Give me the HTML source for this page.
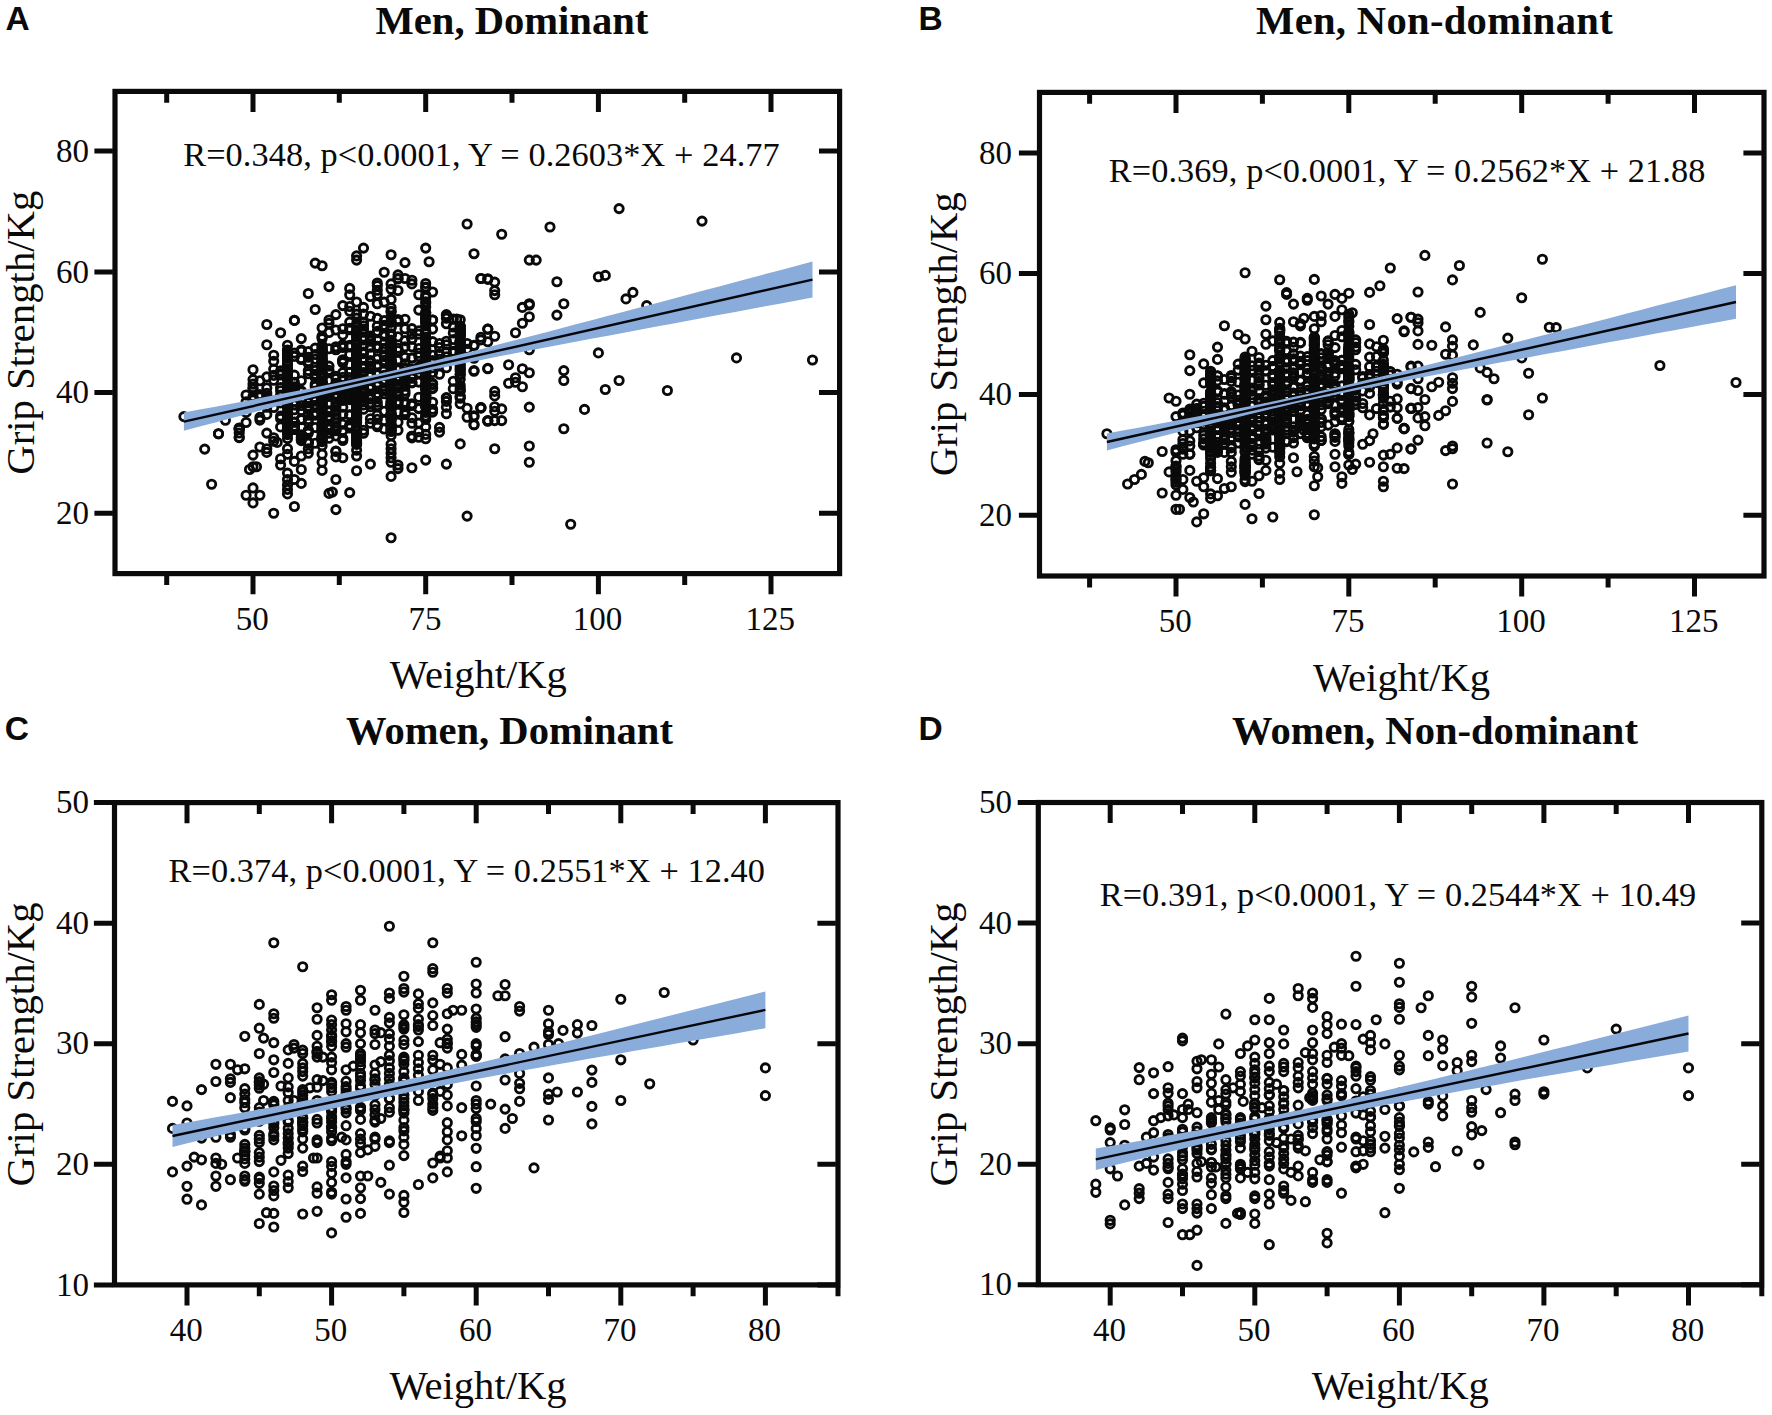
<!DOCTYPE html>
<html lang="en"><head><meta charset="utf-8"><title>Grip strength vs weight</title>
<style>
html,body{margin:0;padding:0;background:#fff}
svg{display:block}
text{font-family:"Liberation Serif","Times New Roman",serif;fill:#0a0a0a}
.tk{font-size:33px}
.an{font-size:34.3px}
.ax{font-size:40.6px}
.ti{font-size:40.6px;font-weight:bold}
.lt{font-family:"Liberation Sans",Arial,sans-serif;font-weight:bold;font-size:33.5px}
.fr{fill:none;stroke:#0a0a0a;stroke-width:5.2;stroke-linejoin:miter}
.t{stroke:#0a0a0a;stroke-width:5.0;fill:none}
.p circle{fill:none;stroke:#0a0a0a;stroke-width:2.85}
.bd{fill:#8aacda}
.ln{stroke:#05070d;stroke-width:2.4;fill:none}
</style></head><body>
<svg width="1772" height="1415" viewBox="0 0 1772 1415">
<rect width="1772" height="1415" fill="#fff"/>
<g id="panelA">
<g class="p">
<circle cx="239.2" cy="429.5" r="4.15"/><circle cx="239.2" cy="429.2" r="4.15"/><circle cx="239.2" cy="433" r="4.15"/><circle cx="246.1" cy="412.4" r="4.15"/><circle cx="246.1" cy="401.9" r="4.15"/><circle cx="246.1" cy="422.5" r="4.15"/><circle cx="253" cy="387.6" r="4.15"/><circle cx="253" cy="389.1" r="4.15"/><circle cx="253" cy="396.6" r="4.15"/><circle cx="253" cy="399" r="4.15"/><circle cx="253" cy="399.9" r="4.15"/><circle cx="259.9" cy="420.1" r="4.15"/><circle cx="259.9" cy="380.8" r="4.15"/><circle cx="259.9" cy="397" r="4.15"/><circle cx="259.9" cy="417.4" r="4.15"/><circle cx="259.9" cy="394.6" r="4.15"/><circle cx="266.8" cy="395.7" r="4.15"/><circle cx="266.8" cy="397.7" r="4.15"/><circle cx="266.8" cy="407.2" r="4.15"/><circle cx="266.8" cy="387.9" r="4.15"/><circle cx="266.8" cy="400.4" r="4.15"/><circle cx="266.8" cy="433.1" r="4.15"/><circle cx="266.8" cy="414.4" r="4.15"/><circle cx="266.8" cy="393.3" r="4.15"/><circle cx="273.7" cy="380.2" r="4.15"/><circle cx="273.7" cy="441.2" r="4.15"/><circle cx="273.7" cy="401.1" r="4.15"/><circle cx="273.7" cy="375.4" r="4.15"/><circle cx="273.7" cy="407.5" r="4.15"/><circle cx="273.7" cy="369.1" r="4.15"/><circle cx="273.7" cy="361.2" r="4.15"/><circle cx="273.7" cy="437.7" r="4.15"/><circle cx="280.6" cy="416.1" r="4.15"/><circle cx="280.6" cy="390.8" r="4.15"/><circle cx="280.6" cy="375" r="4.15"/><circle cx="280.6" cy="395.1" r="4.15"/><circle cx="280.6" cy="402.9" r="4.15"/><circle cx="280.6" cy="426.9" r="4.15"/><circle cx="280.6" cy="418.5" r="4.15"/><circle cx="280.6" cy="370.9" r="4.15"/><circle cx="280.6" cy="373.6" r="4.15"/><circle cx="280.6" cy="387.6" r="4.15"/><circle cx="287.5" cy="429.9" r="4.15"/><circle cx="287.5" cy="425.3" r="4.15"/><circle cx="287.5" cy="421.9" r="4.15"/><circle cx="287.5" cy="378.7" r="4.15"/><circle cx="287.5" cy="413" r="4.15"/><circle cx="287.5" cy="372.1" r="4.15"/><circle cx="287.5" cy="395.3" r="4.15"/><circle cx="287.5" cy="412.9" r="4.15"/><circle cx="287.5" cy="394.2" r="4.15"/><circle cx="287.5" cy="383.9" r="4.15"/><circle cx="287.5" cy="369.7" r="4.15"/><circle cx="287.5" cy="419.4" r="4.15"/><circle cx="287.5" cy="408.4" r="4.15"/><circle cx="287.5" cy="350.1" r="4.15"/><circle cx="287.5" cy="406" r="4.15"/><circle cx="287.5" cy="419.4" r="4.15"/><circle cx="287.5" cy="392.5" r="4.15"/><circle cx="287.5" cy="391.3" r="4.15"/><circle cx="287.5" cy="389.9" r="4.15"/><circle cx="287.5" cy="432.8" r="4.15"/><circle cx="287.5" cy="351.5" r="4.15"/><circle cx="287.5" cy="391.8" r="4.15"/><circle cx="287.5" cy="392.1" r="4.15"/><circle cx="287.5" cy="361.1" r="4.15"/><circle cx="287.5" cy="379.2" r="4.15"/><circle cx="287.5" cy="405.9" r="4.15"/><circle cx="287.5" cy="403.7" r="4.15"/><circle cx="287.5" cy="378.4" r="4.15"/><circle cx="287.5" cy="438.6" r="4.15"/><circle cx="287.5" cy="357.8" r="4.15"/><circle cx="287.5" cy="369" r="4.15"/><circle cx="287.5" cy="369.9" r="4.15"/><circle cx="287.5" cy="429" r="4.15"/><circle cx="287.5" cy="429" r="4.15"/><circle cx="287.5" cy="428.4" r="4.15"/><circle cx="287.5" cy="356.8" r="4.15"/><circle cx="287.5" cy="375.3" r="4.15"/><circle cx="287.5" cy="401.9" r="4.15"/><circle cx="287.5" cy="404.1" r="4.15"/><circle cx="287.5" cy="403.6" r="4.15"/><circle cx="287.5" cy="375.1" r="4.15"/><circle cx="287.5" cy="350.5" r="4.15"/><circle cx="287.5" cy="370.4" r="4.15"/><circle cx="287.5" cy="354.1" r="4.15"/><circle cx="287.5" cy="389.7" r="4.15"/><circle cx="287.5" cy="430.1" r="4.15"/><circle cx="287.5" cy="395.2" r="4.15"/><circle cx="287.5" cy="414.7" r="4.15"/><circle cx="287.5" cy="398.3" r="4.15"/><circle cx="287.5" cy="393.1" r="4.15"/><circle cx="287.5" cy="419.2" r="4.15"/><circle cx="287.5" cy="350.9" r="4.15"/><circle cx="287.5" cy="392.2" r="4.15"/><circle cx="287.5" cy="378.8" r="4.15"/><circle cx="287.5" cy="357.8" r="4.15"/><circle cx="287.5" cy="434.6" r="4.15"/><circle cx="287.5" cy="373.2" r="4.15"/><circle cx="287.5" cy="428.8" r="4.15"/><circle cx="287.5" cy="354.8" r="4.15"/><circle cx="287.5" cy="386.9" r="4.15"/><circle cx="287.5" cy="364.8" r="4.15"/><circle cx="287.5" cy="372.9" r="4.15"/><circle cx="287.5" cy="374.3" r="4.15"/><circle cx="287.5" cy="428.1" r="4.15"/><circle cx="287.5" cy="431.8" r="4.15"/><circle cx="287.5" cy="417.5" r="4.15"/><circle cx="287.5" cy="372.7" r="4.15"/><circle cx="287.5" cy="368.9" r="4.15"/><circle cx="287.5" cy="364.7" r="4.15"/><circle cx="287.5" cy="424.4" r="4.15"/><circle cx="287.5" cy="402.6" r="4.15"/><circle cx="287.5" cy="378.3" r="4.15"/><circle cx="287.5" cy="432.1" r="4.15"/><circle cx="287.5" cy="390" r="4.15"/><circle cx="287.5" cy="390.4" r="4.15"/><circle cx="294.4" cy="356.4" r="4.15"/><circle cx="294.4" cy="429.2" r="4.15"/><circle cx="294.4" cy="429.5" r="4.15"/><circle cx="294.4" cy="426.9" r="4.15"/><circle cx="294.4" cy="353.1" r="4.15"/><circle cx="294.4" cy="401.4" r="4.15"/><circle cx="294.4" cy="387.5" r="4.15"/><circle cx="294.4" cy="391.9" r="4.15"/><circle cx="294.4" cy="388.4" r="4.15"/><circle cx="294.4" cy="404.8" r="4.15"/><circle cx="294.4" cy="409.8" r="4.15"/><circle cx="294.4" cy="422.1" r="4.15"/><circle cx="294.4" cy="375.1" r="4.15"/><circle cx="294.4" cy="393.9" r="4.15"/><circle cx="294.4" cy="405" r="4.15"/><circle cx="294.4" cy="394" r="4.15"/><circle cx="294.4" cy="382.4" r="4.15"/><circle cx="294.4" cy="422.2" r="4.15"/><circle cx="294.4" cy="388.7" r="4.15"/><circle cx="294.4" cy="386.9" r="4.15"/><circle cx="294.4" cy="426.3" r="4.15"/><circle cx="294.4" cy="427.9" r="4.15"/><circle cx="301.3" cy="434.7" r="4.15"/><circle cx="301.3" cy="437.3" r="4.15"/><circle cx="301.3" cy="359.5" r="4.15"/><circle cx="301.3" cy="405.5" r="4.15"/><circle cx="301.3" cy="419.3" r="4.15"/><circle cx="301.3" cy="419.6" r="4.15"/><circle cx="301.3" cy="391" r="4.15"/><circle cx="301.3" cy="350" r="4.15"/><circle cx="301.3" cy="391.9" r="4.15"/><circle cx="301.3" cy="400.5" r="4.15"/><circle cx="301.3" cy="419.3" r="4.15"/><circle cx="301.3" cy="400.1" r="4.15"/><circle cx="301.3" cy="358.6" r="4.15"/><circle cx="301.3" cy="410.6" r="4.15"/><circle cx="301.3" cy="440.6" r="4.15"/><circle cx="301.3" cy="439" r="4.15"/><circle cx="301.3" cy="351.1" r="4.15"/><circle cx="301.3" cy="380.8" r="4.15"/><circle cx="308.3" cy="402.8" r="4.15"/><circle cx="308.3" cy="419.6" r="4.15"/><circle cx="308.3" cy="363.4" r="4.15"/><circle cx="308.3" cy="361.4" r="4.15"/><circle cx="308.3" cy="430.3" r="4.15"/><circle cx="308.3" cy="357.2" r="4.15"/><circle cx="308.3" cy="442.2" r="4.15"/><circle cx="308.3" cy="351.6" r="4.15"/><circle cx="308.3" cy="408.6" r="4.15"/><circle cx="308.3" cy="409" r="4.15"/><circle cx="308.3" cy="415.3" r="4.15"/><circle cx="308.3" cy="406.3" r="4.15"/><circle cx="308.3" cy="433.2" r="4.15"/><circle cx="308.3" cy="442.6" r="4.15"/><circle cx="308.3" cy="373.8" r="4.15"/><circle cx="308.3" cy="406.8" r="4.15"/><circle cx="308.3" cy="409.6" r="4.15"/><circle cx="308.3" cy="430.8" r="4.15"/><circle cx="308.3" cy="370.6" r="4.15"/><circle cx="308.3" cy="422.4" r="4.15"/><circle cx="315.2" cy="354.5" r="4.15"/><circle cx="315.2" cy="370.4" r="4.15"/><circle cx="315.2" cy="412.9" r="4.15"/><circle cx="315.2" cy="401.3" r="4.15"/><circle cx="315.2" cy="391" r="4.15"/><circle cx="315.2" cy="386.5" r="4.15"/><circle cx="315.2" cy="405.3" r="4.15"/><circle cx="315.2" cy="384.2" r="4.15"/><circle cx="315.2" cy="415.1" r="4.15"/><circle cx="315.2" cy="427.5" r="4.15"/><circle cx="315.2" cy="377.4" r="4.15"/><circle cx="315.2" cy="374.3" r="4.15"/><circle cx="315.2" cy="398.4" r="4.15"/><circle cx="315.2" cy="359.2" r="4.15"/><circle cx="315.2" cy="443.2" r="4.15"/><circle cx="315.2" cy="348.1" r="4.15"/><circle cx="315.2" cy="407.3" r="4.15"/><circle cx="315.2" cy="375.7" r="4.15"/><circle cx="322.1" cy="396.2" r="4.15"/><circle cx="322.1" cy="383" r="4.15"/><circle cx="322.1" cy="350.5" r="4.15"/><circle cx="322.1" cy="408.2" r="4.15"/><circle cx="322.1" cy="338.6" r="4.15"/><circle cx="322.1" cy="425.1" r="4.15"/><circle cx="322.1" cy="431.8" r="4.15"/><circle cx="322.1" cy="366.7" r="4.15"/><circle cx="322.1" cy="437.8" r="4.15"/><circle cx="322.1" cy="406.7" r="4.15"/><circle cx="322.1" cy="360.3" r="4.15"/><circle cx="322.1" cy="350.2" r="4.15"/><circle cx="322.1" cy="373.5" r="4.15"/><circle cx="322.1" cy="328" r="4.15"/><circle cx="322.1" cy="350.8" r="4.15"/><circle cx="322.1" cy="400.9" r="4.15"/><circle cx="322.1" cy="417" r="4.15"/><circle cx="322.1" cy="403.4" r="4.15"/><circle cx="322.1" cy="441.6" r="4.15"/><circle cx="322.1" cy="402" r="4.15"/><circle cx="322.1" cy="398.6" r="4.15"/><circle cx="322.1" cy="396.7" r="4.15"/><circle cx="322.1" cy="351.2" r="4.15"/><circle cx="322.1" cy="400.5" r="4.15"/><circle cx="322.1" cy="355.5" r="4.15"/><circle cx="322.1" cy="438.1" r="4.15"/><circle cx="322.1" cy="410.2" r="4.15"/><circle cx="322.1" cy="396.2" r="4.15"/><circle cx="322.1" cy="405.6" r="4.15"/><circle cx="322.1" cy="435" r="4.15"/><circle cx="322.1" cy="401.3" r="4.15"/><circle cx="322.1" cy="417.3" r="4.15"/><circle cx="322.1" cy="396.3" r="4.15"/><circle cx="322.1" cy="353.1" r="4.15"/><circle cx="322.1" cy="365.6" r="4.15"/><circle cx="322.1" cy="365" r="4.15"/><circle cx="322.1" cy="361.7" r="4.15"/><circle cx="322.1" cy="428.8" r="4.15"/><circle cx="322.1" cy="386" r="4.15"/><circle cx="322.1" cy="373.7" r="4.15"/><circle cx="322.1" cy="347.5" r="4.15"/><circle cx="322.1" cy="374.7" r="4.15"/><circle cx="322.1" cy="400.8" r="4.15"/><circle cx="322.1" cy="388.9" r="4.15"/><circle cx="322.1" cy="399.6" r="4.15"/><circle cx="322.1" cy="382.1" r="4.15"/><circle cx="322.1" cy="368" r="4.15"/><circle cx="322.1" cy="405.4" r="4.15"/><circle cx="322.1" cy="426.5" r="4.15"/><circle cx="322.1" cy="428.3" r="4.15"/><circle cx="322.1" cy="354" r="4.15"/><circle cx="322.1" cy="347.9" r="4.15"/><circle cx="322.1" cy="357.5" r="4.15"/><circle cx="322.1" cy="361.9" r="4.15"/><circle cx="322.1" cy="362.7" r="4.15"/><circle cx="322.1" cy="390.3" r="4.15"/><circle cx="322.1" cy="368.3" r="4.15"/><circle cx="322.1" cy="437.1" r="4.15"/><circle cx="322.1" cy="399.3" r="4.15"/><circle cx="322.1" cy="422.9" r="4.15"/><circle cx="322.1" cy="366.2" r="4.15"/><circle cx="322.1" cy="416.1" r="4.15"/><circle cx="322.1" cy="395" r="4.15"/><circle cx="322.1" cy="377" r="4.15"/><circle cx="322.1" cy="345.5" r="4.15"/><circle cx="322.1" cy="425.5" r="4.15"/><circle cx="322.1" cy="432.1" r="4.15"/><circle cx="322.1" cy="363.2" r="4.15"/><circle cx="322.1" cy="439.6" r="4.15"/><circle cx="322.1" cy="375.3" r="4.15"/><circle cx="322.1" cy="415.6" r="4.15"/><circle cx="322.1" cy="394.9" r="4.15"/><circle cx="322.1" cy="366.7" r="4.15"/><circle cx="322.1" cy="412.5" r="4.15"/><circle cx="322.1" cy="430.3" r="4.15"/><circle cx="322.1" cy="366.7" r="4.15"/><circle cx="322.1" cy="376.7" r="4.15"/><circle cx="322.1" cy="405.7" r="4.15"/><circle cx="322.1" cy="386.7" r="4.15"/><circle cx="322.1" cy="337.2" r="4.15"/><circle cx="322.1" cy="391.4" r="4.15"/><circle cx="322.1" cy="375.3" r="4.15"/><circle cx="322.1" cy="373.2" r="4.15"/><circle cx="322.1" cy="430.8" r="4.15"/><circle cx="322.1" cy="386" r="4.15"/><circle cx="322.1" cy="412.6" r="4.15"/><circle cx="322.1" cy="445.8" r="4.15"/><circle cx="322.1" cy="361.4" r="4.15"/><circle cx="322.1" cy="368.2" r="4.15"/><circle cx="322.1" cy="387.7" r="4.15"/><circle cx="322.1" cy="430.7" r="4.15"/><circle cx="322.1" cy="374.2" r="4.15"/><circle cx="322.1" cy="394.6" r="4.15"/><circle cx="322.1" cy="392.9" r="4.15"/><circle cx="322.1" cy="391.4" r="4.15"/><circle cx="322.1" cy="385.5" r="4.15"/><circle cx="322.1" cy="378.5" r="4.15"/><circle cx="322.1" cy="383" r="4.15"/><circle cx="322.1" cy="384.6" r="4.15"/><circle cx="322.1" cy="441.1" r="4.15"/><circle cx="322.1" cy="407.3" r="4.15"/><circle cx="322.1" cy="413" r="4.15"/><circle cx="322.1" cy="400.7" r="4.15"/><circle cx="322.1" cy="381.3" r="4.15"/><circle cx="322.1" cy="369.8" r="4.15"/><circle cx="322.1" cy="336.2" r="4.15"/><circle cx="322.1" cy="377" r="4.15"/><circle cx="322.1" cy="399.1" r="4.15"/><circle cx="322.1" cy="359.4" r="4.15"/><circle cx="322.1" cy="377" r="4.15"/><circle cx="322.1" cy="413.4" r="4.15"/><circle cx="322.1" cy="357.4" r="4.15"/><circle cx="322.1" cy="437.3" r="4.15"/><circle cx="322.1" cy="394.7" r="4.15"/><circle cx="322.1" cy="396.1" r="4.15"/><circle cx="329" cy="392.5" r="4.15"/><circle cx="329" cy="411.9" r="4.15"/><circle cx="329" cy="370.3" r="4.15"/><circle cx="329" cy="348.8" r="4.15"/><circle cx="329" cy="391.4" r="4.15"/><circle cx="329" cy="429.2" r="4.15"/><circle cx="329" cy="380.6" r="4.15"/><circle cx="329" cy="366.1" r="4.15"/><circle cx="329" cy="395.6" r="4.15"/><circle cx="329" cy="389.2" r="4.15"/><circle cx="329" cy="332.5" r="4.15"/><circle cx="329" cy="433.2" r="4.15"/><circle cx="329" cy="410.9" r="4.15"/><circle cx="329" cy="416.5" r="4.15"/><circle cx="329" cy="418.1" r="4.15"/><circle cx="329" cy="426.9" r="4.15"/><circle cx="329" cy="416.3" r="4.15"/><circle cx="329" cy="396.5" r="4.15"/><circle cx="329" cy="393.2" r="4.15"/><circle cx="329" cy="391.1" r="4.15"/><circle cx="329" cy="372.6" r="4.15"/><circle cx="329" cy="426" r="4.15"/><circle cx="329" cy="323.4" r="4.15"/><circle cx="329" cy="438.3" r="4.15"/><circle cx="335.9" cy="410.2" r="4.15"/><circle cx="335.9" cy="451" r="4.15"/><circle cx="335.9" cy="383.2" r="4.15"/><circle cx="335.9" cy="427.5" r="4.15"/><circle cx="335.9" cy="389.7" r="4.15"/><circle cx="335.9" cy="402.1" r="4.15"/><circle cx="335.9" cy="411.5" r="4.15"/><circle cx="335.9" cy="349.5" r="4.15"/><circle cx="335.9" cy="349.8" r="4.15"/><circle cx="335.9" cy="384.6" r="4.15"/><circle cx="335.9" cy="422.9" r="4.15"/><circle cx="335.9" cy="429.7" r="4.15"/><circle cx="335.9" cy="376.3" r="4.15"/><circle cx="335.9" cy="405.3" r="4.15"/><circle cx="335.9" cy="418.3" r="4.15"/><circle cx="335.9" cy="414.8" r="4.15"/><circle cx="335.9" cy="430.7" r="4.15"/><circle cx="335.9" cy="425.8" r="4.15"/><circle cx="335.9" cy="395.2" r="4.15"/><circle cx="335.9" cy="330" r="4.15"/><circle cx="335.9" cy="387.1" r="4.15"/><circle cx="335.9" cy="407.4" r="4.15"/><circle cx="335.9" cy="451.4" r="4.15"/><circle cx="335.9" cy="378.6" r="4.15"/><circle cx="335.9" cy="388.1" r="4.15"/><circle cx="335.9" cy="435.9" r="4.15"/><circle cx="335.9" cy="430.3" r="4.15"/><circle cx="335.9" cy="388.7" r="4.15"/><circle cx="335.9" cy="346.7" r="4.15"/><circle cx="342.8" cy="360.5" r="4.15"/><circle cx="342.8" cy="377.3" r="4.15"/><circle cx="342.8" cy="398.4" r="4.15"/><circle cx="342.8" cy="372.7" r="4.15"/><circle cx="342.8" cy="386" r="4.15"/><circle cx="342.8" cy="430.6" r="4.15"/><circle cx="342.8" cy="400.2" r="4.15"/><circle cx="342.8" cy="335" r="4.15"/><circle cx="342.8" cy="396.1" r="4.15"/><circle cx="342.8" cy="328.7" r="4.15"/><circle cx="342.8" cy="387.2" r="4.15"/><circle cx="342.8" cy="379.7" r="4.15"/><circle cx="342.8" cy="400.3" r="4.15"/><circle cx="342.8" cy="440.5" r="4.15"/><circle cx="342.8" cy="424.2" r="4.15"/><circle cx="342.8" cy="359.8" r="4.15"/><circle cx="342.8" cy="361.4" r="4.15"/><circle cx="342.8" cy="347.5" r="4.15"/><circle cx="342.8" cy="362.8" r="4.15"/><circle cx="342.8" cy="344.8" r="4.15"/><circle cx="342.8" cy="396.1" r="4.15"/><circle cx="342.8" cy="394.4" r="4.15"/><circle cx="342.8" cy="346.3" r="4.15"/><circle cx="342.8" cy="399.5" r="4.15"/><circle cx="342.8" cy="438.5" r="4.15"/><circle cx="342.8" cy="394.5" r="4.15"/><circle cx="342.8" cy="407.2" r="4.15"/><circle cx="342.8" cy="361.1" r="4.15"/><circle cx="342.8" cy="414.2" r="4.15"/><circle cx="349.7" cy="426.2" r="4.15"/><circle cx="349.7" cy="397.2" r="4.15"/><circle cx="349.7" cy="322.1" r="4.15"/><circle cx="349.7" cy="385.8" r="4.15"/><circle cx="349.7" cy="377.5" r="4.15"/><circle cx="349.7" cy="383.6" r="4.15"/><circle cx="349.7" cy="372.2" r="4.15"/><circle cx="349.7" cy="346.9" r="4.15"/><circle cx="349.7" cy="328.3" r="4.15"/><circle cx="349.7" cy="329.7" r="4.15"/><circle cx="349.7" cy="384.1" r="4.15"/><circle cx="349.7" cy="396.7" r="4.15"/><circle cx="349.7" cy="390.7" r="4.15"/><circle cx="349.7" cy="306.5" r="4.15"/><circle cx="349.7" cy="345.4" r="4.15"/><circle cx="349.7" cy="424.9" r="4.15"/><circle cx="349.7" cy="364.5" r="4.15"/><circle cx="349.7" cy="354.6" r="4.15"/><circle cx="349.7" cy="388.9" r="4.15"/><circle cx="349.7" cy="397.6" r="4.15"/><circle cx="349.7" cy="391.6" r="4.15"/><circle cx="349.7" cy="428" r="4.15"/><circle cx="349.7" cy="311.2" r="4.15"/><circle cx="349.7" cy="393.7" r="4.15"/><circle cx="349.7" cy="399.6" r="4.15"/><circle cx="349.7" cy="395.9" r="4.15"/><circle cx="349.7" cy="415.1" r="4.15"/><circle cx="349.7" cy="414.8" r="4.15"/><circle cx="349.7" cy="380.2" r="4.15"/><circle cx="356.6" cy="372" r="4.15"/><circle cx="356.6" cy="405" r="4.15"/><circle cx="356.6" cy="386.4" r="4.15"/><circle cx="356.6" cy="444.4" r="4.15"/><circle cx="356.6" cy="365.1" r="4.15"/><circle cx="356.6" cy="415.8" r="4.15"/><circle cx="356.6" cy="375.3" r="4.15"/><circle cx="356.6" cy="422.8" r="4.15"/><circle cx="356.6" cy="405.3" r="4.15"/><circle cx="356.6" cy="375.3" r="4.15"/><circle cx="356.6" cy="436.4" r="4.15"/><circle cx="356.6" cy="384" r="4.15"/><circle cx="356.6" cy="385.6" r="4.15"/><circle cx="356.6" cy="415.1" r="4.15"/><circle cx="356.6" cy="329.7" r="4.15"/><circle cx="356.6" cy="336.6" r="4.15"/><circle cx="356.6" cy="372.5" r="4.15"/><circle cx="356.6" cy="443.4" r="4.15"/><circle cx="356.6" cy="404.8" r="4.15"/><circle cx="356.6" cy="362" r="4.15"/><circle cx="356.6" cy="405.2" r="4.15"/><circle cx="356.6" cy="435.2" r="4.15"/><circle cx="356.6" cy="435.3" r="4.15"/><circle cx="356.6" cy="416.8" r="4.15"/><circle cx="356.6" cy="381.9" r="4.15"/><circle cx="356.6" cy="411.3" r="4.15"/><circle cx="356.6" cy="381.8" r="4.15"/><circle cx="356.6" cy="323.8" r="4.15"/><circle cx="356.6" cy="428.6" r="4.15"/><circle cx="356.6" cy="371" r="4.15"/><circle cx="356.6" cy="379.5" r="4.15"/><circle cx="356.6" cy="388.5" r="4.15"/><circle cx="356.6" cy="347.9" r="4.15"/><circle cx="356.6" cy="397.2" r="4.15"/><circle cx="356.6" cy="396.9" r="4.15"/><circle cx="356.6" cy="399.1" r="4.15"/><circle cx="356.6" cy="386.8" r="4.15"/><circle cx="356.6" cy="339.9" r="4.15"/><circle cx="356.6" cy="356.7" r="4.15"/><circle cx="356.6" cy="442.2" r="4.15"/><circle cx="356.6" cy="402.1" r="4.15"/><circle cx="356.6" cy="417.9" r="4.15"/><circle cx="356.6" cy="355.4" r="4.15"/><circle cx="356.6" cy="374.9" r="4.15"/><circle cx="356.6" cy="353" r="4.15"/><circle cx="356.6" cy="385.1" r="4.15"/><circle cx="356.6" cy="367.5" r="4.15"/><circle cx="356.6" cy="374.8" r="4.15"/><circle cx="356.6" cy="365.6" r="4.15"/><circle cx="356.6" cy="440.5" r="4.15"/><circle cx="356.6" cy="379.7" r="4.15"/><circle cx="356.6" cy="413" r="4.15"/><circle cx="356.6" cy="413" r="4.15"/><circle cx="356.6" cy="370.7" r="4.15"/><circle cx="356.6" cy="370.7" r="4.15"/><circle cx="356.6" cy="422.2" r="4.15"/><circle cx="356.6" cy="408" r="4.15"/><circle cx="356.6" cy="345.3" r="4.15"/><circle cx="356.6" cy="384.8" r="4.15"/><circle cx="356.6" cy="420.8" r="4.15"/><circle cx="356.6" cy="368.4" r="4.15"/><circle cx="356.6" cy="327.1" r="4.15"/><circle cx="356.6" cy="343.8" r="4.15"/><circle cx="356.6" cy="370.2" r="4.15"/><circle cx="356.6" cy="375.8" r="4.15"/><circle cx="356.6" cy="429.6" r="4.15"/><circle cx="356.6" cy="402.5" r="4.15"/><circle cx="356.6" cy="397.2" r="4.15"/><circle cx="356.6" cy="416.9" r="4.15"/><circle cx="356.6" cy="380.3" r="4.15"/><circle cx="356.6" cy="399.9" r="4.15"/><circle cx="356.6" cy="371.2" r="4.15"/><circle cx="356.6" cy="335" r="4.15"/><circle cx="356.6" cy="357.9" r="4.15"/><circle cx="356.6" cy="368.6" r="4.15"/><circle cx="356.6" cy="393.1" r="4.15"/><circle cx="356.6" cy="450.2" r="4.15"/><circle cx="356.6" cy="387.4" r="4.15"/><circle cx="356.6" cy="364.4" r="4.15"/><circle cx="356.6" cy="427.3" r="4.15"/><circle cx="356.6" cy="341" r="4.15"/><circle cx="356.6" cy="397.2" r="4.15"/><circle cx="356.6" cy="370.1" r="4.15"/><circle cx="356.6" cy="397" r="4.15"/><circle cx="356.6" cy="438.4" r="4.15"/><circle cx="356.6" cy="314.1" r="4.15"/><circle cx="356.6" cy="434.2" r="4.15"/><circle cx="356.6" cy="352" r="4.15"/><circle cx="356.6" cy="407.2" r="4.15"/><circle cx="356.6" cy="373.1" r="4.15"/><circle cx="356.6" cy="418.3" r="4.15"/><circle cx="356.6" cy="400.9" r="4.15"/><circle cx="356.6" cy="352" r="4.15"/><circle cx="356.6" cy="318.1" r="4.15"/><circle cx="356.6" cy="420.1" r="4.15"/><circle cx="356.6" cy="382" r="4.15"/><circle cx="356.6" cy="351.1" r="4.15"/><circle cx="356.6" cy="410.5" r="4.15"/><circle cx="356.6" cy="358.9" r="4.15"/><circle cx="356.6" cy="417.4" r="4.15"/><circle cx="356.6" cy="362.4" r="4.15"/><circle cx="356.6" cy="367.9" r="4.15"/><circle cx="356.6" cy="342.3" r="4.15"/><circle cx="356.6" cy="370.4" r="4.15"/><circle cx="356.6" cy="435.6" r="4.15"/><circle cx="356.6" cy="360.4" r="4.15"/><circle cx="356.6" cy="431.5" r="4.15"/><circle cx="356.6" cy="357.6" r="4.15"/><circle cx="356.6" cy="332.5" r="4.15"/><circle cx="356.6" cy="362.7" r="4.15"/><circle cx="356.6" cy="407" r="4.15"/><circle cx="356.6" cy="343" r="4.15"/><circle cx="356.6" cy="376.8" r="4.15"/><circle cx="356.6" cy="437.9" r="4.15"/><circle cx="356.6" cy="398.2" r="4.15"/><circle cx="356.6" cy="335.5" r="4.15"/><circle cx="356.6" cy="395.9" r="4.15"/><circle cx="356.6" cy="378.3" r="4.15"/><circle cx="356.6" cy="397.7" r="4.15"/><circle cx="356.6" cy="405.1" r="4.15"/><circle cx="363.5" cy="366.6" r="4.15"/><circle cx="363.5" cy="372.5" r="4.15"/><circle cx="363.5" cy="387.7" r="4.15"/><circle cx="363.5" cy="332.1" r="4.15"/><circle cx="363.5" cy="352.1" r="4.15"/><circle cx="363.5" cy="340" r="4.15"/><circle cx="363.5" cy="329" r="4.15"/><circle cx="363.5" cy="398.5" r="4.15"/><circle cx="363.5" cy="404.9" r="4.15"/><circle cx="363.5" cy="368.3" r="4.15"/><circle cx="363.5" cy="314.1" r="4.15"/><circle cx="363.5" cy="389.9" r="4.15"/><circle cx="363.5" cy="409.3" r="4.15"/><circle cx="363.5" cy="358.5" r="4.15"/><circle cx="363.5" cy="322.5" r="4.15"/><circle cx="363.5" cy="392.6" r="4.15"/><circle cx="363.5" cy="430.2" r="4.15"/><circle cx="363.5" cy="378.8" r="4.15"/><circle cx="363.5" cy="392.1" r="4.15"/><circle cx="363.5" cy="345.5" r="4.15"/><circle cx="363.5" cy="401.6" r="4.15"/><circle cx="363.5" cy="353.6" r="4.15"/><circle cx="363.5" cy="433.2" r="4.15"/><circle cx="363.5" cy="337.1" r="4.15"/><circle cx="363.5" cy="338.8" r="4.15"/><circle cx="363.5" cy="325.8" r="4.15"/><circle cx="363.5" cy="395.7" r="4.15"/><circle cx="370.4" cy="388.6" r="4.15"/><circle cx="370.4" cy="365.8" r="4.15"/><circle cx="370.4" cy="418.7" r="4.15"/><circle cx="370.4" cy="398.9" r="4.15"/><circle cx="370.4" cy="368.5" r="4.15"/><circle cx="370.4" cy="385.9" r="4.15"/><circle cx="370.4" cy="396.3" r="4.15"/><circle cx="370.4" cy="362.2" r="4.15"/><circle cx="370.4" cy="367.4" r="4.15"/><circle cx="370.4" cy="339" r="4.15"/><circle cx="370.4" cy="406.7" r="4.15"/><circle cx="370.4" cy="347.3" r="4.15"/><circle cx="370.4" cy="366.8" r="4.15"/><circle cx="370.4" cy="336" r="4.15"/><circle cx="370.4" cy="341.2" r="4.15"/><circle cx="370.4" cy="375.1" r="4.15"/><circle cx="370.4" cy="403.9" r="4.15"/><circle cx="370.4" cy="338.4" r="4.15"/><circle cx="370.4" cy="362.4" r="4.15"/><circle cx="370.4" cy="423.2" r="4.15"/><circle cx="370.4" cy="360.6" r="4.15"/><circle cx="370.4" cy="374.9" r="4.15"/><circle cx="370.4" cy="368.1" r="4.15"/><circle cx="370.4" cy="353.7" r="4.15"/><circle cx="370.4" cy="373.4" r="4.15"/><circle cx="370.4" cy="316.2" r="4.15"/><circle cx="370.4" cy="402.7" r="4.15"/><circle cx="377.3" cy="393.6" r="4.15"/><circle cx="377.3" cy="364.8" r="4.15"/><circle cx="377.3" cy="347.9" r="4.15"/><circle cx="377.3" cy="346.3" r="4.15"/><circle cx="377.3" cy="318.4" r="4.15"/><circle cx="377.3" cy="396.6" r="4.15"/><circle cx="377.3" cy="331.2" r="4.15"/><circle cx="377.3" cy="359" r="4.15"/><circle cx="377.3" cy="419.2" r="4.15"/><circle cx="377.3" cy="383.1" r="4.15"/><circle cx="377.3" cy="294.6" r="4.15"/><circle cx="377.3" cy="346.4" r="4.15"/><circle cx="377.3" cy="396.3" r="4.15"/><circle cx="377.3" cy="406.9" r="4.15"/><circle cx="377.3" cy="405.6" r="4.15"/><circle cx="377.3" cy="374.6" r="4.15"/><circle cx="377.3" cy="285.6" r="4.15"/><circle cx="377.3" cy="347.9" r="4.15"/><circle cx="377.3" cy="365.2" r="4.15"/><circle cx="377.3" cy="414.9" r="4.15"/><circle cx="377.3" cy="424.9" r="4.15"/><circle cx="377.3" cy="385.9" r="4.15"/><circle cx="377.3" cy="396.3" r="4.15"/><circle cx="377.3" cy="393.7" r="4.15"/><circle cx="377.3" cy="402.2" r="4.15"/><circle cx="377.3" cy="332.7" r="4.15"/><circle cx="377.3" cy="374.6" r="4.15"/><circle cx="377.3" cy="426.8" r="4.15"/><circle cx="377.3" cy="326.3" r="4.15"/><circle cx="384.2" cy="388.5" r="4.15"/><circle cx="384.2" cy="429" r="4.15"/><circle cx="384.2" cy="363.3" r="4.15"/><circle cx="384.2" cy="356.6" r="4.15"/><circle cx="384.2" cy="389.5" r="4.15"/><circle cx="384.2" cy="348.3" r="4.15"/><circle cx="384.2" cy="343.4" r="4.15"/><circle cx="384.2" cy="411.2" r="4.15"/><circle cx="384.2" cy="381.2" r="4.15"/><circle cx="384.2" cy="327.1" r="4.15"/><circle cx="384.2" cy="336.1" r="4.15"/><circle cx="384.2" cy="320.6" r="4.15"/><circle cx="384.2" cy="302.1" r="4.15"/><circle cx="384.2" cy="375.4" r="4.15"/><circle cx="384.2" cy="334" r="4.15"/><circle cx="384.2" cy="348.6" r="4.15"/><circle cx="384.2" cy="360.4" r="4.15"/><circle cx="384.2" cy="379.8" r="4.15"/><circle cx="384.2" cy="393.7" r="4.15"/><circle cx="384.2" cy="420.5" r="4.15"/><circle cx="384.2" cy="370.5" r="4.15"/><circle cx="384.2" cy="325.2" r="4.15"/><circle cx="384.2" cy="390.7" r="4.15"/><circle cx="384.2" cy="354.9" r="4.15"/><circle cx="391.1" cy="404.1" r="4.15"/><circle cx="391.1" cy="366.1" r="4.15"/><circle cx="391.1" cy="419.4" r="4.15"/><circle cx="391.1" cy="362" r="4.15"/><circle cx="391.1" cy="384.2" r="4.15"/><circle cx="391.1" cy="364.1" r="4.15"/><circle cx="391.1" cy="401.6" r="4.15"/><circle cx="391.1" cy="427" r="4.15"/><circle cx="391.1" cy="389.2" r="4.15"/><circle cx="391.1" cy="340.3" r="4.15"/><circle cx="391.1" cy="322.4" r="4.15"/><circle cx="391.1" cy="389" r="4.15"/><circle cx="391.1" cy="348.1" r="4.15"/><circle cx="391.1" cy="349.5" r="4.15"/><circle cx="391.1" cy="361.5" r="4.15"/><circle cx="391.1" cy="363.8" r="4.15"/><circle cx="391.1" cy="417.8" r="4.15"/><circle cx="391.1" cy="335.7" r="4.15"/><circle cx="391.1" cy="348.5" r="4.15"/><circle cx="391.1" cy="354.1" r="4.15"/><circle cx="391.1" cy="354" r="4.15"/><circle cx="391.1" cy="351.4" r="4.15"/><circle cx="391.1" cy="431.5" r="4.15"/><circle cx="391.1" cy="342.5" r="4.15"/><circle cx="391.1" cy="372" r="4.15"/><circle cx="391.1" cy="382.7" r="4.15"/><circle cx="391.1" cy="406.3" r="4.15"/><circle cx="391.1" cy="419.9" r="4.15"/><circle cx="391.1" cy="393.9" r="4.15"/><circle cx="391.1" cy="367.8" r="4.15"/><circle cx="391.1" cy="367.6" r="4.15"/><circle cx="391.1" cy="403.4" r="4.15"/><circle cx="391.1" cy="402.1" r="4.15"/><circle cx="391.1" cy="399.1" r="4.15"/><circle cx="391.1" cy="414" r="4.15"/><circle cx="391.1" cy="345.6" r="4.15"/><circle cx="391.1" cy="386.6" r="4.15"/><circle cx="391.1" cy="345.9" r="4.15"/><circle cx="391.1" cy="426" r="4.15"/><circle cx="391.1" cy="343.8" r="4.15"/><circle cx="391.1" cy="375.7" r="4.15"/><circle cx="391.1" cy="352.5" r="4.15"/><circle cx="391.1" cy="379.1" r="4.15"/><circle cx="391.1" cy="414.1" r="4.15"/><circle cx="391.1" cy="334.5" r="4.15"/><circle cx="391.1" cy="393.9" r="4.15"/><circle cx="391.1" cy="381.1" r="4.15"/><circle cx="391.1" cy="414" r="4.15"/><circle cx="391.1" cy="367.8" r="4.15"/><circle cx="391.1" cy="391.9" r="4.15"/><circle cx="391.1" cy="365.2" r="4.15"/><circle cx="391.1" cy="363.1" r="4.15"/><circle cx="391.1" cy="405.2" r="4.15"/><circle cx="391.1" cy="360.2" r="4.15"/><circle cx="391.1" cy="344.2" r="4.15"/><circle cx="391.1" cy="351.5" r="4.15"/><circle cx="391.1" cy="425.6" r="4.15"/><circle cx="391.1" cy="354.5" r="4.15"/><circle cx="391.1" cy="361.8" r="4.15"/><circle cx="391.1" cy="365.1" r="4.15"/><circle cx="391.1" cy="360.3" r="4.15"/><circle cx="391.1" cy="388.9" r="4.15"/><circle cx="391.1" cy="367.4" r="4.15"/><circle cx="391.1" cy="343.9" r="4.15"/><circle cx="391.1" cy="397" r="4.15"/><circle cx="391.1" cy="379.2" r="4.15"/><circle cx="391.1" cy="368" r="4.15"/><circle cx="391.1" cy="404.7" r="4.15"/><circle cx="391.1" cy="355" r="4.15"/><circle cx="391.1" cy="381.2" r="4.15"/><circle cx="391.1" cy="371.4" r="4.15"/><circle cx="391.1" cy="430.7" r="4.15"/><circle cx="391.1" cy="344.6" r="4.15"/><circle cx="391.1" cy="316.6" r="4.15"/><circle cx="391.1" cy="383.4" r="4.15"/><circle cx="391.1" cy="407.2" r="4.15"/><circle cx="391.1" cy="426.1" r="4.15"/><circle cx="391.1" cy="345.1" r="4.15"/><circle cx="391.1" cy="371.1" r="4.15"/><circle cx="391.1" cy="409.9" r="4.15"/><circle cx="391.1" cy="334.4" r="4.15"/><circle cx="391.1" cy="349.3" r="4.15"/><circle cx="391.1" cy="354.6" r="4.15"/><circle cx="391.1" cy="379.1" r="4.15"/><circle cx="391.1" cy="353.8" r="4.15"/><circle cx="391.1" cy="429.1" r="4.15"/><circle cx="391.1" cy="343.8" r="4.15"/><circle cx="391.1" cy="327.3" r="4.15"/><circle cx="391.1" cy="340.4" r="4.15"/><circle cx="391.1" cy="406.7" r="4.15"/><circle cx="391.1" cy="406.1" r="4.15"/><circle cx="391.1" cy="343.4" r="4.15"/><circle cx="391.1" cy="341.7" r="4.15"/><circle cx="391.1" cy="333.9" r="4.15"/><circle cx="391.1" cy="334.9" r="4.15"/><circle cx="391.1" cy="379" r="4.15"/><circle cx="391.1" cy="392.8" r="4.15"/><circle cx="391.1" cy="348.6" r="4.15"/><circle cx="391.1" cy="299.4" r="4.15"/><circle cx="391.1" cy="395.2" r="4.15"/><circle cx="391.1" cy="395.7" r="4.15"/><circle cx="391.1" cy="353.1" r="4.15"/><circle cx="391.1" cy="362.1" r="4.15"/><circle cx="391.1" cy="435.6" r="4.15"/><circle cx="391.1" cy="406.4" r="4.15"/><circle cx="391.1" cy="423.5" r="4.15"/><circle cx="391.1" cy="307.8" r="4.15"/><circle cx="391.1" cy="406.5" r="4.15"/><circle cx="391.1" cy="346.3" r="4.15"/><circle cx="391.1" cy="311.2" r="4.15"/><circle cx="391.1" cy="312" r="4.15"/><circle cx="391.1" cy="327.4" r="4.15"/><circle cx="391.1" cy="320.7" r="4.15"/><circle cx="391.1" cy="429.6" r="4.15"/><circle cx="391.1" cy="389.9" r="4.15"/><circle cx="398" cy="401.9" r="4.15"/><circle cx="398" cy="384.5" r="4.15"/><circle cx="398" cy="350.7" r="4.15"/><circle cx="398" cy="422.2" r="4.15"/><circle cx="398" cy="319.6" r="4.15"/><circle cx="398" cy="321.2" r="4.15"/><circle cx="398" cy="393.3" r="4.15"/><circle cx="398" cy="290.5" r="4.15"/><circle cx="398" cy="369.9" r="4.15"/><circle cx="398" cy="321" r="4.15"/><circle cx="398" cy="360.5" r="4.15"/><circle cx="398" cy="395.2" r="4.15"/><circle cx="398" cy="388.1" r="4.15"/><circle cx="398" cy="377.6" r="4.15"/><circle cx="398" cy="348.3" r="4.15"/><circle cx="398" cy="367.9" r="4.15"/><circle cx="398" cy="278.9" r="4.15"/><circle cx="398" cy="380.6" r="4.15"/><circle cx="398" cy="391.5" r="4.15"/><circle cx="398" cy="401.6" r="4.15"/><circle cx="398" cy="403.9" r="4.15"/><circle cx="398" cy="430.3" r="4.15"/><circle cx="398" cy="412.2" r="4.15"/><circle cx="398" cy="336.8" r="4.15"/><circle cx="405" cy="369" r="4.15"/><circle cx="405" cy="378.2" r="4.15"/><circle cx="405" cy="357.4" r="4.15"/><circle cx="405" cy="328.8" r="4.15"/><circle cx="405" cy="346.8" r="4.15"/><circle cx="405" cy="340.6" r="4.15"/><circle cx="405" cy="393.7" r="4.15"/><circle cx="405" cy="381.8" r="4.15"/><circle cx="405" cy="402.3" r="4.15"/><circle cx="405" cy="375.2" r="4.15"/><circle cx="405" cy="403.9" r="4.15"/><circle cx="405" cy="386.2" r="4.15"/><circle cx="405" cy="378.3" r="4.15"/><circle cx="405" cy="380" r="4.15"/><circle cx="405" cy="382" r="4.15"/><circle cx="405" cy="390.9" r="4.15"/><circle cx="405" cy="319.2" r="4.15"/><circle cx="405" cy="385" r="4.15"/><circle cx="405" cy="411.6" r="4.15"/><circle cx="405" cy="363.7" r="4.15"/><circle cx="405" cy="414.7" r="4.15"/><circle cx="405" cy="414.1" r="4.15"/><circle cx="405" cy="368" r="4.15"/><circle cx="411.9" cy="436.2" r="4.15"/><circle cx="411.9" cy="358.3" r="4.15"/><circle cx="411.9" cy="328.6" r="4.15"/><circle cx="411.9" cy="436.3" r="4.15"/><circle cx="411.9" cy="405.5" r="4.15"/><circle cx="411.9" cy="346.8" r="4.15"/><circle cx="411.9" cy="404.6" r="4.15"/><circle cx="411.9" cy="417.7" r="4.15"/><circle cx="411.9" cy="377.7" r="4.15"/><circle cx="411.9" cy="334.1" r="4.15"/><circle cx="411.9" cy="375.5" r="4.15"/><circle cx="411.9" cy="357.7" r="4.15"/><circle cx="411.9" cy="382.9" r="4.15"/><circle cx="411.9" cy="375.8" r="4.15"/><circle cx="411.9" cy="423.2" r="4.15"/><circle cx="411.9" cy="369.4" r="4.15"/><circle cx="411.9" cy="403.7" r="4.15"/><circle cx="411.9" cy="382.4" r="4.15"/><circle cx="411.9" cy="378.2" r="4.15"/><circle cx="411.9" cy="339" r="4.15"/><circle cx="411.9" cy="339.2" r="4.15"/><circle cx="418.8" cy="408.3" r="4.15"/><circle cx="418.8" cy="368.9" r="4.15"/><circle cx="418.8" cy="310.1" r="4.15"/><circle cx="418.8" cy="348.5" r="4.15"/><circle cx="418.8" cy="397.3" r="4.15"/><circle cx="418.8" cy="373" r="4.15"/><circle cx="418.8" cy="382.1" r="4.15"/><circle cx="418.8" cy="330.7" r="4.15"/><circle cx="418.8" cy="366.9" r="4.15"/><circle cx="418.8" cy="353.3" r="4.15"/><circle cx="418.8" cy="423.1" r="4.15"/><circle cx="418.8" cy="408.6" r="4.15"/><circle cx="418.8" cy="437.2" r="4.15"/><circle cx="418.8" cy="431.7" r="4.15"/><circle cx="418.8" cy="334.1" r="4.15"/><circle cx="418.8" cy="356.6" r="4.15"/><circle cx="425.7" cy="312.8" r="4.15"/><circle cx="425.7" cy="406" r="4.15"/><circle cx="425.7" cy="319" r="4.15"/><circle cx="425.7" cy="332.7" r="4.15"/><circle cx="425.7" cy="337.4" r="4.15"/><circle cx="425.7" cy="337.9" r="4.15"/><circle cx="425.7" cy="365.6" r="4.15"/><circle cx="425.7" cy="367.1" r="4.15"/><circle cx="425.7" cy="365.6" r="4.15"/><circle cx="425.7" cy="338.8" r="4.15"/><circle cx="425.7" cy="373.9" r="4.15"/><circle cx="425.7" cy="356.1" r="4.15"/><circle cx="425.7" cy="318.7" r="4.15"/><circle cx="425.7" cy="416.9" r="4.15"/><circle cx="425.7" cy="400.1" r="4.15"/><circle cx="425.7" cy="348" r="4.15"/><circle cx="425.7" cy="378.4" r="4.15"/><circle cx="425.7" cy="373.6" r="4.15"/><circle cx="425.7" cy="297.4" r="4.15"/><circle cx="425.7" cy="352.9" r="4.15"/><circle cx="425.7" cy="385.3" r="4.15"/><circle cx="425.7" cy="330.4" r="4.15"/><circle cx="425.7" cy="283.5" r="4.15"/><circle cx="425.7" cy="416.1" r="4.15"/><circle cx="425.7" cy="396.5" r="4.15"/><circle cx="425.7" cy="362.8" r="4.15"/><circle cx="425.7" cy="395" r="4.15"/><circle cx="425.7" cy="295" r="4.15"/><circle cx="425.7" cy="349.3" r="4.15"/><circle cx="425.7" cy="384.4" r="4.15"/><circle cx="425.7" cy="350.4" r="4.15"/><circle cx="425.7" cy="402.2" r="4.15"/><circle cx="425.7" cy="393.6" r="4.15"/><circle cx="425.7" cy="363.2" r="4.15"/><circle cx="425.7" cy="287.8" r="4.15"/><circle cx="425.7" cy="352.8" r="4.15"/><circle cx="425.7" cy="322" r="4.15"/><circle cx="425.7" cy="342.2" r="4.15"/><circle cx="425.7" cy="303.2" r="4.15"/><circle cx="425.7" cy="351.8" r="4.15"/><circle cx="425.7" cy="361.8" r="4.15"/><circle cx="425.7" cy="372.5" r="4.15"/><circle cx="425.7" cy="404.9" r="4.15"/><circle cx="425.7" cy="312.7" r="4.15"/><circle cx="425.7" cy="419.4" r="4.15"/><circle cx="425.7" cy="372.2" r="4.15"/><circle cx="425.7" cy="390" r="4.15"/><circle cx="425.7" cy="401.7" r="4.15"/><circle cx="425.7" cy="383.7" r="4.15"/><circle cx="425.7" cy="362.1" r="4.15"/><circle cx="425.7" cy="361.9" r="4.15"/><circle cx="425.7" cy="338.8" r="4.15"/><circle cx="425.7" cy="373.9" r="4.15"/><circle cx="425.7" cy="395.2" r="4.15"/><circle cx="425.7" cy="356.5" r="4.15"/><circle cx="425.7" cy="344.7" r="4.15"/><circle cx="425.7" cy="407" r="4.15"/><circle cx="425.7" cy="434.4" r="4.15"/><circle cx="425.7" cy="412.4" r="4.15"/><circle cx="425.7" cy="331.7" r="4.15"/><circle cx="425.7" cy="333.7" r="4.15"/><circle cx="425.7" cy="406.2" r="4.15"/><circle cx="425.7" cy="363" r="4.15"/><circle cx="425.7" cy="339" r="4.15"/><circle cx="425.7" cy="322.8" r="4.15"/><circle cx="425.7" cy="396" r="4.15"/><circle cx="425.7" cy="377.3" r="4.15"/><circle cx="425.7" cy="320.1" r="4.15"/><circle cx="425.7" cy="287.1" r="4.15"/><circle cx="425.7" cy="316.1" r="4.15"/><circle cx="425.7" cy="417.5" r="4.15"/><circle cx="425.7" cy="351.8" r="4.15"/><circle cx="425.7" cy="380" r="4.15"/><circle cx="425.7" cy="369.3" r="4.15"/><circle cx="425.7" cy="396.2" r="4.15"/><circle cx="425.7" cy="388" r="4.15"/><circle cx="425.7" cy="367.1" r="4.15"/><circle cx="425.7" cy="307.1" r="4.15"/><circle cx="425.7" cy="343.6" r="4.15"/><circle cx="425.7" cy="352.6" r="4.15"/><circle cx="425.7" cy="365.8" r="4.15"/><circle cx="425.7" cy="400.1" r="4.15"/><circle cx="425.7" cy="376.9" r="4.15"/><circle cx="425.7" cy="325.7" r="4.15"/><circle cx="425.7" cy="339.2" r="4.15"/><circle cx="425.7" cy="301.8" r="4.15"/><circle cx="425.7" cy="358" r="4.15"/><circle cx="425.7" cy="367.5" r="4.15"/><circle cx="425.7" cy="438.8" r="4.15"/><circle cx="425.7" cy="353.5" r="4.15"/><circle cx="425.7" cy="316.3" r="4.15"/><circle cx="425.7" cy="394.7" r="4.15"/><circle cx="425.7" cy="366.6" r="4.15"/><circle cx="425.7" cy="426.9" r="4.15"/><circle cx="425.7" cy="388.8" r="4.15"/><circle cx="432.6" cy="402.2" r="4.15"/><circle cx="432.6" cy="320" r="4.15"/><circle cx="432.6" cy="355.2" r="4.15"/><circle cx="432.6" cy="412.1" r="4.15"/><circle cx="432.6" cy="367.8" r="4.15"/><circle cx="432.6" cy="384.5" r="4.15"/><circle cx="432.6" cy="409.3" r="4.15"/><circle cx="432.6" cy="341.6" r="4.15"/><circle cx="432.6" cy="372.5" r="4.15"/><circle cx="432.6" cy="360.6" r="4.15"/><circle cx="432.6" cy="388.6" r="4.15"/><circle cx="432.6" cy="387.8" r="4.15"/><circle cx="432.6" cy="383.4" r="4.15"/><circle cx="439.5" cy="427.4" r="4.15"/><circle cx="439.5" cy="347.5" r="4.15"/><circle cx="439.5" cy="432.1" r="4.15"/><circle cx="439.5" cy="359.4" r="4.15"/><circle cx="439.5" cy="354.1" r="4.15"/><circle cx="439.5" cy="374.2" r="4.15"/><circle cx="439.5" cy="363.4" r="4.15"/><circle cx="446.4" cy="413.7" r="4.15"/><circle cx="446.4" cy="398" r="4.15"/><circle cx="446.4" cy="397.6" r="4.15"/><circle cx="446.4" cy="352.2" r="4.15"/><circle cx="446.4" cy="341.2" r="4.15"/><circle cx="446.4" cy="315.6" r="4.15"/><circle cx="446.4" cy="356.7" r="4.15"/><circle cx="446.4" cy="401.4" r="4.15"/><circle cx="446.4" cy="344.8" r="4.15"/><circle cx="446.4" cy="367.7" r="4.15"/><circle cx="446.4" cy="323.7" r="4.15"/><circle cx="446.4" cy="407.2" r="4.15"/><circle cx="453.3" cy="381.3" r="4.15"/><circle cx="453.3" cy="352.8" r="4.15"/><circle cx="453.3" cy="388.7" r="4.15"/><circle cx="453.3" cy="339.5" r="4.15"/><circle cx="453.3" cy="333" r="4.15"/><circle cx="453.3" cy="327" r="4.15"/><circle cx="453.3" cy="351.3" r="4.15"/><circle cx="460.2" cy="398.2" r="4.15"/><circle cx="460.2" cy="396.4" r="4.15"/><circle cx="460.2" cy="364.3" r="4.15"/><circle cx="460.2" cy="326.5" r="4.15"/><circle cx="460.2" cy="346.8" r="4.15"/><circle cx="460.2" cy="336.5" r="4.15"/><circle cx="460.2" cy="331.6" r="4.15"/><circle cx="460.2" cy="330.5" r="4.15"/><circle cx="460.2" cy="327.3" r="4.15"/><circle cx="460.2" cy="346.1" r="4.15"/><circle cx="460.2" cy="379.3" r="4.15"/><circle cx="460.2" cy="341.4" r="4.15"/><circle cx="460.2" cy="349.3" r="4.15"/><circle cx="460.2" cy="361.2" r="4.15"/><circle cx="460.2" cy="355.1" r="4.15"/><circle cx="460.2" cy="340.4" r="4.15"/><circle cx="460.2" cy="361" r="4.15"/><circle cx="460.2" cy="343.7" r="4.15"/><circle cx="460.2" cy="335" r="4.15"/><circle cx="460.2" cy="352.8" r="4.15"/><circle cx="460.2" cy="344.7" r="4.15"/><circle cx="460.2" cy="374.5" r="4.15"/><circle cx="460.2" cy="388.1" r="4.15"/><circle cx="460.2" cy="341.5" r="4.15"/><circle cx="460.2" cy="374.6" r="4.15"/><circle cx="460.2" cy="352.8" r="4.15"/><circle cx="460.2" cy="335.3" r="4.15"/><circle cx="460.2" cy="354.3" r="4.15"/><circle cx="460.2" cy="355.6" r="4.15"/><circle cx="460.2" cy="333.8" r="4.15"/><circle cx="460.2" cy="390.2" r="4.15"/><circle cx="460.2" cy="369.4" r="4.15"/><circle cx="460.2" cy="340.5" r="4.15"/><circle cx="460.2" cy="385.3" r="4.15"/><circle cx="460.2" cy="336.2" r="4.15"/><circle cx="460.2" cy="366" r="4.15"/><circle cx="460.2" cy="326.3" r="4.15"/><circle cx="460.2" cy="350.5" r="4.15"/><circle cx="460.2" cy="367.9" r="4.15"/><circle cx="460.2" cy="371.3" r="4.15"/><circle cx="460.2" cy="396.8" r="4.15"/><circle cx="460.2" cy="329.7" r="4.15"/><circle cx="460.2" cy="403.7" r="4.15"/><circle cx="460.2" cy="331" r="4.15"/><circle cx="460.2" cy="391.3" r="4.15"/><circle cx="467.1" cy="417.2" r="4.15"/><circle cx="467.1" cy="408.2" r="4.15"/><circle cx="467.1" cy="349.3" r="4.15"/><circle cx="474" cy="345.7" r="4.15"/><circle cx="474" cy="371.2" r="4.15"/><circle cx="474" cy="358.2" r="4.15"/><circle cx="467.1" cy="224" r="4.15"/><circle cx="363.5" cy="248.1" r="4.15"/><circle cx="356.6" cy="255.9" r="4.15"/><circle cx="356.6" cy="260.1" r="4.15"/><circle cx="425.7" cy="248.1" r="4.15"/><circle cx="429.1" cy="261.7" r="4.15"/><circle cx="391.1" cy="254.7" r="4.15"/><circle cx="405" cy="262.6" r="4.15"/><circle cx="474" cy="253.7" r="4.15"/><circle cx="315.2" cy="263.1" r="4.15"/><circle cx="322.1" cy="265.8" r="4.15"/><circle cx="384.2" cy="272.2" r="4.15"/><circle cx="398" cy="274.9" r="4.15"/><circle cx="398" cy="278.5" r="4.15"/><circle cx="480.9" cy="278.5" r="4.15"/><circle cx="487.8" cy="279.4" r="4.15"/><circle cx="329" cy="286.6" r="4.15"/><circle cx="308.3" cy="293.5" r="4.15"/><circle cx="349.7" cy="288.4" r="4.15"/><circle cx="349.7" cy="294.7" r="4.15"/><circle cx="377.3" cy="283" r="4.15"/><circle cx="377.3" cy="290.2" r="4.15"/><circle cx="391.1" cy="283.9" r="4.15"/><circle cx="391.1" cy="289.3" r="4.15"/><circle cx="405" cy="278.5" r="4.15"/><circle cx="411.9" cy="280.3" r="4.15"/><circle cx="411.9" cy="283.9" r="4.15"/><circle cx="370.4" cy="296.5" r="4.15"/><circle cx="377.3" cy="303.8" r="4.15"/><circle cx="315.2" cy="309.5" r="4.15"/><circle cx="294.4" cy="320.4" r="4.15"/><circle cx="294.4" cy="320.4" r="4.15"/><circle cx="266.8" cy="324.5" r="4.15"/><circle cx="280.6" cy="332.7" r="4.15"/><circle cx="301.3" cy="338.6" r="4.15"/><circle cx="266.8" cy="344.8" r="4.15"/><circle cx="273.7" cy="355.2" r="4.15"/><circle cx="287.5" cy="345.3" r="4.15"/><circle cx="253" cy="369.7" r="4.15"/><circle cx="253" cy="379.6" r="4.15"/><circle cx="253" cy="384.1" r="4.15"/><circle cx="266.8" cy="376.9" r="4.15"/><circle cx="246.1" cy="395" r="4.15"/><circle cx="183.9" cy="416.6" r="4.15"/><circle cx="218.5" cy="433.8" r="4.15"/><circle cx="239.2" cy="428.4" r="4.15"/><circle cx="239.2" cy="437.4" r="4.15"/><circle cx="225.4" cy="420.2" r="4.15"/><circle cx="446.4" cy="314.6" r="4.15"/><circle cx="446.4" cy="318.2" r="4.15"/><circle cx="456.8" cy="319.1" r="4.15"/><circle cx="460.2" cy="319.7" r="4.15"/><circle cx="432.6" cy="292" r="4.15"/><circle cx="432.6" cy="320" r="4.15"/><circle cx="432.6" cy="329.1" r="4.15"/><circle cx="439.5" cy="343.5" r="4.15"/><circle cx="487.8" cy="329.1" r="4.15"/><circle cx="480.9" cy="337.2" r="4.15"/><circle cx="474" cy="345.3" r="4.15"/><circle cx="474" cy="370.6" r="4.15"/><circle cx="487.8" cy="368.8" r="4.15"/><circle cx="480.9" cy="407.6" r="4.15"/><circle cx="474" cy="415.7" r="4.15"/><circle cx="474" cy="424.8" r="4.15"/><circle cx="487.8" cy="421.2" r="4.15"/><circle cx="356.6" cy="302" r="4.15"/><circle cx="363.5" cy="307.4" r="4.15"/><circle cx="342.8" cy="305.6" r="4.15"/><circle cx="335.9" cy="314.6" r="4.15"/><circle cx="329" cy="320" r="4.15"/><circle cx="418.8" cy="294.7" r="4.15"/><circle cx="453.3" cy="319.1" r="4.15"/><circle cx="467.1" cy="343.5" r="4.15"/><circle cx="218.5" cy="433.8" r="4.15"/><circle cx="204.7" cy="449.1" r="4.15"/><circle cx="211.6" cy="484.3" r="4.15"/><circle cx="239.2" cy="428" r="4.15"/><circle cx="239.2" cy="437.6" r="4.15"/><circle cx="253" cy="455.1" r="4.15"/><circle cx="253" cy="466.8" r="4.15"/><circle cx="249.5" cy="469.5" r="4.15"/><circle cx="256.5" cy="466.8" r="4.15"/><circle cx="253" cy="487.9" r="4.15"/><circle cx="246.1" cy="495.2" r="4.15"/><circle cx="259.9" cy="495.2" r="4.15"/><circle cx="253" cy="502.9" r="4.15"/><circle cx="266.8" cy="448.8" r="4.15"/><circle cx="266.8" cy="452.4" r="4.15"/><circle cx="259.9" cy="447" r="4.15"/><circle cx="273.7" cy="513.2" r="4.15"/><circle cx="280.6" cy="458.7" r="4.15"/><circle cx="280.6" cy="465" r="4.15"/><circle cx="277.2" cy="442.4" r="4.15"/><circle cx="287.5" cy="448.8" r="4.15"/><circle cx="287.5" cy="454.2" r="4.15"/><circle cx="287.5" cy="473.1" r="4.15"/><circle cx="287.5" cy="479.5" r="4.15"/><circle cx="287.5" cy="484.9" r="4.15"/><circle cx="287.5" cy="489.4" r="4.15"/><circle cx="287.5" cy="493.9" r="4.15"/><circle cx="294.4" cy="461.4" r="4.15"/><circle cx="294.4" cy="506.5" r="4.15"/><circle cx="294.4" cy="479.5" r="4.15"/><circle cx="301.3" cy="469.5" r="4.15"/><circle cx="301.3" cy="483.4" r="4.15"/><circle cx="301.3" cy="456" r="4.15"/><circle cx="308.3" cy="443.3" r="4.15"/><circle cx="308.3" cy="448.8" r="4.15"/><circle cx="308.3" cy="453.3" r="4.15"/><circle cx="322.1" cy="454.2" r="4.15"/><circle cx="322.1" cy="462.3" r="4.15"/><circle cx="322.1" cy="470.4" r="4.15"/><circle cx="329" cy="493.4" r="4.15"/><circle cx="332.4" cy="492.1" r="4.15"/><circle cx="335.9" cy="456.9" r="4.15"/><circle cx="335.9" cy="479.5" r="4.15"/><circle cx="335.9" cy="509.6" r="4.15"/><circle cx="342.8" cy="457.8" r="4.15"/><circle cx="349.7" cy="492.6" r="4.15"/><circle cx="356.6" cy="456" r="4.15"/><circle cx="356.6" cy="470.8" r="4.15"/><circle cx="370.4" cy="464.1" r="4.15"/><circle cx="391.1" cy="444.2" r="4.15"/><circle cx="391.1" cy="448.8" r="4.15"/><circle cx="391.1" cy="453.3" r="4.15"/><circle cx="391.1" cy="457.8" r="4.15"/><circle cx="391.1" cy="462.3" r="4.15"/><circle cx="391.1" cy="476.4" r="4.15"/><circle cx="391.1" cy="537.8" r="4.15"/><circle cx="398" cy="465" r="4.15"/><circle cx="398" cy="468.6" r="4.15"/><circle cx="411.9" cy="467.7" r="4.15"/><circle cx="411.9" cy="437.9" r="4.15"/><circle cx="425.7" cy="460.1" r="4.15"/><circle cx="446.4" cy="464.1" r="4.15"/><circle cx="460.2" cy="443.9" r="4.15"/><circle cx="467.1" cy="516.1" r="4.15"/><circle cx="474" cy="416.6" r="4.15"/><circle cx="474" cy="424.7" r="4.15"/><circle cx="480.9" cy="408.1" r="4.15"/><circle cx="487.8" cy="420.8" r="4.15"/><circle cx="619.1" cy="208.6" r="4.15"/><circle cx="702" cy="221.1" r="4.15"/><circle cx="550" cy="227" r="4.15"/><circle cx="501.7" cy="234.2" r="4.15"/><circle cx="529.3" cy="260.1" r="4.15"/><circle cx="536.2" cy="260.1" r="4.15"/><circle cx="480.9" cy="278.5" r="4.15"/><circle cx="487.8" cy="278.8" r="4.15"/><circle cx="494.7" cy="282.1" r="4.15"/><circle cx="494.7" cy="290.6" r="4.15"/><circle cx="494.7" cy="294.7" r="4.15"/><circle cx="556.9" cy="281.7" r="4.15"/><circle cx="598.4" cy="276.7" r="4.15"/><circle cx="605.3" cy="275.4" r="4.15"/><circle cx="632.9" cy="292.4" r="4.15"/><circle cx="626" cy="298.9" r="4.15"/><circle cx="646.7" cy="305.6" r="4.15"/><circle cx="529.3" cy="303.8" r="4.15"/><circle cx="529.3" cy="305" r="4.15"/><circle cx="522.4" cy="307.4" r="4.15"/><circle cx="529.3" cy="316.8" r="4.15"/><circle cx="522.4" cy="323.3" r="4.15"/><circle cx="515.5" cy="332.7" r="4.15"/><circle cx="563.8" cy="303.8" r="4.15"/><circle cx="556.9" cy="315.1" r="4.15"/><circle cx="487.8" cy="329.1" r="4.15"/><circle cx="494.7" cy="336.3" r="4.15"/><circle cx="480.9" cy="339.9" r="4.15"/><circle cx="487.8" cy="341.7" r="4.15"/><circle cx="529.3" cy="349.8" r="4.15"/><circle cx="598.4" cy="352.9" r="4.15"/><circle cx="736.5" cy="357.9" r="4.15"/><circle cx="487.8" cy="368.4" r="4.15"/><circle cx="508.6" cy="364.8" r="4.15"/><circle cx="522.4" cy="368.8" r="4.15"/><circle cx="529.3" cy="372.8" r="4.15"/><circle cx="563.8" cy="370.6" r="4.15"/><circle cx="563.8" cy="380.5" r="4.15"/><circle cx="515.5" cy="377.8" r="4.15"/><circle cx="515.5" cy="382.3" r="4.15"/><circle cx="508.6" cy="383.2" r="4.15"/><circle cx="522.4" cy="386.8" r="4.15"/><circle cx="619.1" cy="380.5" r="4.15"/><circle cx="605.3" cy="389.5" r="4.15"/><circle cx="667.4" cy="390.5" r="4.15"/><circle cx="494.7" cy="391.4" r="4.15"/><circle cx="494.7" cy="395.9" r="4.15"/><circle cx="480.9" cy="407.6" r="4.15"/><circle cx="494.7" cy="406.7" r="4.15"/><circle cx="494.7" cy="411.2" r="4.15"/><circle cx="501.7" cy="408.9" r="4.15"/><circle cx="529.3" cy="407.1" r="4.15"/><circle cx="584.5" cy="409.4" r="4.15"/><circle cx="487.8" cy="420.6" r="4.15"/><circle cx="494.7" cy="420.6" r="4.15"/><circle cx="501.7" cy="420.6" r="4.15"/><circle cx="563.8" cy="428.7" r="4.15"/><circle cx="494.7" cy="448.8" r="4.15"/><circle cx="529.3" cy="446" r="4.15"/><circle cx="529.3" cy="462.3" r="4.15"/><circle cx="570.7" cy="524.2" r="4.15"/><circle cx="812.5" cy="360" r="4.15"/>
</g>
<path class="bd" d="M183.9 412.6 L199.6 409.6 L215.4 406.7 L231.1 403.7 L246.8 400.7 L262.5 397.6 L278.2 394.6 L293.9 391.5 L309.6 388.4 L325.4 385.2 L341.1 382 L356.8 378.7 L372.5 375.3 L388.2 371.7 L403.9 368.1 L419.6 364.4 L435.3 360.5 L451.1 356.6 L466.8 352.7 L482.5 348.7 L498.2 344.6 L513.9 340.6 L529.6 336.5 L545.3 332.4 L561.1 328.2 L576.8 324.1 L592.5 320 L608.2 315.8 L623.9 311.7 L639.6 307.5 L655.3 303.4 L671 299.2 L686.8 295 L702.5 290.8 L718.2 286.7 L733.9 282.5 L749.6 278.3 L765.3 274.1 L781 270 L796.8 265.8 L812.5 261.6 L812.5 297.6 L796.8 300.5 L781 303.4 L765.3 306.3 L749.6 309.2 L733.9 312.2 L718.2 315.1 L702.5 318 L686.8 321 L671 323.9 L655.3 326.8 L639.6 329.8 L623.9 332.7 L608.2 335.7 L592.5 338.6 L576.8 341.6 L561.1 344.6 L545.3 347.6 L529.6 350.6 L513.9 353.6 L498.2 356.6 L482.5 359.7 L466.8 362.8 L451.1 365.9 L435.3 369.1 L419.6 372.4 L403.9 375.8 L388.2 379.2 L372.5 382.8 L356.8 386.5 L341.1 390.3 L325.4 394.1 L309.6 398.1 L293.9 402.1 L278.2 406.1 L262.5 410.1 L246.8 414.2 L231.1 418.3 L215.4 422.4 L199.6 426.6 L183.9 430.7 Z"/>
<line class="ln" x1="183.9" y1="421.7" x2="812.5" y2="279.6"/>
<rect class="fr" x="115" y="91.4" width="724.6" height="482.2"/>
<path class="t" d="M253 575.7 v18.5 M253 93.5 v18.5 M425.7 575.7 v18.5 M425.7 93.5 v18.5 M598.4 575.7 v18.5 M598.4 93.5 v18.5 M771 575.7 v18.5 M771 93.5 v18.5 M166.7 575.7 v9.3 M166.7 93.5 v9.3 M339.3 575.7 v9.3 M339.3 93.5 v9.3 M512 575.7 v9.3 M512 93.5 v9.3 M684.7 575.7 v9.3 M684.7 93.5 v9.3 M112.9 513.2 h-18.5 M837.5 513.2 h-18.5 M112.9 392.6 h-18.5 M837.5 392.6 h-18.5 M112.9 271.9 h-18.5 M837.5 271.9 h-18.5 M112.9 151.1 h-18.5 M837.5 151.1 h-18.5"/>
<text class="tk" text-anchor="middle" x="252.2" y="630">50</text>
<text class="tk" text-anchor="middle" x="424.9" y="630">75</text>
<text class="tk" text-anchor="middle" x="597.6" y="630">100</text>
<text class="tk" text-anchor="middle" x="770.2" y="630">125</text>
<text class="tk" text-anchor="end" x="89" y="523.9">20</text>
<text class="tk" text-anchor="end" x="89" y="403.2">40</text>
<text class="tk" text-anchor="end" x="89" y="282.5">60</text>
<text class="tk" text-anchor="end" x="89" y="161.7">80</text>
<text class="an" x="183.2" y="166.2" textLength="596.5" lengthAdjust="spacing">R=0.348, p&lt;0.0001, Y = 0.2603*X + 24.77</text>
<text class="ti" text-anchor="middle" x="511.9" y="33.8">Men, Dominant</text>
<text class="lt" x="5.6" y="29.9">A</text>
<text class="ax" text-anchor="middle" x="478.4" y="687.5">Weight/Kg</text>
<text class="ax" text-anchor="middle" textLength="284" lengthAdjust="spacing" transform="translate(33.7 332.7) rotate(-90)">Grip Strength/Kg</text>
</g>
<g id="panelB">
<g class="p">
<circle cx="1176" cy="476.3" r="4.15"/><circle cx="1176" cy="466" r="4.15"/><circle cx="1176" cy="452.3" r="4.15"/><circle cx="1176" cy="449.8" r="4.15"/><circle cx="1176" cy="472" r="4.15"/><circle cx="1176" cy="460.8" r="4.15"/><circle cx="1176" cy="478.9" r="4.15"/><circle cx="1176" cy="469.5" r="4.15"/><circle cx="1182.9" cy="449.1" r="4.15"/><circle cx="1182.9" cy="431.2" r="4.15"/><circle cx="1182.9" cy="415.3" r="4.15"/><circle cx="1182.9" cy="447" r="4.15"/><circle cx="1182.9" cy="439.8" r="4.15"/><circle cx="1182.9" cy="443.5" r="4.15"/><circle cx="1189.8" cy="409.1" r="4.15"/><circle cx="1189.8" cy="413.5" r="4.15"/><circle cx="1189.8" cy="446" r="4.15"/><circle cx="1189.8" cy="410.6" r="4.15"/><circle cx="1189.8" cy="412.2" r="4.15"/><circle cx="1189.8" cy="394.3" r="4.15"/><circle cx="1189.8" cy="416.1" r="4.15"/><circle cx="1189.8" cy="454.1" r="4.15"/><circle cx="1189.8" cy="440.9" r="4.15"/><circle cx="1189.8" cy="431.1" r="4.15"/><circle cx="1196.7" cy="413.7" r="4.15"/><circle cx="1196.7" cy="422.8" r="4.15"/><circle cx="1196.7" cy="404.1" r="4.15"/><circle cx="1196.7" cy="409.5" r="4.15"/><circle cx="1196.7" cy="408.8" r="4.15"/><circle cx="1196.7" cy="408.5" r="4.15"/><circle cx="1196.7" cy="411.9" r="4.15"/><circle cx="1196.7" cy="422.1" r="4.15"/><circle cx="1196.7" cy="427.7" r="4.15"/><circle cx="1196.7" cy="416.7" r="4.15"/><circle cx="1203.7" cy="406.4" r="4.15"/><circle cx="1203.7" cy="444.5" r="4.15"/><circle cx="1203.7" cy="415.1" r="4.15"/><circle cx="1203.7" cy="416.6" r="4.15"/><circle cx="1203.7" cy="403.2" r="4.15"/><circle cx="1203.7" cy="442.8" r="4.15"/><circle cx="1203.7" cy="424.5" r="4.15"/><circle cx="1203.7" cy="438.9" r="4.15"/><circle cx="1203.7" cy="421.1" r="4.15"/><circle cx="1203.7" cy="444" r="4.15"/><circle cx="1203.7" cy="435.1" r="4.15"/><circle cx="1203.7" cy="445" r="4.15"/><circle cx="1210.6" cy="440" r="4.15"/><circle cx="1210.6" cy="444.3" r="4.15"/><circle cx="1210.6" cy="431.7" r="4.15"/><circle cx="1210.6" cy="374.5" r="4.15"/><circle cx="1210.6" cy="411" r="4.15"/><circle cx="1210.6" cy="444.7" r="4.15"/><circle cx="1210.6" cy="378.8" r="4.15"/><circle cx="1210.6" cy="447.3" r="4.15"/><circle cx="1210.6" cy="401.4" r="4.15"/><circle cx="1210.6" cy="448" r="4.15"/><circle cx="1210.6" cy="401.4" r="4.15"/><circle cx="1210.6" cy="424.2" r="4.15"/><circle cx="1210.6" cy="470.7" r="4.15"/><circle cx="1210.6" cy="440.1" r="4.15"/><circle cx="1210.6" cy="413.4" r="4.15"/><circle cx="1210.6" cy="467.1" r="4.15"/><circle cx="1210.6" cy="409.8" r="4.15"/><circle cx="1210.6" cy="419.6" r="4.15"/><circle cx="1210.6" cy="422.7" r="4.15"/><circle cx="1210.6" cy="399.3" r="4.15"/><circle cx="1210.6" cy="396" r="4.15"/><circle cx="1210.6" cy="375.3" r="4.15"/><circle cx="1210.6" cy="435.2" r="4.15"/><circle cx="1210.6" cy="410.1" r="4.15"/><circle cx="1210.6" cy="434.8" r="4.15"/><circle cx="1210.6" cy="467.6" r="4.15"/><circle cx="1210.6" cy="439.7" r="4.15"/><circle cx="1210.6" cy="470.7" r="4.15"/><circle cx="1210.6" cy="470.4" r="4.15"/><circle cx="1210.6" cy="437.7" r="4.15"/><circle cx="1210.6" cy="447.2" r="4.15"/><circle cx="1210.6" cy="371.3" r="4.15"/><circle cx="1210.6" cy="384.3" r="4.15"/><circle cx="1210.6" cy="458.7" r="4.15"/><circle cx="1210.6" cy="407.5" r="4.15"/><circle cx="1210.6" cy="448.3" r="4.15"/><circle cx="1210.6" cy="441.7" r="4.15"/><circle cx="1210.6" cy="436.4" r="4.15"/><circle cx="1210.6" cy="381" r="4.15"/><circle cx="1210.6" cy="455.5" r="4.15"/><circle cx="1210.6" cy="442.9" r="4.15"/><circle cx="1210.6" cy="381.4" r="4.15"/><circle cx="1210.6" cy="378.7" r="4.15"/><circle cx="1210.6" cy="410.8" r="4.15"/><circle cx="1210.6" cy="420" r="4.15"/><circle cx="1210.6" cy="382.5" r="4.15"/><circle cx="1210.6" cy="392.1" r="4.15"/><circle cx="1210.6" cy="402.1" r="4.15"/><circle cx="1210.6" cy="426.4" r="4.15"/><circle cx="1210.6" cy="440.5" r="4.15"/><circle cx="1210.6" cy="419.1" r="4.15"/><circle cx="1210.6" cy="441" r="4.15"/><circle cx="1210.6" cy="413.5" r="4.15"/><circle cx="1210.6" cy="463.2" r="4.15"/><circle cx="1210.6" cy="438.4" r="4.15"/><circle cx="1210.6" cy="396.9" r="4.15"/><circle cx="1210.6" cy="445.8" r="4.15"/><circle cx="1210.6" cy="398.7" r="4.15"/><circle cx="1210.6" cy="446.1" r="4.15"/><circle cx="1210.6" cy="425.7" r="4.15"/><circle cx="1210.6" cy="397.2" r="4.15"/><circle cx="1210.6" cy="425.6" r="4.15"/><circle cx="1210.6" cy="376.7" r="4.15"/><circle cx="1210.6" cy="379.2" r="4.15"/><circle cx="1210.6" cy="377.5" r="4.15"/><circle cx="1210.6" cy="423.6" r="4.15"/><circle cx="1210.6" cy="401.3" r="4.15"/><circle cx="1210.6" cy="452.1" r="4.15"/><circle cx="1210.6" cy="394.5" r="4.15"/><circle cx="1210.6" cy="433.8" r="4.15"/><circle cx="1210.6" cy="411.4" r="4.15"/><circle cx="1210.6" cy="372" r="4.15"/><circle cx="1210.6" cy="405.1" r="4.15"/><circle cx="1210.6" cy="451.5" r="4.15"/><circle cx="1210.6" cy="392.2" r="4.15"/><circle cx="1210.6" cy="452.4" r="4.15"/><circle cx="1210.6" cy="440.5" r="4.15"/><circle cx="1210.6" cy="405.6" r="4.15"/><circle cx="1210.6" cy="404" r="4.15"/><circle cx="1210.6" cy="399.8" r="4.15"/><circle cx="1217.5" cy="437.1" r="4.15"/><circle cx="1217.5" cy="446.5" r="4.15"/><circle cx="1217.5" cy="402.7" r="4.15"/><circle cx="1217.5" cy="451" r="4.15"/><circle cx="1217.5" cy="448.8" r="4.15"/><circle cx="1217.5" cy="391.9" r="4.15"/><circle cx="1217.5" cy="448.3" r="4.15"/><circle cx="1217.5" cy="452.4" r="4.15"/><circle cx="1217.5" cy="375.8" r="4.15"/><circle cx="1217.5" cy="420" r="4.15"/><circle cx="1217.5" cy="446.8" r="4.15"/><circle cx="1217.5" cy="429.6" r="4.15"/><circle cx="1217.5" cy="392" r="4.15"/><circle cx="1217.5" cy="390.7" r="4.15"/><circle cx="1217.5" cy="406.6" r="4.15"/><circle cx="1217.5" cy="380.8" r="4.15"/><circle cx="1217.5" cy="408" r="4.15"/><circle cx="1217.5" cy="427.4" r="4.15"/><circle cx="1217.5" cy="442.4" r="4.15"/><circle cx="1217.5" cy="422.9" r="4.15"/><circle cx="1224.4" cy="426.5" r="4.15"/><circle cx="1224.4" cy="408.5" r="4.15"/><circle cx="1224.4" cy="431.6" r="4.15"/><circle cx="1224.4" cy="379.5" r="4.15"/><circle cx="1224.4" cy="393.6" r="4.15"/><circle cx="1224.4" cy="439.9" r="4.15"/><circle cx="1224.4" cy="401.3" r="4.15"/><circle cx="1224.4" cy="437.9" r="4.15"/><circle cx="1224.4" cy="437.4" r="4.15"/><circle cx="1224.4" cy="407.9" r="4.15"/><circle cx="1224.4" cy="394.3" r="4.15"/><circle cx="1224.4" cy="425.1" r="4.15"/><circle cx="1224.4" cy="444" r="4.15"/><circle cx="1224.4" cy="443.3" r="4.15"/><circle cx="1224.4" cy="422.2" r="4.15"/><circle cx="1224.4" cy="427.9" r="4.15"/><circle cx="1224.4" cy="410" r="4.15"/><circle cx="1231.3" cy="394.1" r="4.15"/><circle cx="1231.3" cy="445.6" r="4.15"/><circle cx="1231.3" cy="423.6" r="4.15"/><circle cx="1231.3" cy="405.5" r="4.15"/><circle cx="1231.3" cy="377.7" r="4.15"/><circle cx="1231.3" cy="406.2" r="4.15"/><circle cx="1231.3" cy="423.9" r="4.15"/><circle cx="1231.3" cy="428.4" r="4.15"/><circle cx="1231.3" cy="417.4" r="4.15"/><circle cx="1231.3" cy="391.6" r="4.15"/><circle cx="1231.3" cy="425" r="4.15"/><circle cx="1231.3" cy="422.3" r="4.15"/><circle cx="1231.3" cy="452.4" r="4.15"/><circle cx="1231.3" cy="437.8" r="4.15"/><circle cx="1231.3" cy="432.5" r="4.15"/><circle cx="1231.3" cy="419.2" r="4.15"/><circle cx="1231.3" cy="375.5" r="4.15"/><circle cx="1231.3" cy="396.7" r="4.15"/><circle cx="1231.3" cy="381.4" r="4.15"/><circle cx="1238.2" cy="370.1" r="4.15"/><circle cx="1238.2" cy="431.6" r="4.15"/><circle cx="1238.2" cy="364.1" r="4.15"/><circle cx="1238.2" cy="412.5" r="4.15"/><circle cx="1238.2" cy="436.9" r="4.15"/><circle cx="1238.2" cy="417.5" r="4.15"/><circle cx="1238.2" cy="416.2" r="4.15"/><circle cx="1238.2" cy="382.2" r="4.15"/><circle cx="1238.2" cy="410.6" r="4.15"/><circle cx="1238.2" cy="404.7" r="4.15"/><circle cx="1238.2" cy="442.9" r="4.15"/><circle cx="1238.2" cy="404.9" r="4.15"/><circle cx="1238.2" cy="414.4" r="4.15"/><circle cx="1238.2" cy="400.4" r="4.15"/><circle cx="1238.2" cy="395" r="4.15"/><circle cx="1238.2" cy="425.2" r="4.15"/><circle cx="1238.2" cy="421.7" r="4.15"/><circle cx="1245.1" cy="430.1" r="4.15"/><circle cx="1245.1" cy="467.7" r="4.15"/><circle cx="1245.1" cy="357" r="4.15"/><circle cx="1245.1" cy="394.8" r="4.15"/><circle cx="1245.1" cy="402.2" r="4.15"/><circle cx="1245.1" cy="390.9" r="4.15"/><circle cx="1245.1" cy="479.8" r="4.15"/><circle cx="1245.1" cy="427.9" r="4.15"/><circle cx="1245.1" cy="446.8" r="4.15"/><circle cx="1245.1" cy="413.7" r="4.15"/><circle cx="1245.1" cy="473.1" r="4.15"/><circle cx="1245.1" cy="466.5" r="4.15"/><circle cx="1245.1" cy="387.3" r="4.15"/><circle cx="1245.1" cy="413" r="4.15"/><circle cx="1245.1" cy="428.2" r="4.15"/><circle cx="1245.1" cy="399.1" r="4.15"/><circle cx="1245.1" cy="436.3" r="4.15"/><circle cx="1245.1" cy="407.8" r="4.15"/><circle cx="1245.1" cy="395.4" r="4.15"/><circle cx="1245.1" cy="424" r="4.15"/><circle cx="1245.1" cy="432.3" r="4.15"/><circle cx="1245.1" cy="410.6" r="4.15"/><circle cx="1245.1" cy="411.1" r="4.15"/><circle cx="1245.1" cy="383.4" r="4.15"/><circle cx="1245.1" cy="481.6" r="4.15"/><circle cx="1245.1" cy="464.1" r="4.15"/><circle cx="1245.1" cy="435.7" r="4.15"/><circle cx="1245.1" cy="392.1" r="4.15"/><circle cx="1245.1" cy="472.1" r="4.15"/><circle cx="1245.1" cy="359.7" r="4.15"/><circle cx="1245.1" cy="447.2" r="4.15"/><circle cx="1245.1" cy="363.8" r="4.15"/><circle cx="1245.1" cy="418.6" r="4.15"/><circle cx="1245.1" cy="365.9" r="4.15"/><circle cx="1245.1" cy="376.3" r="4.15"/><circle cx="1245.1" cy="391.4" r="4.15"/><circle cx="1245.1" cy="440.6" r="4.15"/><circle cx="1245.1" cy="465.3" r="4.15"/><circle cx="1245.1" cy="395.9" r="4.15"/><circle cx="1245.1" cy="437.7" r="4.15"/><circle cx="1245.1" cy="384.3" r="4.15"/><circle cx="1245.1" cy="395.7" r="4.15"/><circle cx="1245.1" cy="391.8" r="4.15"/><circle cx="1245.1" cy="472.3" r="4.15"/><circle cx="1245.1" cy="446.9" r="4.15"/><circle cx="1245.1" cy="442.2" r="4.15"/><circle cx="1245.1" cy="414.6" r="4.15"/><circle cx="1245.1" cy="466.3" r="4.15"/><circle cx="1245.1" cy="418.8" r="4.15"/><circle cx="1245.1" cy="468.7" r="4.15"/><circle cx="1245.1" cy="384.3" r="4.15"/><circle cx="1245.1" cy="417.2" r="4.15"/><circle cx="1245.1" cy="379.3" r="4.15"/><circle cx="1245.1" cy="475.2" r="4.15"/><circle cx="1245.1" cy="440.8" r="4.15"/><circle cx="1245.1" cy="373.8" r="4.15"/><circle cx="1245.1" cy="372.6" r="4.15"/><circle cx="1245.1" cy="430.1" r="4.15"/><circle cx="1245.1" cy="387.3" r="4.15"/><circle cx="1245.1" cy="411.7" r="4.15"/><circle cx="1245.1" cy="408.7" r="4.15"/><circle cx="1245.1" cy="431.4" r="4.15"/><circle cx="1245.1" cy="410.4" r="4.15"/><circle cx="1245.1" cy="367.9" r="4.15"/><circle cx="1245.1" cy="373.6" r="4.15"/><circle cx="1245.1" cy="444" r="4.15"/><circle cx="1245.1" cy="380.5" r="4.15"/><circle cx="1245.1" cy="363.2" r="4.15"/><circle cx="1245.1" cy="410.8" r="4.15"/><circle cx="1245.1" cy="398.5" r="4.15"/><circle cx="1245.1" cy="399.2" r="4.15"/><circle cx="1245.1" cy="377.9" r="4.15"/><circle cx="1245.1" cy="363.8" r="4.15"/><circle cx="1245.1" cy="460.5" r="4.15"/><circle cx="1245.1" cy="468.5" r="4.15"/><circle cx="1245.1" cy="425.1" r="4.15"/><circle cx="1245.1" cy="406.2" r="4.15"/><circle cx="1245.1" cy="379.3" r="4.15"/><circle cx="1245.1" cy="426.5" r="4.15"/><circle cx="1245.1" cy="414.7" r="4.15"/><circle cx="1245.1" cy="461.1" r="4.15"/><circle cx="1245.1" cy="403.6" r="4.15"/><circle cx="1245.1" cy="451.2" r="4.15"/><circle cx="1245.1" cy="371.3" r="4.15"/><circle cx="1245.1" cy="385" r="4.15"/><circle cx="1245.1" cy="401.1" r="4.15"/><circle cx="1245.1" cy="465.8" r="4.15"/><circle cx="1245.1" cy="373.2" r="4.15"/><circle cx="1245.1" cy="463.1" r="4.15"/><circle cx="1245.1" cy="359.9" r="4.15"/><circle cx="1245.1" cy="368.6" r="4.15"/><circle cx="1245.1" cy="401.8" r="4.15"/><circle cx="1245.1" cy="414.4" r="4.15"/><circle cx="1245.1" cy="362" r="4.15"/><circle cx="1245.1" cy="471.6" r="4.15"/><circle cx="1245.1" cy="418.5" r="4.15"/><circle cx="1245.1" cy="431" r="4.15"/><circle cx="1245.1" cy="419.4" r="4.15"/><circle cx="1245.1" cy="431.9" r="4.15"/><circle cx="1245.1" cy="388.7" r="4.15"/><circle cx="1245.1" cy="422.4" r="4.15"/><circle cx="1245.1" cy="427.5" r="4.15"/><circle cx="1245.1" cy="358.4" r="4.15"/><circle cx="1245.1" cy="426.8" r="4.15"/><circle cx="1245.1" cy="452.2" r="4.15"/><circle cx="1245.1" cy="458.3" r="4.15"/><circle cx="1245.1" cy="470.8" r="4.15"/><circle cx="1245.1" cy="367.9" r="4.15"/><circle cx="1245.1" cy="447.9" r="4.15"/><circle cx="1245.1" cy="437.9" r="4.15"/><circle cx="1245.1" cy="424.8" r="4.15"/><circle cx="1245.1" cy="389" r="4.15"/><circle cx="1245.1" cy="370.5" r="4.15"/><circle cx="1245.1" cy="408.3" r="4.15"/><circle cx="1245.1" cy="416.8" r="4.15"/><circle cx="1252" cy="394.8" r="4.15"/><circle cx="1252" cy="444.2" r="4.15"/><circle cx="1252" cy="406.3" r="4.15"/><circle cx="1252" cy="351.2" r="4.15"/><circle cx="1252" cy="438.7" r="4.15"/><circle cx="1252" cy="446.4" r="4.15"/><circle cx="1252" cy="412.4" r="4.15"/><circle cx="1252" cy="391.1" r="4.15"/><circle cx="1252" cy="430.3" r="4.15"/><circle cx="1252" cy="426.6" r="4.15"/><circle cx="1252" cy="370.3" r="4.15"/><circle cx="1252" cy="413.2" r="4.15"/><circle cx="1252" cy="388.3" r="4.15"/><circle cx="1252" cy="428" r="4.15"/><circle cx="1252" cy="365.8" r="4.15"/><circle cx="1252" cy="380.3" r="4.15"/><circle cx="1252" cy="419.6" r="4.15"/><circle cx="1252" cy="436.5" r="4.15"/><circle cx="1252" cy="454.2" r="4.15"/><circle cx="1252" cy="450.1" r="4.15"/><circle cx="1252" cy="388.4" r="4.15"/><circle cx="1252" cy="411.7" r="4.15"/><circle cx="1252" cy="417.1" r="4.15"/><circle cx="1252" cy="413.4" r="4.15"/><circle cx="1252" cy="443.4" r="4.15"/><circle cx="1259" cy="456" r="4.15"/><circle cx="1259" cy="421.4" r="4.15"/><circle cx="1259" cy="400.8" r="4.15"/><circle cx="1259" cy="417.8" r="4.15"/><circle cx="1259" cy="431" r="4.15"/><circle cx="1259" cy="385" r="4.15"/><circle cx="1259" cy="403.1" r="4.15"/><circle cx="1259" cy="426" r="4.15"/><circle cx="1259" cy="390.8" r="4.15"/><circle cx="1259" cy="400.9" r="4.15"/><circle cx="1259" cy="378.1" r="4.15"/><circle cx="1259" cy="381.3" r="4.15"/><circle cx="1259" cy="384.6" r="4.15"/><circle cx="1259" cy="434.2" r="4.15"/><circle cx="1259" cy="363.1" r="4.15"/><circle cx="1259" cy="374.9" r="4.15"/><circle cx="1259" cy="432.1" r="4.15"/><circle cx="1259" cy="365.6" r="4.15"/><circle cx="1259" cy="408.6" r="4.15"/><circle cx="1259" cy="449.3" r="4.15"/><circle cx="1259" cy="413.4" r="4.15"/><circle cx="1259" cy="459.7" r="4.15"/><circle cx="1259" cy="370.1" r="4.15"/><circle cx="1259" cy="458.9" r="4.15"/><circle cx="1259" cy="357.5" r="4.15"/><circle cx="1259" cy="444" r="4.15"/><circle cx="1259" cy="416.9" r="4.15"/><circle cx="1259" cy="364.5" r="4.15"/><circle cx="1259" cy="398.8" r="4.15"/><circle cx="1265.9" cy="415.3" r="4.15"/><circle cx="1265.9" cy="385.3" r="4.15"/><circle cx="1265.9" cy="448.1" r="4.15"/><circle cx="1265.9" cy="413.5" r="4.15"/><circle cx="1265.9" cy="415.1" r="4.15"/><circle cx="1265.9" cy="397.9" r="4.15"/><circle cx="1265.9" cy="344.2" r="4.15"/><circle cx="1265.9" cy="444" r="4.15"/><circle cx="1265.9" cy="431.5" r="4.15"/><circle cx="1265.9" cy="396.3" r="4.15"/><circle cx="1265.9" cy="365.2" r="4.15"/><circle cx="1265.9" cy="442.5" r="4.15"/><circle cx="1265.9" cy="402.7" r="4.15"/><circle cx="1265.9" cy="396.7" r="4.15"/><circle cx="1265.9" cy="371" r="4.15"/><circle cx="1265.9" cy="440.5" r="4.15"/><circle cx="1265.9" cy="334.3" r="4.15"/><circle cx="1265.9" cy="460.3" r="4.15"/><circle cx="1265.9" cy="439.3" r="4.15"/><circle cx="1265.9" cy="396.4" r="4.15"/><circle cx="1265.9" cy="433.4" r="4.15"/><circle cx="1265.9" cy="429.2" r="4.15"/><circle cx="1265.9" cy="409.6" r="4.15"/><circle cx="1265.9" cy="436.8" r="4.15"/><circle cx="1265.9" cy="432.4" r="4.15"/><circle cx="1265.9" cy="401.8" r="4.15"/><circle cx="1265.9" cy="424.4" r="4.15"/><circle cx="1265.9" cy="396.2" r="4.15"/><circle cx="1265.9" cy="370.8" r="4.15"/><circle cx="1272.8" cy="366.6" r="4.15"/><circle cx="1272.8" cy="404.5" r="4.15"/><circle cx="1272.8" cy="422.3" r="4.15"/><circle cx="1272.8" cy="374.8" r="4.15"/><circle cx="1272.8" cy="340.9" r="4.15"/><circle cx="1272.8" cy="400.5" r="4.15"/><circle cx="1272.8" cy="377.5" r="4.15"/><circle cx="1272.8" cy="425.1" r="4.15"/><circle cx="1272.8" cy="428.6" r="4.15"/><circle cx="1272.8" cy="400.1" r="4.15"/><circle cx="1272.8" cy="389.7" r="4.15"/><circle cx="1272.8" cy="394" r="4.15"/><circle cx="1272.8" cy="382.9" r="4.15"/><circle cx="1272.8" cy="395.5" r="4.15"/><circle cx="1272.8" cy="410.6" r="4.15"/><circle cx="1272.8" cy="429.9" r="4.15"/><circle cx="1272.8" cy="411.3" r="4.15"/><circle cx="1272.8" cy="405.4" r="4.15"/><circle cx="1272.8" cy="407.7" r="4.15"/><circle cx="1272.8" cy="447.2" r="4.15"/><circle cx="1272.8" cy="360.6" r="4.15"/><circle cx="1272.8" cy="366.8" r="4.15"/><circle cx="1272.8" cy="398.6" r="4.15"/><circle cx="1272.8" cy="424.7" r="4.15"/><circle cx="1272.8" cy="366.6" r="4.15"/><circle cx="1272.8" cy="415.4" r="4.15"/><circle cx="1272.8" cy="415.9" r="4.15"/><circle cx="1272.8" cy="385.1" r="4.15"/><circle cx="1272.8" cy="427" r="4.15"/><circle cx="1279.7" cy="400" r="4.15"/><circle cx="1279.7" cy="427.1" r="4.15"/><circle cx="1279.7" cy="378.8" r="4.15"/><circle cx="1279.7" cy="386.9" r="4.15"/><circle cx="1279.7" cy="374" r="4.15"/><circle cx="1279.7" cy="386.3" r="4.15"/><circle cx="1279.7" cy="391.1" r="4.15"/><circle cx="1279.7" cy="388.6" r="4.15"/><circle cx="1279.7" cy="370.4" r="4.15"/><circle cx="1279.7" cy="447.5" r="4.15"/><circle cx="1279.7" cy="456.8" r="4.15"/><circle cx="1279.7" cy="402.1" r="4.15"/><circle cx="1279.7" cy="398.2" r="4.15"/><circle cx="1279.7" cy="416.1" r="4.15"/><circle cx="1279.7" cy="339.4" r="4.15"/><circle cx="1279.7" cy="384.6" r="4.15"/><circle cx="1279.7" cy="350" r="4.15"/><circle cx="1279.7" cy="401" r="4.15"/><circle cx="1279.7" cy="357.7" r="4.15"/><circle cx="1279.7" cy="403.1" r="4.15"/><circle cx="1279.7" cy="426.1" r="4.15"/><circle cx="1279.7" cy="348.7" r="4.15"/><circle cx="1279.7" cy="329.7" r="4.15"/><circle cx="1279.7" cy="387.8" r="4.15"/><circle cx="1279.7" cy="348.7" r="4.15"/><circle cx="1279.7" cy="418.4" r="4.15"/><circle cx="1279.7" cy="446.2" r="4.15"/><circle cx="1279.7" cy="357.1" r="4.15"/><circle cx="1279.7" cy="422.5" r="4.15"/><circle cx="1279.7" cy="401.8" r="4.15"/><circle cx="1279.7" cy="379.5" r="4.15"/><circle cx="1279.7" cy="415.2" r="4.15"/><circle cx="1279.7" cy="440.5" r="4.15"/><circle cx="1279.7" cy="341.3" r="4.15"/><circle cx="1279.7" cy="413.1" r="4.15"/><circle cx="1279.7" cy="433.5" r="4.15"/><circle cx="1279.7" cy="330.4" r="4.15"/><circle cx="1279.7" cy="397.9" r="4.15"/><circle cx="1279.7" cy="370.4" r="4.15"/><circle cx="1279.7" cy="390.8" r="4.15"/><circle cx="1279.7" cy="411.8" r="4.15"/><circle cx="1279.7" cy="372.4" r="4.15"/><circle cx="1279.7" cy="436.3" r="4.15"/><circle cx="1279.7" cy="433.4" r="4.15"/><circle cx="1279.7" cy="377.4" r="4.15"/><circle cx="1279.7" cy="421.5" r="4.15"/><circle cx="1279.7" cy="358.4" r="4.15"/><circle cx="1279.7" cy="373.6" r="4.15"/><circle cx="1279.7" cy="395.7" r="4.15"/><circle cx="1279.7" cy="356.7" r="4.15"/><circle cx="1279.7" cy="388.3" r="4.15"/><circle cx="1279.7" cy="390.8" r="4.15"/><circle cx="1279.7" cy="416.7" r="4.15"/><circle cx="1279.7" cy="409.3" r="4.15"/><circle cx="1279.7" cy="407.9" r="4.15"/><circle cx="1279.7" cy="359" r="4.15"/><circle cx="1279.7" cy="336" r="4.15"/><circle cx="1279.7" cy="357.6" r="4.15"/><circle cx="1279.7" cy="394" r="4.15"/><circle cx="1279.7" cy="410" r="4.15"/><circle cx="1279.7" cy="393.5" r="4.15"/><circle cx="1279.7" cy="429.5" r="4.15"/><circle cx="1279.7" cy="405.3" r="4.15"/><circle cx="1279.7" cy="419.1" r="4.15"/><circle cx="1279.7" cy="406.3" r="4.15"/><circle cx="1279.7" cy="404.8" r="4.15"/><circle cx="1279.7" cy="376.4" r="4.15"/><circle cx="1279.7" cy="451.3" r="4.15"/><circle cx="1279.7" cy="328.2" r="4.15"/><circle cx="1279.7" cy="398.4" r="4.15"/><circle cx="1279.7" cy="429.1" r="4.15"/><circle cx="1279.7" cy="343.2" r="4.15"/><circle cx="1279.7" cy="445.9" r="4.15"/><circle cx="1279.7" cy="435.4" r="4.15"/><circle cx="1279.7" cy="363.9" r="4.15"/><circle cx="1279.7" cy="342.5" r="4.15"/><circle cx="1279.7" cy="374.3" r="4.15"/><circle cx="1279.7" cy="398.8" r="4.15"/><circle cx="1279.7" cy="435.2" r="4.15"/><circle cx="1279.7" cy="410.7" r="4.15"/><circle cx="1279.7" cy="394.9" r="4.15"/><circle cx="1279.7" cy="361.9" r="4.15"/><circle cx="1279.7" cy="378" r="4.15"/><circle cx="1279.7" cy="453.3" r="4.15"/><circle cx="1279.7" cy="431.3" r="4.15"/><circle cx="1279.7" cy="408.9" r="4.15"/><circle cx="1279.7" cy="431.8" r="4.15"/><circle cx="1279.7" cy="378.3" r="4.15"/><circle cx="1279.7" cy="384" r="4.15"/><circle cx="1279.7" cy="448.5" r="4.15"/><circle cx="1279.7" cy="420.4" r="4.15"/><circle cx="1279.7" cy="407.9" r="4.15"/><circle cx="1279.7" cy="386.7" r="4.15"/><circle cx="1279.7" cy="432.9" r="4.15"/><circle cx="1279.7" cy="443.5" r="4.15"/><circle cx="1279.7" cy="339.4" r="4.15"/><circle cx="1279.7" cy="332.5" r="4.15"/><circle cx="1279.7" cy="420.3" r="4.15"/><circle cx="1279.7" cy="439.7" r="4.15"/><circle cx="1279.7" cy="397.6" r="4.15"/><circle cx="1279.7" cy="409.1" r="4.15"/><circle cx="1279.7" cy="448.6" r="4.15"/><circle cx="1279.7" cy="423.8" r="4.15"/><circle cx="1279.7" cy="356.9" r="4.15"/><circle cx="1279.7" cy="445.4" r="4.15"/><circle cx="1279.7" cy="395.1" r="4.15"/><circle cx="1279.7" cy="377.6" r="4.15"/><circle cx="1279.7" cy="330.2" r="4.15"/><circle cx="1279.7" cy="386.4" r="4.15"/><circle cx="1279.7" cy="394.3" r="4.15"/><circle cx="1279.7" cy="445.8" r="4.15"/><circle cx="1279.7" cy="393.9" r="4.15"/><circle cx="1279.7" cy="346.7" r="4.15"/><circle cx="1279.7" cy="384.9" r="4.15"/><circle cx="1279.7" cy="351.5" r="4.15"/><circle cx="1279.7" cy="425.2" r="4.15"/><circle cx="1279.7" cy="370.5" r="4.15"/><circle cx="1279.7" cy="415.6" r="4.15"/><circle cx="1279.7" cy="435" r="4.15"/><circle cx="1279.7" cy="431.7" r="4.15"/><circle cx="1286.6" cy="359.7" r="4.15"/><circle cx="1286.6" cy="381.8" r="4.15"/><circle cx="1286.6" cy="409.4" r="4.15"/><circle cx="1286.6" cy="412.1" r="4.15"/><circle cx="1286.6" cy="373.7" r="4.15"/><circle cx="1286.6" cy="419" r="4.15"/><circle cx="1286.6" cy="362" r="4.15"/><circle cx="1286.6" cy="391.6" r="4.15"/><circle cx="1286.6" cy="423.2" r="4.15"/><circle cx="1286.6" cy="409.5" r="4.15"/><circle cx="1286.6" cy="440.8" r="4.15"/><circle cx="1286.6" cy="441.6" r="4.15"/><circle cx="1286.6" cy="421.1" r="4.15"/><circle cx="1286.6" cy="420.6" r="4.15"/><circle cx="1286.6" cy="416" r="4.15"/><circle cx="1286.6" cy="430.1" r="4.15"/><circle cx="1286.6" cy="427.1" r="4.15"/><circle cx="1286.6" cy="391.1" r="4.15"/><circle cx="1286.6" cy="341.4" r="4.15"/><circle cx="1286.6" cy="399.1" r="4.15"/><circle cx="1286.6" cy="396.1" r="4.15"/><circle cx="1286.6" cy="360.8" r="4.15"/><circle cx="1286.6" cy="361.7" r="4.15"/><circle cx="1286.6" cy="350.6" r="4.15"/><circle cx="1286.6" cy="368.4" r="4.15"/><circle cx="1286.6" cy="375" r="4.15"/><circle cx="1286.6" cy="385.2" r="4.15"/><circle cx="1286.6" cy="407.3" r="4.15"/><circle cx="1286.6" cy="407.1" r="4.15"/><circle cx="1286.6" cy="343.1" r="4.15"/><circle cx="1293.5" cy="405.4" r="4.15"/><circle cx="1293.5" cy="437" r="4.15"/><circle cx="1293.5" cy="359.4" r="4.15"/><circle cx="1293.5" cy="426.7" r="4.15"/><circle cx="1293.5" cy="387.4" r="4.15"/><circle cx="1293.5" cy="432.1" r="4.15"/><circle cx="1293.5" cy="443" r="4.15"/><circle cx="1293.5" cy="360.8" r="4.15"/><circle cx="1293.5" cy="396.3" r="4.15"/><circle cx="1293.5" cy="377.3" r="4.15"/><circle cx="1293.5" cy="368.5" r="4.15"/><circle cx="1293.5" cy="411.5" r="4.15"/><circle cx="1293.5" cy="375.5" r="4.15"/><circle cx="1293.5" cy="353.9" r="4.15"/><circle cx="1293.5" cy="358.7" r="4.15"/><circle cx="1293.5" cy="378.2" r="4.15"/><circle cx="1293.5" cy="373" r="4.15"/><circle cx="1293.5" cy="342.1" r="4.15"/><circle cx="1293.5" cy="393.3" r="4.15"/><circle cx="1293.5" cy="410.9" r="4.15"/><circle cx="1293.5" cy="410.9" r="4.15"/><circle cx="1293.5" cy="437.8" r="4.15"/><circle cx="1293.5" cy="400.2" r="4.15"/><circle cx="1293.5" cy="402.5" r="4.15"/><circle cx="1293.5" cy="407.8" r="4.15"/><circle cx="1293.5" cy="404.2" r="4.15"/><circle cx="1293.5" cy="373" r="4.15"/><circle cx="1293.5" cy="347.3" r="4.15"/><circle cx="1293.5" cy="393" r="4.15"/><circle cx="1293.5" cy="430.1" r="4.15"/><circle cx="1300.4" cy="417.9" r="4.15"/><circle cx="1300.4" cy="399" r="4.15"/><circle cx="1300.4" cy="426" r="4.15"/><circle cx="1300.4" cy="402.2" r="4.15"/><circle cx="1300.4" cy="380.5" r="4.15"/><circle cx="1300.4" cy="391.9" r="4.15"/><circle cx="1300.4" cy="325.9" r="4.15"/><circle cx="1300.4" cy="394.8" r="4.15"/><circle cx="1300.4" cy="361.2" r="4.15"/><circle cx="1300.4" cy="323.7" r="4.15"/><circle cx="1300.4" cy="364.8" r="4.15"/><circle cx="1300.4" cy="380" r="4.15"/><circle cx="1300.4" cy="356.1" r="4.15"/><circle cx="1300.4" cy="342.9" r="4.15"/><circle cx="1300.4" cy="395.7" r="4.15"/><circle cx="1300.4" cy="404.5" r="4.15"/><circle cx="1300.4" cy="342.4" r="4.15"/><circle cx="1300.4" cy="405.7" r="4.15"/><circle cx="1300.4" cy="403.5" r="4.15"/><circle cx="1300.4" cy="423.9" r="4.15"/><circle cx="1300.4" cy="420.5" r="4.15"/><circle cx="1300.4" cy="410.4" r="4.15"/><circle cx="1300.4" cy="423.3" r="4.15"/><circle cx="1300.4" cy="421" r="4.15"/><circle cx="1300.4" cy="364.4" r="4.15"/><circle cx="1300.4" cy="399.1" r="4.15"/><circle cx="1300.4" cy="381" r="4.15"/><circle cx="1300.4" cy="433.6" r="4.15"/><circle cx="1300.4" cy="363" r="4.15"/><circle cx="1300.4" cy="394.7" r="4.15"/><circle cx="1300.4" cy="362.6" r="4.15"/><circle cx="1307.3" cy="375.1" r="4.15"/><circle cx="1307.3" cy="419.3" r="4.15"/><circle cx="1307.3" cy="398.3" r="4.15"/><circle cx="1307.3" cy="423.9" r="4.15"/><circle cx="1307.3" cy="433.4" r="4.15"/><circle cx="1307.3" cy="437.3" r="4.15"/><circle cx="1307.3" cy="403.5" r="4.15"/><circle cx="1307.3" cy="360.6" r="4.15"/><circle cx="1307.3" cy="437.7" r="4.15"/><circle cx="1307.3" cy="420.4" r="4.15"/><circle cx="1307.3" cy="434.7" r="4.15"/><circle cx="1307.3" cy="429.4" r="4.15"/><circle cx="1307.3" cy="374.2" r="4.15"/><circle cx="1307.3" cy="414.5" r="4.15"/><circle cx="1307.3" cy="433.4" r="4.15"/><circle cx="1307.3" cy="373.2" r="4.15"/><circle cx="1307.3" cy="385.9" r="4.15"/><circle cx="1307.3" cy="385.9" r="4.15"/><circle cx="1307.3" cy="393.2" r="4.15"/><circle cx="1307.3" cy="420.2" r="4.15"/><circle cx="1307.3" cy="368.9" r="4.15"/><circle cx="1307.3" cy="421.3" r="4.15"/><circle cx="1307.3" cy="390.3" r="4.15"/><circle cx="1307.3" cy="392.8" r="4.15"/><circle cx="1307.3" cy="356.6" r="4.15"/><circle cx="1307.3" cy="404.4" r="4.15"/><circle cx="1307.3" cy="368.9" r="4.15"/><circle cx="1314.3" cy="391.5" r="4.15"/><circle cx="1314.3" cy="388.7" r="4.15"/><circle cx="1314.3" cy="392.8" r="4.15"/><circle cx="1314.3" cy="365" r="4.15"/><circle cx="1314.3" cy="424.5" r="4.15"/><circle cx="1314.3" cy="427.1" r="4.15"/><circle cx="1314.3" cy="328.8" r="4.15"/><circle cx="1314.3" cy="407.1" r="4.15"/><circle cx="1314.3" cy="356.2" r="4.15"/><circle cx="1314.3" cy="366.9" r="4.15"/><circle cx="1314.3" cy="388.4" r="4.15"/><circle cx="1314.3" cy="384.2" r="4.15"/><circle cx="1314.3" cy="438.9" r="4.15"/><circle cx="1314.3" cy="381.6" r="4.15"/><circle cx="1314.3" cy="405.7" r="4.15"/><circle cx="1314.3" cy="337.7" r="4.15"/><circle cx="1314.3" cy="419.4" r="4.15"/><circle cx="1314.3" cy="350.9" r="4.15"/><circle cx="1314.3" cy="444.2" r="4.15"/><circle cx="1314.3" cy="406.6" r="4.15"/><circle cx="1314.3" cy="364" r="4.15"/><circle cx="1314.3" cy="372.5" r="4.15"/><circle cx="1314.3" cy="365.4" r="4.15"/><circle cx="1314.3" cy="388.8" r="4.15"/><circle cx="1314.3" cy="391.4" r="4.15"/><circle cx="1314.3" cy="399.5" r="4.15"/><circle cx="1314.3" cy="382.6" r="4.15"/><circle cx="1314.3" cy="436.3" r="4.15"/><circle cx="1314.3" cy="387.6" r="4.15"/><circle cx="1314.3" cy="345.7" r="4.15"/><circle cx="1314.3" cy="389.9" r="4.15"/><circle cx="1314.3" cy="403" r="4.15"/><circle cx="1314.3" cy="363.8" r="4.15"/><circle cx="1314.3" cy="434.6" r="4.15"/><circle cx="1314.3" cy="405.9" r="4.15"/><circle cx="1314.3" cy="360.7" r="4.15"/><circle cx="1314.3" cy="363.1" r="4.15"/><circle cx="1314.3" cy="401.4" r="4.15"/><circle cx="1314.3" cy="427.7" r="4.15"/><circle cx="1314.3" cy="445.8" r="4.15"/><circle cx="1314.3" cy="395.1" r="4.15"/><circle cx="1314.3" cy="339.7" r="4.15"/><circle cx="1314.3" cy="399.1" r="4.15"/><circle cx="1314.3" cy="359.7" r="4.15"/><circle cx="1314.3" cy="408.6" r="4.15"/><circle cx="1314.3" cy="391.6" r="4.15"/><circle cx="1314.3" cy="379.4" r="4.15"/><circle cx="1314.3" cy="390.5" r="4.15"/><circle cx="1314.3" cy="435.6" r="4.15"/><circle cx="1314.3" cy="355.4" r="4.15"/><circle cx="1314.3" cy="396.4" r="4.15"/><circle cx="1314.3" cy="372" r="4.15"/><circle cx="1314.3" cy="427.5" r="4.15"/><circle cx="1314.3" cy="356.8" r="4.15"/><circle cx="1314.3" cy="426" r="4.15"/><circle cx="1314.3" cy="378.7" r="4.15"/><circle cx="1314.3" cy="413.2" r="4.15"/><circle cx="1314.3" cy="428.1" r="4.15"/><circle cx="1314.3" cy="370.1" r="4.15"/><circle cx="1314.3" cy="377.8" r="4.15"/><circle cx="1314.3" cy="365.2" r="4.15"/><circle cx="1314.3" cy="360.8" r="4.15"/><circle cx="1314.3" cy="387.8" r="4.15"/><circle cx="1314.3" cy="380.9" r="4.15"/><circle cx="1314.3" cy="383.5" r="4.15"/><circle cx="1314.3" cy="382.7" r="4.15"/><circle cx="1314.3" cy="410.8" r="4.15"/><circle cx="1314.3" cy="350.4" r="4.15"/><circle cx="1314.3" cy="341.7" r="4.15"/><circle cx="1314.3" cy="432.4" r="4.15"/><circle cx="1314.3" cy="392.8" r="4.15"/><circle cx="1314.3" cy="435.7" r="4.15"/><circle cx="1314.3" cy="415.7" r="4.15"/><circle cx="1314.3" cy="353.9" r="4.15"/><circle cx="1314.3" cy="394.6" r="4.15"/><circle cx="1314.3" cy="386.6" r="4.15"/><circle cx="1314.3" cy="412" r="4.15"/><circle cx="1314.3" cy="345.1" r="4.15"/><circle cx="1314.3" cy="378.8" r="4.15"/><circle cx="1314.3" cy="386.9" r="4.15"/><circle cx="1314.3" cy="343.4" r="4.15"/><circle cx="1314.3" cy="382.8" r="4.15"/><circle cx="1314.3" cy="403.4" r="4.15"/><circle cx="1314.3" cy="445" r="4.15"/><circle cx="1314.3" cy="337.1" r="4.15"/><circle cx="1314.3" cy="383.2" r="4.15"/><circle cx="1314.3" cy="356.8" r="4.15"/><circle cx="1314.3" cy="366.9" r="4.15"/><circle cx="1314.3" cy="427.9" r="4.15"/><circle cx="1314.3" cy="431.1" r="4.15"/><circle cx="1314.3" cy="431.6" r="4.15"/><circle cx="1314.3" cy="433.4" r="4.15"/><circle cx="1314.3" cy="417.9" r="4.15"/><circle cx="1314.3" cy="372" r="4.15"/><circle cx="1314.3" cy="426.1" r="4.15"/><circle cx="1314.3" cy="411.2" r="4.15"/><circle cx="1314.3" cy="401.9" r="4.15"/><circle cx="1314.3" cy="361.9" r="4.15"/><circle cx="1314.3" cy="422.6" r="4.15"/><circle cx="1314.3" cy="361.5" r="4.15"/><circle cx="1314.3" cy="402" r="4.15"/><circle cx="1314.3" cy="364.1" r="4.15"/><circle cx="1314.3" cy="349" r="4.15"/><circle cx="1314.3" cy="456.4" r="4.15"/><circle cx="1314.3" cy="389.1" r="4.15"/><circle cx="1314.3" cy="400.7" r="4.15"/><circle cx="1314.3" cy="359.8" r="4.15"/><circle cx="1314.3" cy="338.7" r="4.15"/><circle cx="1314.3" cy="416.2" r="4.15"/><circle cx="1314.3" cy="461" r="4.15"/><circle cx="1314.3" cy="417.2" r="4.15"/><circle cx="1314.3" cy="395.2" r="4.15"/><circle cx="1314.3" cy="423.8" r="4.15"/><circle cx="1314.3" cy="385" r="4.15"/><circle cx="1314.3" cy="446.1" r="4.15"/><circle cx="1321.2" cy="374.9" r="4.15"/><circle cx="1321.2" cy="367.5" r="4.15"/><circle cx="1321.2" cy="321.8" r="4.15"/><circle cx="1321.2" cy="398.2" r="4.15"/><circle cx="1321.2" cy="357.8" r="4.15"/><circle cx="1321.2" cy="419.2" r="4.15"/><circle cx="1321.2" cy="418.7" r="4.15"/><circle cx="1321.2" cy="422.4" r="4.15"/><circle cx="1321.2" cy="398.5" r="4.15"/><circle cx="1321.2" cy="440.2" r="4.15"/><circle cx="1321.2" cy="404.8" r="4.15"/><circle cx="1321.2" cy="394.1" r="4.15"/><circle cx="1321.2" cy="387.4" r="4.15"/><circle cx="1321.2" cy="409.5" r="4.15"/><circle cx="1321.2" cy="401.7" r="4.15"/><circle cx="1321.2" cy="353.6" r="4.15"/><circle cx="1321.2" cy="384.3" r="4.15"/><circle cx="1321.2" cy="354.3" r="4.15"/><circle cx="1321.2" cy="436.8" r="4.15"/><circle cx="1321.2" cy="377" r="4.15"/><circle cx="1321.2" cy="426.9" r="4.15"/><circle cx="1321.2" cy="440.5" r="4.15"/><circle cx="1321.2" cy="367.8" r="4.15"/><circle cx="1321.2" cy="385.4" r="4.15"/><circle cx="1321.2" cy="369" r="4.15"/><circle cx="1321.2" cy="371.5" r="4.15"/><circle cx="1321.2" cy="374.5" r="4.15"/><circle cx="1328.1" cy="386.4" r="4.15"/><circle cx="1328.1" cy="358.1" r="4.15"/><circle cx="1328.1" cy="341.4" r="4.15"/><circle cx="1328.1" cy="403.7" r="4.15"/><circle cx="1328.1" cy="398.3" r="4.15"/><circle cx="1328.1" cy="401.8" r="4.15"/><circle cx="1328.1" cy="353.5" r="4.15"/><circle cx="1328.1" cy="382.8" r="4.15"/><circle cx="1328.1" cy="401.9" r="4.15"/><circle cx="1328.1" cy="354.9" r="4.15"/><circle cx="1328.1" cy="353.2" r="4.15"/><circle cx="1328.1" cy="379.3" r="4.15"/><circle cx="1328.1" cy="344.7" r="4.15"/><circle cx="1328.1" cy="395.2" r="4.15"/><circle cx="1328.1" cy="402" r="4.15"/><circle cx="1328.1" cy="358.4" r="4.15"/><circle cx="1328.1" cy="376.2" r="4.15"/><circle cx="1328.1" cy="366.1" r="4.15"/><circle cx="1328.1" cy="356.6" r="4.15"/><circle cx="1328.1" cy="352.8" r="4.15"/><circle cx="1328.1" cy="364.8" r="4.15"/><circle cx="1328.1" cy="388.9" r="4.15"/><circle cx="1328.1" cy="366.4" r="4.15"/><circle cx="1328.1" cy="425.1" r="4.15"/><circle cx="1328.1" cy="340.9" r="4.15"/><circle cx="1328.1" cy="372.5" r="4.15"/><circle cx="1335" cy="441.4" r="4.15"/><circle cx="1335" cy="436.3" r="4.15"/><circle cx="1335" cy="434.2" r="4.15"/><circle cx="1335" cy="405.1" r="4.15"/><circle cx="1335" cy="360.5" r="4.15"/><circle cx="1335" cy="392" r="4.15"/><circle cx="1335" cy="363.8" r="4.15"/><circle cx="1335" cy="437.4" r="4.15"/><circle cx="1335" cy="394.8" r="4.15"/><circle cx="1335" cy="385.2" r="4.15"/><circle cx="1335" cy="376.2" r="4.15"/><circle cx="1335" cy="365.3" r="4.15"/><circle cx="1335" cy="386.9" r="4.15"/><circle cx="1335" cy="361.9" r="4.15"/><circle cx="1335" cy="347.6" r="4.15"/><circle cx="1335" cy="373.4" r="4.15"/><circle cx="1335" cy="433.8" r="4.15"/><circle cx="1335" cy="415.1" r="4.15"/><circle cx="1335" cy="421.7" r="4.15"/><circle cx="1335" cy="335.5" r="4.15"/><circle cx="1335" cy="362.9" r="4.15"/><circle cx="1335" cy="388.8" r="4.15"/><circle cx="1335" cy="412" r="4.15"/><circle cx="1335" cy="412" r="4.15"/><circle cx="1341.9" cy="336.7" r="4.15"/><circle cx="1341.9" cy="395.5" r="4.15"/><circle cx="1341.9" cy="410.9" r="4.15"/><circle cx="1341.9" cy="417.4" r="4.15"/><circle cx="1341.9" cy="365.3" r="4.15"/><circle cx="1341.9" cy="409.1" r="4.15"/><circle cx="1341.9" cy="367.3" r="4.15"/><circle cx="1341.9" cy="360.4" r="4.15"/><circle cx="1341.9" cy="368.7" r="4.15"/><circle cx="1341.9" cy="400.3" r="4.15"/><circle cx="1341.9" cy="360.2" r="4.15"/><circle cx="1341.9" cy="330.5" r="4.15"/><circle cx="1341.9" cy="419.7" r="4.15"/><circle cx="1341.9" cy="419.3" r="4.15"/><circle cx="1341.9" cy="402.4" r="4.15"/><circle cx="1341.9" cy="385.9" r="4.15"/><circle cx="1341.9" cy="408" r="4.15"/><circle cx="1341.9" cy="412.1" r="4.15"/><circle cx="1348.8" cy="350.6" r="4.15"/><circle cx="1348.8" cy="432.9" r="4.15"/><circle cx="1348.8" cy="386.7" r="4.15"/><circle cx="1348.8" cy="409.9" r="4.15"/><circle cx="1348.8" cy="358.4" r="4.15"/><circle cx="1348.8" cy="440.5" r="4.15"/><circle cx="1348.8" cy="436" r="4.15"/><circle cx="1348.8" cy="384.7" r="4.15"/><circle cx="1348.8" cy="385" r="4.15"/><circle cx="1348.8" cy="409.2" r="4.15"/><circle cx="1348.8" cy="371.3" r="4.15"/><circle cx="1348.8" cy="409.5" r="4.15"/><circle cx="1348.8" cy="403.3" r="4.15"/><circle cx="1348.8" cy="438.8" r="4.15"/><circle cx="1348.8" cy="389.2" r="4.15"/><circle cx="1348.8" cy="348.9" r="4.15"/><circle cx="1348.8" cy="394.5" r="4.15"/><circle cx="1348.8" cy="390.9" r="4.15"/><circle cx="1348.8" cy="347.2" r="4.15"/><circle cx="1348.8" cy="405.8" r="4.15"/><circle cx="1348.8" cy="415.9" r="4.15"/><circle cx="1348.8" cy="384.2" r="4.15"/><circle cx="1348.8" cy="317.1" r="4.15"/><circle cx="1348.8" cy="404.8" r="4.15"/><circle cx="1348.8" cy="391" r="4.15"/><circle cx="1348.8" cy="374.5" r="4.15"/><circle cx="1348.8" cy="407.1" r="4.15"/><circle cx="1348.8" cy="404" r="4.15"/><circle cx="1348.8" cy="333.7" r="4.15"/><circle cx="1348.8" cy="367.2" r="4.15"/><circle cx="1348.8" cy="348.7" r="4.15"/><circle cx="1348.8" cy="335.3" r="4.15"/><circle cx="1348.8" cy="378.2" r="4.15"/><circle cx="1348.8" cy="367.7" r="4.15"/><circle cx="1348.8" cy="412.4" r="4.15"/><circle cx="1348.8" cy="378.7" r="4.15"/><circle cx="1348.8" cy="380.5" r="4.15"/><circle cx="1348.8" cy="369.9" r="4.15"/><circle cx="1348.8" cy="331.9" r="4.15"/><circle cx="1348.8" cy="366.1" r="4.15"/><circle cx="1348.8" cy="314.3" r="4.15"/><circle cx="1348.8" cy="379.4" r="4.15"/><circle cx="1348.8" cy="372.9" r="4.15"/><circle cx="1348.8" cy="429.5" r="4.15"/><circle cx="1348.8" cy="376.8" r="4.15"/><circle cx="1348.8" cy="413.5" r="4.15"/><circle cx="1348.8" cy="378.6" r="4.15"/><circle cx="1348.8" cy="445.9" r="4.15"/><circle cx="1348.8" cy="340.3" r="4.15"/><circle cx="1348.8" cy="452.1" r="4.15"/><circle cx="1348.8" cy="367.2" r="4.15"/><circle cx="1348.8" cy="388.1" r="4.15"/><circle cx="1348.8" cy="376.5" r="4.15"/><circle cx="1348.8" cy="352.4" r="4.15"/><circle cx="1348.8" cy="322.2" r="4.15"/><circle cx="1348.8" cy="439.9" r="4.15"/><circle cx="1348.8" cy="393.7" r="4.15"/><circle cx="1348.8" cy="397.8" r="4.15"/><circle cx="1348.8" cy="386.1" r="4.15"/><circle cx="1348.8" cy="335.7" r="4.15"/><circle cx="1348.8" cy="414" r="4.15"/><circle cx="1348.8" cy="433" r="4.15"/><circle cx="1348.8" cy="414.6" r="4.15"/><circle cx="1348.8" cy="349.8" r="4.15"/><circle cx="1348.8" cy="421.5" r="4.15"/><circle cx="1348.8" cy="407.3" r="4.15"/><circle cx="1348.8" cy="337.7" r="4.15"/><circle cx="1348.8" cy="320.4" r="4.15"/><circle cx="1348.8" cy="416.5" r="4.15"/><circle cx="1348.8" cy="416.3" r="4.15"/><circle cx="1348.8" cy="355.6" r="4.15"/><circle cx="1348.8" cy="344.4" r="4.15"/><circle cx="1348.8" cy="388.6" r="4.15"/><circle cx="1348.8" cy="385.2" r="4.15"/><circle cx="1348.8" cy="354.1" r="4.15"/><circle cx="1348.8" cy="454.4" r="4.15"/><circle cx="1348.8" cy="326.3" r="4.15"/><circle cx="1348.8" cy="432.8" r="4.15"/><circle cx="1348.8" cy="332.4" r="4.15"/><circle cx="1348.8" cy="385.7" r="4.15"/><circle cx="1348.8" cy="353.2" r="4.15"/><circle cx="1348.8" cy="454.2" r="4.15"/><circle cx="1348.8" cy="374.6" r="4.15"/><circle cx="1348.8" cy="375.3" r="4.15"/><circle cx="1348.8" cy="378.8" r="4.15"/><circle cx="1348.8" cy="381" r="4.15"/><circle cx="1348.8" cy="391" r="4.15"/><circle cx="1348.8" cy="390.2" r="4.15"/><circle cx="1348.8" cy="438.3" r="4.15"/><circle cx="1348.8" cy="410" r="4.15"/><circle cx="1348.8" cy="443" r="4.15"/><circle cx="1348.8" cy="375.2" r="4.15"/><circle cx="1348.8" cy="399.3" r="4.15"/><circle cx="1348.8" cy="420.9" r="4.15"/><circle cx="1348.8" cy="371" r="4.15"/><circle cx="1355.7" cy="404.5" r="4.15"/><circle cx="1355.7" cy="400.7" r="4.15"/><circle cx="1355.7" cy="389.8" r="4.15"/><circle cx="1355.7" cy="364.4" r="4.15"/><circle cx="1355.7" cy="369.8" r="4.15"/><circle cx="1355.7" cy="401.2" r="4.15"/><circle cx="1355.7" cy="397.1" r="4.15"/><circle cx="1355.7" cy="347" r="4.15"/><circle cx="1355.7" cy="342.7" r="4.15"/><circle cx="1355.7" cy="395.1" r="4.15"/><circle cx="1362.7" cy="403.5" r="4.15"/><circle cx="1362.7" cy="376.6" r="4.15"/><circle cx="1362.7" cy="377.9" r="4.15"/><circle cx="1362.7" cy="383.3" r="4.15"/><circle cx="1362.7" cy="407.7" r="4.15"/><circle cx="1362.7" cy="390.9" r="4.15"/><circle cx="1369.6" cy="414.9" r="4.15"/><circle cx="1369.6" cy="374.5" r="4.15"/><circle cx="1369.6" cy="386.9" r="4.15"/><circle cx="1369.6" cy="357.1" r="4.15"/><circle cx="1369.6" cy="377.9" r="4.15"/><circle cx="1369.6" cy="375.5" r="4.15"/><circle cx="1369.6" cy="382.3" r="4.15"/><circle cx="1369.6" cy="366.7" r="4.15"/><circle cx="1369.6" cy="393.4" r="4.15"/><circle cx="1369.6" cy="374.5" r="4.15"/><circle cx="1376.5" cy="356.8" r="4.15"/><circle cx="1376.5" cy="367.3" r="4.15"/><circle cx="1376.5" cy="366.3" r="4.15"/><circle cx="1376.5" cy="382.4" r="4.15"/><circle cx="1376.5" cy="371.3" r="4.15"/><circle cx="1376.5" cy="408.6" r="4.15"/><circle cx="1383.4" cy="392.1" r="4.15"/><circle cx="1383.4" cy="395.4" r="4.15"/><circle cx="1383.4" cy="379.8" r="4.15"/><circle cx="1383.4" cy="388.2" r="4.15"/><circle cx="1383.4" cy="351.8" r="4.15"/><circle cx="1383.4" cy="398.4" r="4.15"/><circle cx="1383.4" cy="351.8" r="4.15"/><circle cx="1383.4" cy="350.6" r="4.15"/><circle cx="1383.4" cy="350.3" r="4.15"/><circle cx="1383.4" cy="386.6" r="4.15"/><circle cx="1383.4" cy="394.8" r="4.15"/><circle cx="1383.4" cy="410.1" r="4.15"/><circle cx="1383.4" cy="373.9" r="4.15"/><circle cx="1383.4" cy="394.3" r="4.15"/><circle cx="1383.4" cy="417.8" r="4.15"/><circle cx="1383.4" cy="349" r="4.15"/><circle cx="1383.4" cy="415.5" r="4.15"/><circle cx="1383.4" cy="403.5" r="4.15"/><circle cx="1383.4" cy="376.3" r="4.15"/><circle cx="1383.4" cy="409.2" r="4.15"/><circle cx="1383.4" cy="353.3" r="4.15"/><circle cx="1383.4" cy="364.8" r="4.15"/><circle cx="1383.4" cy="373.5" r="4.15"/><circle cx="1383.4" cy="369.4" r="4.15"/><circle cx="1383.4" cy="364.2" r="4.15"/><circle cx="1383.4" cy="373.9" r="4.15"/><circle cx="1383.4" cy="397.3" r="4.15"/><circle cx="1383.4" cy="378.2" r="4.15"/><circle cx="1383.4" cy="415.5" r="4.15"/><circle cx="1383.4" cy="386.4" r="4.15"/><circle cx="1383.4" cy="417.5" r="4.15"/><circle cx="1383.4" cy="379.1" r="4.15"/><circle cx="1383.4" cy="366.9" r="4.15"/><circle cx="1383.4" cy="372.8" r="4.15"/><circle cx="1383.4" cy="371.3" r="4.15"/><circle cx="1383.4" cy="388.8" r="4.15"/><circle cx="1383.4" cy="379" r="4.15"/><circle cx="1383.4" cy="394.9" r="4.15"/><circle cx="1383.4" cy="387.3" r="4.15"/><circle cx="1383.4" cy="394.7" r="4.15"/><circle cx="1383.4" cy="385.8" r="4.15"/><circle cx="1383.4" cy="360.3" r="4.15"/><circle cx="1390.3" cy="371.6" r="4.15"/><circle cx="1390.3" cy="371.7" r="4.15"/><circle cx="1390.3" cy="407.1" r="4.15"/><circle cx="1390.3" cy="375" r="4.15"/><circle cx="1397.2" cy="381.9" r="4.15"/><circle cx="1397.2" cy="398.9" r="4.15"/><circle cx="1397.2" cy="407.8" r="4.15"/><circle cx="1245.1" cy="272.7" r="4.15"/><circle cx="1279.7" cy="279.8" r="4.15"/><circle cx="1314.3" cy="279.4" r="4.15"/><circle cx="1390.3" cy="268" r="4.15"/><circle cx="1379.9" cy="285.7" r="4.15"/><circle cx="1369.6" cy="292.4" r="4.15"/><circle cx="1286.6" cy="292.6" r="4.15"/><circle cx="1286.6" cy="294.4" r="4.15"/><circle cx="1307.3" cy="298.4" r="4.15"/><circle cx="1307.3" cy="300.2" r="4.15"/><circle cx="1321.2" cy="296" r="4.15"/><circle cx="1293.5" cy="304.1" r="4.15"/><circle cx="1335" cy="294.4" r="4.15"/><circle cx="1341.9" cy="298.4" r="4.15"/><circle cx="1348.8" cy="293.3" r="4.15"/><circle cx="1328.1" cy="304.1" r="4.15"/><circle cx="1265.9" cy="306.1" r="4.15"/><circle cx="1265.9" cy="319.7" r="4.15"/><circle cx="1341.9" cy="309.7" r="4.15"/><circle cx="1352.3" cy="312.8" r="4.15"/><circle cx="1279.7" cy="322.4" r="4.15"/><circle cx="1293.5" cy="321.8" r="4.15"/><circle cx="1303.9" cy="318.2" r="4.15"/><circle cx="1314.3" cy="316.4" r="4.15"/><circle cx="1321.2" cy="315.5" r="4.15"/><circle cx="1335" cy="316.4" r="4.15"/><circle cx="1224.4" cy="325.8" r="4.15"/><circle cx="1238.2" cy="334.5" r="4.15"/><circle cx="1245.1" cy="339" r="4.15"/><circle cx="1217.5" cy="347.1" r="4.15"/><circle cx="1217.5" cy="359.4" r="4.15"/><circle cx="1189.8" cy="354.7" r="4.15"/><circle cx="1189.8" cy="370.6" r="4.15"/><circle cx="1203.7" cy="363.9" r="4.15"/><circle cx="1203.7" cy="382.9" r="4.15"/><circle cx="1210.6" cy="375.1" r="4.15"/><circle cx="1217.5" cy="376" r="4.15"/><circle cx="1169.1" cy="398" r="4.15"/><circle cx="1176" cy="401.3" r="4.15"/><circle cx="1182.9" cy="413" r="4.15"/><circle cx="1176" cy="416.6" r="4.15"/><circle cx="1106.9" cy="433.8" r="4.15"/><circle cx="1369.6" cy="324.5" r="4.15"/><circle cx="1397.2" cy="318.6" r="4.15"/><circle cx="1411" cy="317.3" r="4.15"/><circle cx="1404.1" cy="331.8" r="4.15"/><circle cx="1369.6" cy="343.9" r="4.15"/><circle cx="1376.5" cy="346.7" r="4.15"/><circle cx="1383.4" cy="340.2" r="4.15"/><circle cx="1355.7" cy="339.9" r="4.15"/><circle cx="1355.7" cy="349.8" r="4.15"/><circle cx="1411" cy="367" r="4.15"/><circle cx="1397.2" cy="374.2" r="4.15"/><circle cx="1397.2" cy="384.1" r="4.15"/><circle cx="1411" cy="388.6" r="4.15"/><circle cx="1411" cy="408.5" r="4.15"/><circle cx="1390.3" cy="401.3" r="4.15"/><circle cx="1397.2" cy="418.4" r="4.15"/><circle cx="1404.1" cy="428.4" r="4.15"/><circle cx="1383.4" cy="423.9" r="4.15"/><circle cx="1373" cy="433.8" r="4.15"/><circle cx="1303.9" cy="430.2" r="4.15"/><circle cx="1127.6" cy="484" r="4.15"/><circle cx="1134.5" cy="479.5" r="4.15"/><circle cx="1141.4" cy="474.4" r="4.15"/><circle cx="1144.9" cy="461.4" r="4.15"/><circle cx="1148.3" cy="462.8" r="4.15"/><circle cx="1162.2" cy="451.5" r="4.15"/><circle cx="1162.2" cy="493" r="4.15"/><circle cx="1169.1" cy="471.9" r="4.15"/><circle cx="1176" cy="466.8" r="4.15"/><circle cx="1176" cy="479.5" r="4.15"/><circle cx="1176" cy="482.2" r="4.15"/><circle cx="1176" cy="484.9" r="4.15"/><circle cx="1176" cy="495.2" r="4.15"/><circle cx="1176" cy="509.3" r="4.15"/><circle cx="1179.5" cy="509.3" r="4.15"/><circle cx="1182.9" cy="454.2" r="4.15"/><circle cx="1182.9" cy="479.5" r="4.15"/><circle cx="1182.9" cy="489.4" r="4.15"/><circle cx="1189.8" cy="454.2" r="4.15"/><circle cx="1189.8" cy="470.4" r="4.15"/><circle cx="1189.8" cy="497.5" r="4.15"/><circle cx="1193.3" cy="502" r="4.15"/><circle cx="1196.7" cy="481.3" r="4.15"/><circle cx="1196.7" cy="521.9" r="4.15"/><circle cx="1203.7" cy="477.7" r="4.15"/><circle cx="1203.7" cy="486.7" r="4.15"/><circle cx="1203.7" cy="513.8" r="4.15"/><circle cx="1210.6" cy="493.9" r="4.15"/><circle cx="1210.6" cy="498.4" r="4.15"/><circle cx="1217.5" cy="478.6" r="4.15"/><circle cx="1217.5" cy="495.7" r="4.15"/><circle cx="1224.4" cy="452.4" r="4.15"/><circle cx="1224.4" cy="488.5" r="4.15"/><circle cx="1231.3" cy="447.9" r="4.15"/><circle cx="1231.3" cy="461.4" r="4.15"/><circle cx="1231.3" cy="466.8" r="4.15"/><circle cx="1231.3" cy="472.2" r="4.15"/><circle cx="1231.3" cy="486.7" r="4.15"/><circle cx="1245.1" cy="504.4" r="4.15"/><circle cx="1252" cy="481.3" r="4.15"/><circle cx="1252" cy="518.8" r="4.15"/><circle cx="1259" cy="475.8" r="4.15"/><circle cx="1259" cy="493.5" r="4.15"/><circle cx="1265.9" cy="470.4" r="4.15"/><circle cx="1272.8" cy="517" r="4.15"/><circle cx="1279.7" cy="463.2" r="4.15"/><circle cx="1279.7" cy="473.1" r="4.15"/><circle cx="1279.7" cy="479.5" r="4.15"/><circle cx="1293.5" cy="457.8" r="4.15"/><circle cx="1297" cy="471.7" r="4.15"/><circle cx="1314.3" cy="466.8" r="4.15"/><circle cx="1314.3" cy="485.8" r="4.15"/><circle cx="1314.3" cy="514.7" r="4.15"/><circle cx="1317.7" cy="467.7" r="4.15"/><circle cx="1317.7" cy="476.7" r="4.15"/><circle cx="1335" cy="454.2" r="4.15"/><circle cx="1335" cy="466.8" r="4.15"/><circle cx="1341.9" cy="476.7" r="4.15"/><circle cx="1341.9" cy="483.4" r="4.15"/><circle cx="1348.8" cy="465" r="4.15"/><circle cx="1352.3" cy="469.5" r="4.15"/><circle cx="1355.7" cy="464.1" r="4.15"/><circle cx="1369.6" cy="462.3" r="4.15"/><circle cx="1362.7" cy="444.2" r="4.15"/><circle cx="1369.6" cy="440.6" r="4.15"/><circle cx="1383.4" cy="424.4" r="4.15"/><circle cx="1383.4" cy="455.1" r="4.15"/><circle cx="1383.4" cy="466.8" r="4.15"/><circle cx="1383.4" cy="481.3" r="4.15"/><circle cx="1383.4" cy="486.7" r="4.15"/><circle cx="1390.3" cy="454.2" r="4.15"/><circle cx="1397.2" cy="418.1" r="4.15"/><circle cx="1397.2" cy="447.9" r="4.15"/><circle cx="1397.2" cy="468.3" r="4.15"/><circle cx="1404.1" cy="428.9" r="4.15"/><circle cx="1411" cy="408.1" r="4.15"/><circle cx="1411" cy="448.8" r="4.15"/><circle cx="1424.9" cy="255.4" r="4.15"/><circle cx="1459.4" cy="265.5" r="4.15"/><circle cx="1452.5" cy="279.9" r="4.15"/><circle cx="1542.4" cy="259.2" r="4.15"/><circle cx="1418" cy="292" r="4.15"/><circle cx="1521.7" cy="297.8" r="4.15"/><circle cx="1480.2" cy="312.4" r="4.15"/><circle cx="1411" cy="317.3" r="4.15"/><circle cx="1418" cy="319.1" r="4.15"/><circle cx="1418" cy="322.7" r="4.15"/><circle cx="1445.6" cy="326.9" r="4.15"/><circle cx="1404.1" cy="330.9" r="4.15"/><circle cx="1418" cy="330.9" r="4.15"/><circle cx="1549.3" cy="327.2" r="4.15"/><circle cx="1556.2" cy="327.6" r="4.15"/><circle cx="1507.8" cy="338.1" r="4.15"/><circle cx="1418" cy="344.4" r="4.15"/><circle cx="1431.8" cy="345.3" r="4.15"/><circle cx="1473.3" cy="344.9" r="4.15"/><circle cx="1452.5" cy="339.9" r="4.15"/><circle cx="1452.5" cy="346.2" r="4.15"/><circle cx="1445.6" cy="354.3" r="4.15"/><circle cx="1452.5" cy="355.2" r="4.15"/><circle cx="1411" cy="366.1" r="4.15"/><circle cx="1418" cy="366.1" r="4.15"/><circle cx="1521.7" cy="357.9" r="4.15"/><circle cx="1659.9" cy="365.5" r="4.15"/><circle cx="1480.2" cy="367.9" r="4.15"/><circle cx="1487.1" cy="372.4" r="4.15"/><circle cx="1494" cy="378.7" r="4.15"/><circle cx="1528.6" cy="373.3" r="4.15"/><circle cx="1418" cy="378.7" r="4.15"/><circle cx="1438.7" cy="382.3" r="4.15"/><circle cx="1452.5" cy="377.8" r="4.15"/><circle cx="1452.5" cy="383.2" r="4.15"/><circle cx="1452.5" cy="388.6" r="4.15"/><circle cx="1411" cy="388.6" r="4.15"/><circle cx="1418" cy="390.5" r="4.15"/><circle cx="1431.8" cy="386.8" r="4.15"/><circle cx="1424.9" cy="399.5" r="4.15"/><circle cx="1487.1" cy="399.5" r="4.15"/><circle cx="1542.4" cy="398" r="4.15"/><circle cx="1411" cy="408.5" r="4.15"/><circle cx="1418" cy="407.6" r="4.15"/><circle cx="1445.6" cy="410.7" r="4.15"/><circle cx="1438.7" cy="415.4" r="4.15"/><circle cx="1418" cy="417.9" r="4.15"/><circle cx="1424.9" cy="416.6" r="4.15"/><circle cx="1528.6" cy="414.8" r="4.15"/><circle cx="1404.1" cy="428.4" r="4.15"/><circle cx="1424.9" cy="425.7" r="4.15"/><circle cx="1418" cy="440.1" r="4.15"/><circle cx="1411" cy="449.1" r="4.15"/><circle cx="1452.5" cy="446" r="4.15"/><circle cx="1452.5" cy="448.8" r="4.15"/><circle cx="1445.6" cy="450.6" r="4.15"/><circle cx="1487.1" cy="443" r="4.15"/><circle cx="1507.8" cy="451.8" r="4.15"/><circle cx="1452.5" cy="484" r="4.15"/><circle cx="1404.1" cy="468.6" r="4.15"/><circle cx="1452.5" cy="401.4" r="4.15"/><circle cx="1487.1" cy="400" r="4.15"/><circle cx="1736" cy="382.5" r="4.15"/>
</g>
<path class="bd" d="M1106.9 433.6 L1122.6 430.6 L1138.3 427.7 L1154.1 424.7 L1169.8 421.7 L1185.5 418.7 L1201.2 415.7 L1217 412.7 L1232.7 409.6 L1248.4 406.5 L1264.1 403.3 L1279.9 400 L1295.6 396.6 L1311.3 393.2 L1327 389.6 L1342.8 385.9 L1358.5 382.1 L1374.2 378.3 L1390 374.4 L1405.7 370.5 L1421.4 366.5 L1437.1 362.5 L1452.9 358.5 L1468.6 354.5 L1484.3 350.4 L1500 346.4 L1515.8 342.3 L1531.5 338.2 L1547.2 334.2 L1563 330.1 L1578.7 326 L1594.4 322 L1610.1 317.9 L1625.9 313.8 L1641.6 309.7 L1657.3 305.6 L1673 301.5 L1688.8 297.4 L1704.5 293.4 L1720.2 289.3 L1736 285.2 L1736 318.8 L1720.2 321.7 L1704.5 324.6 L1688.8 327.5 L1673 330.4 L1657.3 333.3 L1641.6 336.3 L1625.9 339.2 L1610.1 342.1 L1594.4 345 L1578.7 347.9 L1563 350.9 L1547.2 353.8 L1531.5 356.7 L1515.8 359.7 L1500 362.6 L1484.3 365.6 L1468.6 368.5 L1452.9 371.5 L1437.1 374.5 L1421.4 377.5 L1405.7 380.5 L1390 383.6 L1374.2 386.7 L1358.5 389.8 L1342.8 393.1 L1327 396.4 L1311.3 399.8 L1295.6 403.3 L1279.9 407 L1264.1 410.7 L1248.4 414.5 L1232.7 418.4 L1217 422.3 L1201.2 426.2 L1185.5 430.2 L1169.8 434.2 L1154.1 438.3 L1138.3 442.3 L1122.6 446.3 L1106.9 450.4 Z"/>
<line class="ln" x1="1106.9" y1="442" x2="1736" y2="302"/>
<rect class="fr" x="1039.5" y="92.4" width="724.5" height="483.6"/>
<path class="t" d="M1176 578.1 v18.5 M1176 94.5 v18.5 M1348.8 578.1 v18.5 M1348.8 94.5 v18.5 M1521.7 578.1 v18.5 M1521.7 94.5 v18.5 M1694.5 578.1 v18.5 M1694.5 94.5 v18.5 M1089.6 578.1 v9.3 M1089.6 94.5 v9.3 M1262.4 578.1 v9.3 M1262.4 94.5 v9.3 M1435.2 578.1 v9.3 M1435.2 94.5 v9.3 M1608.1 578.1 v9.3 M1608.1 94.5 v9.3 M1037.4 515.2 h-18.5 M1761.9 515.2 h-18.5 M1037.4 394.4 h-18.5 M1761.9 394.4 h-18.5 M1037.4 273.6 h-18.5 M1761.9 273.6 h-18.5 M1037.4 152.9 h-18.5 M1761.9 152.9 h-18.5"/>
<text class="tk" text-anchor="middle" x="1175.2" y="632">50</text>
<text class="tk" text-anchor="middle" x="1348" y="632">75</text>
<text class="tk" text-anchor="middle" x="1520.9" y="632">100</text>
<text class="tk" text-anchor="middle" x="1693.7" y="632">125</text>
<text class="tk" text-anchor="end" x="1012" y="525.9">20</text>
<text class="tk" text-anchor="end" x="1012" y="405.1">40</text>
<text class="tk" text-anchor="end" x="1012" y="284.2">60</text>
<text class="tk" text-anchor="end" x="1012" y="163.5">80</text>
<text class="an" x="1108.8" y="181.7" textLength="596.5" lengthAdjust="spacing">R=0.369, p&lt;0.0001, Y = 0.2562*X + 21.88</text>
<text class="ti" text-anchor="middle" textLength="356.7" lengthAdjust="spacing" x="1434.4" y="33.9">Men, Non-dominant</text>
<text class="lt" x="918.6" y="29.9">B</text>
<text class="ax" text-anchor="middle" x="1401.6" y="690.6">Weight/Kg</text>
<text class="ax" text-anchor="middle" textLength="284" lengthAdjust="spacing" transform="translate(957 334.3) rotate(-90)">Grip Strength/Kg</text>
</g>
<g id="panelC">
<g class="p">
<circle cx="172.5" cy="1101.4" r="4.15"/><circle cx="172.5" cy="1128.4" r="4.15"/><circle cx="187" cy="1105.9" r="4.15"/><circle cx="187" cy="1123" r="4.15"/><circle cx="201.5" cy="1089.6" r="4.15"/><circle cx="215.9" cy="1064.3" r="4.15"/><circle cx="215.9" cy="1081.5" r="4.15"/><circle cx="230.4" cy="1064.3" r="4.15"/><circle cx="230.4" cy="1078.8" r="4.15"/><circle cx="230.4" cy="1082.4" r="4.15"/><circle cx="230.4" cy="1097.7" r="4.15"/><circle cx="237.6" cy="1069.8" r="4.15"/><circle cx="244.8" cy="1036.3" r="4.15"/><circle cx="244.8" cy="1068.8" r="4.15"/><circle cx="244.8" cy="1088.7" r="4.15"/><circle cx="244.8" cy="1094.1" r="4.15"/><circle cx="244.8" cy="1099.5" r="4.15"/><circle cx="244.8" cy="1107.7" r="4.15"/><circle cx="244.8" cy="1128.4" r="4.15"/><circle cx="259.3" cy="1004.4" r="4.15"/><circle cx="259.3" cy="1028.2" r="4.15"/><circle cx="259.3" cy="1053.5" r="4.15"/><circle cx="259.3" cy="1077.9" r="4.15"/><circle cx="259.3" cy="1082.4" r="4.15"/><circle cx="259.3" cy="1085.1" r="4.15"/><circle cx="259.3" cy="1107.7" r="4.15"/><circle cx="263.6" cy="1038.1" r="4.15"/><circle cx="263.6" cy="1084.2" r="4.15"/><circle cx="263.6" cy="1100.5" r="4.15"/><circle cx="273.8" cy="942.8" r="4.15"/><circle cx="273.8" cy="1013.8" r="4.15"/><circle cx="273.8" cy="1018.3" r="4.15"/><circle cx="273.8" cy="1042.7" r="4.15"/><circle cx="273.8" cy="1059.8" r="4.15"/><circle cx="273.8" cy="1072.5" r="4.15"/><circle cx="273.8" cy="1101.4" r="4.15"/><circle cx="273.8" cy="1105" r="4.15"/><circle cx="273.8" cy="1123.9" r="4.15"/><circle cx="281" cy="1086" r="4.15"/><circle cx="288.2" cy="1049.9" r="4.15"/><circle cx="288.2" cy="1063.4" r="4.15"/><circle cx="288.2" cy="1077.9" r="4.15"/><circle cx="288.2" cy="1086.9" r="4.15"/><circle cx="288.2" cy="1100.5" r="4.15"/><circle cx="288.2" cy="1128.4" r="4.15"/><circle cx="294" cy="1044.5" r="4.15"/><circle cx="294" cy="1048.1" r="4.15"/><circle cx="294" cy="1100.5" r="4.15"/><circle cx="302.7" cy="966.8" r="4.15"/><circle cx="302.7" cy="1053.5" r="4.15"/><circle cx="302.7" cy="1063.4" r="4.15"/><circle cx="302.7" cy="1067.9" r="4.15"/><circle cx="302.7" cy="1071.6" r="4.15"/><circle cx="302.7" cy="1076.1" r="4.15"/><circle cx="302.7" cy="1089.6" r="4.15"/><circle cx="302.7" cy="1092.3" r="4.15"/><circle cx="302.7" cy="1095" r="4.15"/><circle cx="302.7" cy="1098.6" r="4.15"/><circle cx="302.7" cy="1122.1" r="4.15"/><circle cx="302.7" cy="1125.7" r="4.15"/><circle cx="302.7" cy="1129.3" r="4.15"/><circle cx="309.9" cy="1087.8" r="4.15"/><circle cx="317.1" cy="1007.8" r="4.15"/><circle cx="317.1" cy="1019.2" r="4.15"/><circle cx="317.1" cy="1035.4" r="4.15"/><circle cx="317.1" cy="1046.3" r="4.15"/><circle cx="317.1" cy="1053.5" r="4.15"/><circle cx="317.1" cy="1057.1" r="4.15"/><circle cx="317.1" cy="1079.7" r="4.15"/><circle cx="317.1" cy="1119.4" r="4.15"/><circle cx="317.1" cy="1123" r="4.15"/><circle cx="322.9" cy="1057.1" r="4.15"/><circle cx="322.9" cy="1080.6" r="4.15"/><circle cx="331.6" cy="994.8" r="4.15"/><circle cx="331.6" cy="1000.2" r="4.15"/><circle cx="331.6" cy="1020.1" r="4.15"/><circle cx="331.6" cy="1024.6" r="4.15"/><circle cx="331.6" cy="1030" r="4.15"/><circle cx="331.6" cy="1035.4" r="4.15"/><circle cx="331.6" cy="1040.9" r="4.15"/><circle cx="331.6" cy="1046.3" r="4.15"/><circle cx="331.6" cy="1057.1" r="4.15"/><circle cx="331.6" cy="1062.5" r="4.15"/><circle cx="331.6" cy="1069.8" r="4.15"/><circle cx="331.6" cy="1082.4" r="4.15"/><circle cx="331.6" cy="1087.8" r="4.15"/><circle cx="331.6" cy="1091.4" r="4.15"/><circle cx="331.6" cy="1109.5" r="4.15"/><circle cx="331.6" cy="1116.7" r="4.15"/><circle cx="331.6" cy="1122.1" r="4.15"/><circle cx="331.6" cy="1127.5" r="4.15"/><circle cx="346.1" cy="1006.5" r="4.15"/><circle cx="346.1" cy="1010.2" r="4.15"/><circle cx="346.1" cy="1023.7" r="4.15"/><circle cx="346.1" cy="1031.8" r="4.15"/><circle cx="346.1" cy="1043.6" r="4.15"/><circle cx="346.1" cy="1047.2" r="4.15"/><circle cx="346.1" cy="1069.8" r="4.15"/><circle cx="346.1" cy="1089.6" r="4.15"/><circle cx="346.1" cy="1107.7" r="4.15"/><circle cx="346.1" cy="1125.7" r="4.15"/><circle cx="353.3" cy="1066.1" r="4.15"/><circle cx="360.5" cy="990.3" r="4.15"/><circle cx="360.5" cy="1000.2" r="4.15"/><circle cx="360.5" cy="1024.6" r="4.15"/><circle cx="360.5" cy="1032.7" r="4.15"/><circle cx="360.5" cy="1043.6" r="4.15"/><circle cx="360.5" cy="1053.5" r="4.15"/><circle cx="360.5" cy="1058.9" r="4.15"/><circle cx="360.5" cy="1066.1" r="4.15"/><circle cx="360.5" cy="1073.4" r="4.15"/><circle cx="360.5" cy="1080.6" r="4.15"/><circle cx="360.5" cy="1086" r="4.15"/><circle cx="360.5" cy="1110.4" r="4.15"/><circle cx="360.5" cy="1119.4" r="4.15"/><circle cx="375" cy="1010.2" r="4.15"/><circle cx="375" cy="1030" r="4.15"/><circle cx="375" cy="1033.6" r="4.15"/><circle cx="375" cy="1044.5" r="4.15"/><circle cx="375" cy="1073.4" r="4.15"/><circle cx="375" cy="1078.8" r="4.15"/><circle cx="375" cy="1084.2" r="4.15"/><circle cx="375" cy="1109.5" r="4.15"/><circle cx="375" cy="1114.9" r="4.15"/><circle cx="375" cy="1122.1" r="4.15"/><circle cx="380.8" cy="1032.7" r="4.15"/><circle cx="380.8" cy="1061.6" r="4.15"/><circle cx="380.8" cy="1118.5" r="4.15"/><circle cx="389.4" cy="926.2" r="4.15"/><circle cx="389.4" cy="993" r="4.15"/><circle cx="389.4" cy="998.4" r="4.15"/><circle cx="389.4" cy="1017.4" r="4.15"/><circle cx="389.4" cy="1022.8" r="4.15"/><circle cx="389.4" cy="1033.6" r="4.15"/><circle cx="389.4" cy="1039.1" r="4.15"/><circle cx="389.4" cy="1046.3" r="4.15"/><circle cx="389.4" cy="1055.3" r="4.15"/><circle cx="389.4" cy="1060.7" r="4.15"/><circle cx="389.4" cy="1067.9" r="4.15"/><circle cx="389.4" cy="1073.4" r="4.15"/><circle cx="389.4" cy="1078.8" r="4.15"/><circle cx="389.4" cy="1098.6" r="4.15"/><circle cx="389.4" cy="1107.7" r="4.15"/><circle cx="389.4" cy="1112.2" r="4.15"/><circle cx="403.9" cy="976.2" r="4.15"/><circle cx="403.9" cy="988.5" r="4.15"/><circle cx="403.9" cy="992.1" r="4.15"/><circle cx="403.9" cy="1014.7" r="4.15"/><circle cx="403.9" cy="1024.6" r="4.15"/><circle cx="403.9" cy="1029.1" r="4.15"/><circle cx="403.9" cy="1044.5" r="4.15"/><circle cx="403.9" cy="1057.1" r="4.15"/><circle cx="403.9" cy="1064.3" r="4.15"/><circle cx="403.9" cy="1071.6" r="4.15"/><circle cx="403.9" cy="1077.9" r="4.15"/><circle cx="403.9" cy="1095" r="4.15"/><circle cx="403.9" cy="1098.6" r="4.15"/><circle cx="403.9" cy="1102.3" r="4.15"/><circle cx="403.9" cy="1105.9" r="4.15"/><circle cx="403.9" cy="1109.5" r="4.15"/><circle cx="403.9" cy="1113.1" r="4.15"/><circle cx="403.9" cy="1120.3" r="4.15"/><circle cx="403.9" cy="1127.5" r="4.15"/><circle cx="418.4" cy="993.9" r="4.15"/><circle cx="418.4" cy="1003.8" r="4.15"/><circle cx="418.4" cy="1008.4" r="4.15"/><circle cx="418.4" cy="1019.2" r="4.15"/><circle cx="418.4" cy="1024.6" r="4.15"/><circle cx="418.4" cy="1030" r="4.15"/><circle cx="418.4" cy="1055.3" r="4.15"/><circle cx="418.4" cy="1062.5" r="4.15"/><circle cx="418.4" cy="1075.2" r="4.15"/><circle cx="418.4" cy="1091.4" r="4.15"/><circle cx="418.4" cy="1100.5" r="4.15"/><circle cx="432.8" cy="942.8" r="4.15"/><circle cx="432.8" cy="968.6" r="4.15"/><circle cx="432.8" cy="972.2" r="4.15"/><circle cx="432.8" cy="1002.9" r="4.15"/><circle cx="432.8" cy="1015.6" r="4.15"/><circle cx="432.8" cy="1025.5" r="4.15"/><circle cx="432.8" cy="1055.3" r="4.15"/><circle cx="432.8" cy="1069.8" r="4.15"/><circle cx="432.8" cy="1093.2" r="4.15"/><circle cx="432.8" cy="1098.6" r="4.15"/><circle cx="432.8" cy="1104.1" r="4.15"/><circle cx="432.8" cy="1110.4" r="4.15"/><circle cx="440.1" cy="1042.7" r="4.15"/><circle cx="440.1" cy="1064.3" r="4.15"/><circle cx="440.1" cy="1091.4" r="4.15"/><circle cx="447.3" cy="988.5" r="4.15"/><circle cx="447.3" cy="993" r="4.15"/><circle cx="447.3" cy="1013.8" r="4.15"/><circle cx="447.3" cy="1029.1" r="4.15"/><circle cx="447.3" cy="1039.1" r="4.15"/><circle cx="447.3" cy="1043.6" r="4.15"/><circle cx="447.3" cy="1048.1" r="4.15"/><circle cx="447.3" cy="1067.9" r="4.15"/><circle cx="447.3" cy="1095" r="4.15"/><circle cx="447.3" cy="1105.9" r="4.15"/><circle cx="453.1" cy="1010.2" r="4.15"/><circle cx="461.7" cy="1010.2" r="4.15"/><circle cx="461.7" cy="1054.4" r="4.15"/><circle cx="461.7" cy="1065.2" r="4.15"/><circle cx="461.7" cy="1107.7" r="4.15"/><circle cx="172.5" cy="1171.9" r="4.15"/><circle cx="187" cy="1166.1" r="4.15"/><circle cx="187" cy="1186.3" r="4.15"/><circle cx="187" cy="1199.2" r="4.15"/><circle cx="194.2" cy="1157.1" r="4.15"/><circle cx="201.5" cy="1138.1" r="4.15"/><circle cx="201.5" cy="1159.8" r="4.15"/><circle cx="201.5" cy="1204.9" r="4.15"/><circle cx="215.9" cy="1137.2" r="4.15"/><circle cx="215.9" cy="1158" r="4.15"/><circle cx="215.9" cy="1163.4" r="4.15"/><circle cx="215.9" cy="1176" r="4.15"/><circle cx="215.9" cy="1186.3" r="4.15"/><circle cx="221.7" cy="1164.3" r="4.15"/><circle cx="230.4" cy="1134.5" r="4.15"/><circle cx="230.4" cy="1137.2" r="4.15"/><circle cx="230.4" cy="1179.7" r="4.15"/><circle cx="237.6" cy="1158" r="4.15"/><circle cx="244.8" cy="1130" r="4.15"/><circle cx="244.8" cy="1144.4" r="4.15"/><circle cx="244.8" cy="1148.1" r="4.15"/><circle cx="244.8" cy="1151.7" r="4.15"/><circle cx="244.8" cy="1155.3" r="4.15"/><circle cx="244.8" cy="1158.9" r="4.15"/><circle cx="244.8" cy="1163.4" r="4.15"/><circle cx="244.8" cy="1176" r="4.15"/><circle cx="244.8" cy="1179.7" r="4.15"/><circle cx="259.3" cy="1135.4" r="4.15"/><circle cx="259.3" cy="1139" r="4.15"/><circle cx="259.3" cy="1142.6" r="4.15"/><circle cx="259.3" cy="1152.6" r="4.15"/><circle cx="259.3" cy="1157.1" r="4.15"/><circle cx="259.3" cy="1161.6" r="4.15"/><circle cx="259.3" cy="1178.8" r="4.15"/><circle cx="259.3" cy="1183.3" r="4.15"/><circle cx="259.3" cy="1194.1" r="4.15"/><circle cx="259.3" cy="1223.5" r="4.15"/><circle cx="266.5" cy="1212.7" r="4.15"/><circle cx="273.8" cy="1136.3" r="4.15"/><circle cx="273.8" cy="1139.9" r="4.15"/><circle cx="273.8" cy="1171.9" r="4.15"/><circle cx="273.8" cy="1186" r="4.15"/><circle cx="273.8" cy="1190.5" r="4.15"/><circle cx="273.8" cy="1195.9" r="4.15"/><circle cx="273.8" cy="1213.4" r="4.15"/><circle cx="273.8" cy="1227" r="4.15"/><circle cx="281" cy="1160.3" r="4.15"/><circle cx="288.2" cy="1133.6" r="4.15"/><circle cx="288.2" cy="1138.1" r="4.15"/><circle cx="288.2" cy="1142.6" r="4.15"/><circle cx="288.2" cy="1148.1" r="4.15"/><circle cx="288.2" cy="1153.5" r="4.15"/><circle cx="288.2" cy="1175.1" r="4.15"/><circle cx="288.2" cy="1181.5" r="4.15"/><circle cx="288.2" cy="1187.8" r="4.15"/><circle cx="302.7" cy="1131.8" r="4.15"/><circle cx="302.7" cy="1139" r="4.15"/><circle cx="302.7" cy="1148.1" r="4.15"/><circle cx="302.7" cy="1166.1" r="4.15"/><circle cx="302.7" cy="1171.5" r="4.15"/><circle cx="302.7" cy="1214" r="4.15"/><circle cx="317.1" cy="1139.9" r="4.15"/><circle cx="317.1" cy="1142.6" r="4.15"/><circle cx="317.1" cy="1158" r="4.15"/><circle cx="317.1" cy="1186.9" r="4.15"/><circle cx="317.1" cy="1193.2" r="4.15"/><circle cx="317.1" cy="1211.3" r="4.15"/><circle cx="313.5" cy="1158" r="4.15"/><circle cx="331.6" cy="1131.8" r="4.15"/><circle cx="331.6" cy="1138.1" r="4.15"/><circle cx="331.6" cy="1161.6" r="4.15"/><circle cx="331.6" cy="1173.3" r="4.15"/><circle cx="331.6" cy="1182.4" r="4.15"/><circle cx="331.6" cy="1192.3" r="4.15"/><circle cx="331.6" cy="1194.1" r="4.15"/><circle cx="331.6" cy="1232.9" r="4.15"/><circle cx="341.7" cy="1137.2" r="4.15"/><circle cx="346.1" cy="1139.9" r="4.15"/><circle cx="346.1" cy="1154.4" r="4.15"/><circle cx="346.1" cy="1161.6" r="4.15"/><circle cx="346.1" cy="1164.3" r="4.15"/><circle cx="346.1" cy="1177.9" r="4.15"/><circle cx="346.1" cy="1199" r="4.15"/><circle cx="346.1" cy="1217.2" r="4.15"/><circle cx="360.5" cy="1133.6" r="4.15"/><circle cx="360.5" cy="1139" r="4.15"/><circle cx="360.5" cy="1143.5" r="4.15"/><circle cx="360.5" cy="1152.6" r="4.15"/><circle cx="360.5" cy="1176" r="4.15"/><circle cx="360.5" cy="1187.8" r="4.15"/><circle cx="360.5" cy="1198.6" r="4.15"/><circle cx="360.5" cy="1213.4" r="4.15"/><circle cx="367.8" cy="1149.9" r="4.15"/><circle cx="367.8" cy="1176" r="4.15"/><circle cx="375" cy="1137.2" r="4.15"/><circle cx="375" cy="1139" r="4.15"/><circle cx="375" cy="1146.3" r="4.15"/><circle cx="380.8" cy="1182.4" r="4.15"/><circle cx="389.4" cy="1142.6" r="4.15"/><circle cx="389.4" cy="1165.2" r="4.15"/><circle cx="389.4" cy="1194.1" r="4.15"/><circle cx="403.9" cy="1130.9" r="4.15"/><circle cx="403.9" cy="1137.2" r="4.15"/><circle cx="403.9" cy="1144.4" r="4.15"/><circle cx="403.9" cy="1155.6" r="4.15"/><circle cx="403.9" cy="1195.4" r="4.15"/><circle cx="403.9" cy="1202.2" r="4.15"/><circle cx="403.9" cy="1212.5" r="4.15"/><circle cx="418.4" cy="1184.5" r="4.15"/><circle cx="432.8" cy="1163" r="4.15"/><circle cx="432.8" cy="1177.9" r="4.15"/><circle cx="440.1" cy="1156.2" r="4.15"/><circle cx="440.1" cy="1158" r="4.15"/><circle cx="447.3" cy="1131.8" r="4.15"/><circle cx="447.3" cy="1139.9" r="4.15"/><circle cx="447.3" cy="1150.8" r="4.15"/><circle cx="447.3" cy="1158" r="4.15"/><circle cx="447.3" cy="1171.9" r="4.15"/><circle cx="461.7" cy="1135.8" r="4.15"/><circle cx="476.2" cy="962.3" r="4.15"/><circle cx="476.2" cy="984" r="4.15"/><circle cx="476.2" cy="993" r="4.15"/><circle cx="476.2" cy="1018.3" r="4.15"/><circle cx="476.2" cy="1021.9" r="4.15"/><circle cx="476.2" cy="1024.6" r="4.15"/><circle cx="476.2" cy="1027.3" r="4.15"/><circle cx="476.2" cy="1046.3" r="4.15"/><circle cx="476.2" cy="1054.4" r="4.15"/><circle cx="476.2" cy="1056.2" r="4.15"/><circle cx="476.2" cy="1086" r="4.15"/><circle cx="476.2" cy="1100.5" r="4.15"/><circle cx="476.2" cy="1104.1" r="4.15"/><circle cx="476.2" cy="1108.6" r="4.15"/><circle cx="476.2" cy="1118.5" r="4.15"/><circle cx="476.2" cy="1128.4" r="4.15"/><circle cx="476.2" cy="1135.7" r="4.15"/><circle cx="476.2" cy="1148.3" r="4.15"/><circle cx="490.7" cy="1104.1" r="4.15"/><circle cx="497.9" cy="995.7" r="4.15"/><circle cx="505.1" cy="984.5" r="4.15"/><circle cx="505.1" cy="995.7" r="4.15"/><circle cx="505.1" cy="1036.7" r="4.15"/><circle cx="505.1" cy="1058.9" r="4.15"/><circle cx="505.1" cy="1080" r="4.15"/><circle cx="505.1" cy="1109.1" r="4.15"/><circle cx="505.1" cy="1128.4" r="4.15"/><circle cx="512.4" cy="1118.5" r="4.15"/><circle cx="519.6" cy="1006.5" r="4.15"/><circle cx="519.6" cy="1011.1" r="4.15"/><circle cx="519.6" cy="1053.5" r="4.15"/><circle cx="519.6" cy="1073.4" r="4.15"/><circle cx="519.6" cy="1083.3" r="4.15"/><circle cx="519.6" cy="1088.7" r="4.15"/><circle cx="519.6" cy="1101.4" r="4.15"/><circle cx="534" cy="1047.2" r="4.15"/><circle cx="548.5" cy="1010.2" r="4.15"/><circle cx="548.5" cy="1023.7" r="4.15"/><circle cx="548.5" cy="1031.8" r="4.15"/><circle cx="548.5" cy="1034.5" r="4.15"/><circle cx="548.5" cy="1044.5" r="4.15"/><circle cx="548.5" cy="1077.9" r="4.15"/><circle cx="548.5" cy="1094.1" r="4.15"/><circle cx="548.5" cy="1099.5" r="4.15"/><circle cx="548.5" cy="1120" r="4.15"/><circle cx="557.2" cy="1092" r="4.15"/><circle cx="558.6" cy="1043.6" r="4.15"/><circle cx="563" cy="1030.4" r="4.15"/><circle cx="577.4" cy="1024.6" r="4.15"/><circle cx="577.4" cy="1033.1" r="4.15"/><circle cx="577.4" cy="1092" r="4.15"/><circle cx="591.9" cy="1025.5" r="4.15"/><circle cx="591.9" cy="1070.1" r="4.15"/><circle cx="591.9" cy="1082.4" r="4.15"/><circle cx="591.9" cy="1106.4" r="4.15"/><circle cx="591.9" cy="1123.9" r="4.15"/><circle cx="620.8" cy="999.3" r="4.15"/><circle cx="620.8" cy="1059.8" r="4.15"/><circle cx="620.8" cy="1100.5" r="4.15"/><circle cx="649.7" cy="1083.8" r="4.15"/><circle cx="664.2" cy="992.5" r="4.15"/><circle cx="693.1" cy="1040" r="4.15"/><circle cx="765.4" cy="1067.9" r="4.15"/><circle cx="765.4" cy="1095.6" r="4.15"/><circle cx="476.2" cy="1166.7" r="4.15"/><circle cx="476.2" cy="1188.3" r="4.15"/><circle cx="534" cy="1167.9" r="4.15"/><circle cx="244.8" cy="1151.7" r="4.15"/><circle cx="244.8" cy="1150.9" r="4.15"/><circle cx="244.8" cy="1102.7" r="4.15"/><circle cx="244.8" cy="1181.2" r="4.15"/><circle cx="259.3" cy="1121.2" r="4.15"/><circle cx="259.3" cy="1177.1" r="4.15"/><circle cx="259.3" cy="1088.2" r="4.15"/><circle cx="259.3" cy="1112" r="4.15"/><circle cx="259.3" cy="1081.5" r="4.15"/><circle cx="273.8" cy="1127.7" r="4.15"/><circle cx="273.8" cy="1103.8" r="4.15"/><circle cx="273.8" cy="1121.9" r="4.15"/><circle cx="273.8" cy="1133.9" r="4.15"/><circle cx="288.2" cy="1107.4" r="4.15"/><circle cx="288.2" cy="1144.5" r="4.15"/><circle cx="288.2" cy="1120.6" r="4.15"/><circle cx="288.2" cy="1092.8" r="4.15"/><circle cx="288.2" cy="1109.7" r="4.15"/><circle cx="288.2" cy="1122.1" r="4.15"/><circle cx="302.7" cy="1050.2" r="4.15"/><circle cx="302.7" cy="1106.6" r="4.15"/><circle cx="302.7" cy="1123.7" r="4.15"/><circle cx="302.7" cy="1104" r="4.15"/><circle cx="302.7" cy="1122" r="4.15"/><circle cx="302.7" cy="1118.4" r="4.15"/><circle cx="302.7" cy="1117.5" r="4.15"/><circle cx="317.1" cy="1051.5" r="4.15"/><circle cx="317.1" cy="1104.5" r="4.15"/><circle cx="317.1" cy="1100.5" r="4.15"/><circle cx="317.1" cy="1087.2" r="4.15"/><circle cx="317.1" cy="1051.7" r="4.15"/><circle cx="331.6" cy="1108" r="4.15"/><circle cx="331.6" cy="1118.6" r="4.15"/><circle cx="331.6" cy="1036.5" r="4.15"/><circle cx="331.6" cy="1140.7" r="4.15"/><circle cx="331.6" cy="1111.8" r="4.15"/><circle cx="331.6" cy="1084.4" r="4.15"/><circle cx="331.6" cy="1041.5" r="4.15"/><circle cx="331.6" cy="1127.2" r="4.15"/><circle cx="331.6" cy="1166.3" r="4.15"/><circle cx="346.1" cy="1081.4" r="4.15"/><circle cx="346.1" cy="1112.8" r="4.15"/><circle cx="346.1" cy="1109.2" r="4.15"/><circle cx="346.1" cy="1086.7" r="4.15"/><circle cx="346.1" cy="1093" r="4.15"/><circle cx="360.5" cy="1088.2" r="4.15"/><circle cx="360.5" cy="1107.3" r="4.15"/><circle cx="360.5" cy="1061.7" r="4.15"/><circle cx="360.5" cy="1056" r="4.15"/><circle cx="360.5" cy="1095" r="4.15"/><circle cx="360.5" cy="1107.9" r="4.15"/><circle cx="360.5" cy="1076.5" r="4.15"/><circle cx="375" cy="1080.2" r="4.15"/><circle cx="375" cy="1120.4" r="4.15"/><circle cx="375" cy="1105" r="4.15"/><circle cx="375" cy="1065" r="4.15"/><circle cx="375" cy="1095.4" r="4.15"/><circle cx="389.4" cy="1098.5" r="4.15"/><circle cx="389.4" cy="1084.1" r="4.15"/><circle cx="389.4" cy="1090.6" r="4.15"/><circle cx="389.4" cy="1089.8" r="4.15"/><circle cx="389.4" cy="1140.9" r="4.15"/><circle cx="403.9" cy="1040.3" r="4.15"/><circle cx="403.9" cy="1081.4" r="4.15"/><circle cx="403.9" cy="1109.9" r="4.15"/><circle cx="403.9" cy="1060.7" r="4.15"/><circle cx="403.9" cy="1078.5" r="4.15"/><circle cx="403.9" cy="1086.2" r="4.15"/><circle cx="403.9" cy="1058.9" r="4.15"/><circle cx="403.9" cy="1026.8" r="4.15"/><circle cx="418.4" cy="1068.9" r="4.15"/><circle cx="418.4" cy="1041.6" r="4.15"/><circle cx="418.4" cy="1026.5" r="4.15"/><circle cx="432.8" cy="1107.6" r="4.15"/><circle cx="432.8" cy="1094.4" r="4.15"/><circle cx="432.8" cy="1060" r="4.15"/><circle cx="447.3" cy="1122.7" r="4.15"/><circle cx="447.3" cy="1084.5" r="4.15"/><circle cx="447.3" cy="1043.2" r="4.15"/><circle cx="476.2" cy="1043.7" r="4.15"/><circle cx="476.2" cy="1056" r="4.15"/><circle cx="476.2" cy="1121.5" r="4.15"/><circle cx="476.2" cy="1009" r="4.15"/>
</g>
<path class="bd" d="M172.5 1125 L187.4 1122.4 L202.2 1119.7 L217 1117.1 L231.8 1114.4 L246.6 1111.7 L261.5 1109 L276.3 1106.2 L291.1 1103.4 L305.9 1100.5 L320.8 1097.7 L335.6 1094.7 L350.4 1091.7 L365.2 1088.6 L380 1085.5 L394.9 1082.3 L409.7 1079 L424.5 1075.7 L439.3 1072.3 L454.1 1068.8 L469 1065.3 L483.8 1061.8 L498.6 1058.2 L513.4 1054.6 L528.3 1051 L543.1 1047.4 L557.9 1043.7 L572.7 1040.1 L587.5 1036.4 L602.4 1032.7 L617.2 1029 L632 1025.2 L646.8 1021.5 L661.6 1017.8 L676.5 1014 L691.3 1010.3 L706.1 1006.5 L720.9 1002.8 L735.8 999 L750.6 995.3 L765.4 991.5 L765.4 1028.3 L750.6 1030.8 L735.8 1033.4 L720.9 1035.9 L706.1 1038.5 L691.3 1041 L676.5 1043.6 L661.6 1046.2 L646.8 1048.7 L632 1051.3 L617.2 1053.9 L602.4 1056.5 L587.5 1059.1 L572.7 1061.7 L557.9 1064.3 L543.1 1067 L528.3 1069.6 L513.4 1072.3 L498.6 1075.1 L483.8 1077.8 L469 1080.6 L454.1 1083.4 L439.3 1086.2 L424.5 1089.2 L409.7 1092.1 L394.9 1095.2 L380 1098.3 L365.2 1101.4 L350.4 1104.7 L335.6 1107.9 L320.8 1111.3 L305.9 1114.7 L291.1 1118.2 L276.3 1121.7 L261.5 1125.2 L246.6 1128.8 L231.8 1132.4 L217 1136 L202.2 1139.7 L187.4 1143.3 L172.5 1147 Z"/>
<line class="ln" x1="172.5" y1="1136" x2="765.4" y2="1009.9"/>
<rect class="fr" x="114.5" y="802.6" width="723.5" height="482.3"/>
<path class="t" d="M187 1287 v18.5 M187 804.7 v18.5 M331.6 1287 v18.5 M331.6 804.7 v18.5 M476.2 1287 v18.5 M476.2 804.7 v18.5 M620.8 1287 v18.5 M620.8 804.7 v18.5 M765.4 1287 v18.5 M765.4 804.7 v18.5 M259.3 1287 v9.3 M259.3 804.7 v9.3 M403.9 1287 v9.3 M403.9 804.7 v9.3 M548.5 1287 v9.3 M548.5 804.7 v9.3 M693.1 1287 v9.3 M693.1 804.7 v9.3 M838 1287 v9.3 M112.4 1284.9 h-18.5 M835.9 1284.9 h-18.5 M112.4 1164.3 h-18.5 M835.9 1164.3 h-18.5 M112.4 1043.8 h-18.5 M835.9 1043.8 h-18.5 M112.4 923.2 h-18.5 M835.9 923.2 h-18.5 M112.4 802.6 h-18.5 M835.9 802.6 h-18.5"/>
<text class="tk" text-anchor="middle" x="186.2" y="1340.7">40</text>
<text class="tk" text-anchor="middle" x="330.8" y="1340.7">50</text>
<text class="tk" text-anchor="middle" x="475.4" y="1340.7">60</text>
<text class="tk" text-anchor="middle" x="620" y="1340.7">70</text>
<text class="tk" text-anchor="middle" x="764.6" y="1340.7">80</text>
<text class="tk" text-anchor="end" x="89" y="1295.5">10</text>
<text class="tk" text-anchor="end" x="89" y="1174.9">20</text>
<text class="tk" text-anchor="end" x="89" y="1054.3">30</text>
<text class="tk" text-anchor="end" x="89" y="933.8">40</text>
<text class="tk" text-anchor="end" x="89" y="813.2">50</text>
<text class="an" x="168.5" y="882.4" textLength="596.5" lengthAdjust="spacing">R=0.374, p&lt;0.0001, Y = 0.2551*X + 12.40</text>
<text class="ti" text-anchor="middle" x="509.5" y="744">Women, Dominant</text>
<text class="lt" x="4.7" y="739.5">C</text>
<text class="ax" text-anchor="middle" x="478" y="1399.2">Weight/Kg</text>
<text class="ax" text-anchor="middle" textLength="284" lengthAdjust="spacing" transform="translate(33.8 1044.4) rotate(-90)">Grip Strength/Kg</text>
</g>
<g id="panelD">
<g class="p">
<circle cx="1095.8" cy="1120.7" r="4.15"/><circle cx="1110.2" cy="1127.9" r="4.15"/><circle cx="1124.7" cy="1109.8" r="4.15"/><circle cx="1124.7" cy="1124.5" r="4.15"/><circle cx="1139.2" cy="1067.6" r="4.15"/><circle cx="1139.2" cy="1079.7" r="4.15"/><circle cx="1153.6" cy="1072.8" r="4.15"/><circle cx="1153.6" cy="1093.6" r="4.15"/><circle cx="1153.6" cy="1120.7" r="4.15"/><circle cx="1160.8" cy="1117.6" r="4.15"/><circle cx="1168.1" cy="1066.7" r="4.15"/><circle cx="1168.1" cy="1087.8" r="4.15"/><circle cx="1168.1" cy="1093.2" r="4.15"/><circle cx="1168.1" cy="1105.9" r="4.15"/><circle cx="1168.1" cy="1115.8" r="4.15"/><circle cx="1173.9" cy="1114.9" r="4.15"/><circle cx="1182.5" cy="1038.1" r="4.15"/><circle cx="1182.5" cy="1040.9" r="4.15"/><circle cx="1182.5" cy="1093.6" r="4.15"/><circle cx="1182.5" cy="1117.6" r="4.15"/><circle cx="1182.5" cy="1129.3" r="4.15"/><circle cx="1188.3" cy="1104.1" r="4.15"/><circle cx="1188.3" cy="1109.5" r="4.15"/><circle cx="1197" cy="1061.3" r="4.15"/><circle cx="1197" cy="1068.8" r="4.15"/><circle cx="1197" cy="1081.5" r="4.15"/><circle cx="1197" cy="1087.8" r="4.15"/><circle cx="1197" cy="1127.2" r="4.15"/><circle cx="1201.3" cy="1059.8" r="4.15"/><circle cx="1211.4" cy="1059.8" r="4.15"/><circle cx="1211.4" cy="1074.3" r="4.15"/><circle cx="1211.4" cy="1083.3" r="4.15"/><circle cx="1211.4" cy="1093.2" r="4.15"/><circle cx="1211.4" cy="1102.3" r="4.15"/><circle cx="1211.4" cy="1117.6" r="4.15"/><circle cx="1211.4" cy="1119.4" r="4.15"/><circle cx="1211.4" cy="1123" r="4.15"/><circle cx="1218.7" cy="1043.9" r="4.15"/><circle cx="1218.7" cy="1067" r="4.15"/><circle cx="1218.7" cy="1100.5" r="4.15"/><circle cx="1218.7" cy="1109.5" r="4.15"/><circle cx="1225.9" cy="1014.1" r="4.15"/><circle cx="1225.9" cy="1079.7" r="4.15"/><circle cx="1225.9" cy="1089.6" r="4.15"/><circle cx="1225.9" cy="1094.1" r="4.15"/><circle cx="1225.9" cy="1105" r="4.15"/><circle cx="1225.9" cy="1114.9" r="4.15"/><circle cx="1225.9" cy="1118.5" r="4.15"/><circle cx="1225.9" cy="1122.1" r="4.15"/><circle cx="1233.1" cy="1087.8" r="4.15"/><circle cx="1240.4" cy="1053.5" r="4.15"/><circle cx="1240.4" cy="1071.6" r="4.15"/><circle cx="1240.4" cy="1076.1" r="4.15"/><circle cx="1240.4" cy="1084.2" r="4.15"/><circle cx="1240.4" cy="1091.4" r="4.15"/><circle cx="1240.4" cy="1117.6" r="4.15"/><circle cx="1240.4" cy="1119.4" r="4.15"/><circle cx="1243.2" cy="1101.4" r="4.15"/><circle cx="1247.6" cy="1045.9" r="4.15"/><circle cx="1254.8" cy="1019.7" r="4.15"/><circle cx="1254.8" cy="1040" r="4.15"/><circle cx="1254.8" cy="1057.1" r="4.15"/><circle cx="1254.8" cy="1063.4" r="4.15"/><circle cx="1254.8" cy="1069.8" r="4.15"/><circle cx="1254.8" cy="1077" r="4.15"/><circle cx="1254.8" cy="1083.3" r="4.15"/><circle cx="1254.8" cy="1089.6" r="4.15"/><circle cx="1254.8" cy="1095.9" r="4.15"/><circle cx="1254.8" cy="1103.2" r="4.15"/><circle cx="1254.8" cy="1116.7" r="4.15"/><circle cx="1262" cy="1107.7" r="4.15"/><circle cx="1269.3" cy="998.4" r="4.15"/><circle cx="1269.3" cy="1019.7" r="4.15"/><circle cx="1269.3" cy="1042.7" r="4.15"/><circle cx="1269.3" cy="1053.5" r="4.15"/><circle cx="1269.3" cy="1066.1" r="4.15"/><circle cx="1269.3" cy="1071.6" r="4.15"/><circle cx="1269.3" cy="1082.4" r="4.15"/><circle cx="1269.3" cy="1088.7" r="4.15"/><circle cx="1269.3" cy="1095" r="4.15"/><circle cx="1269.3" cy="1105.9" r="4.15"/><circle cx="1276.5" cy="1084.2" r="4.15"/><circle cx="1283.7" cy="1030" r="4.15"/><circle cx="1283.7" cy="1043.9" r="4.15"/><circle cx="1283.7" cy="1063.4" r="4.15"/><circle cx="1283.7" cy="1067" r="4.15"/><circle cx="1283.7" cy="1071.6" r="4.15"/><circle cx="1283.7" cy="1090.5" r="4.15"/><circle cx="1283.7" cy="1096.8" r="4.15"/><circle cx="1283.7" cy="1104.1" r="4.15"/><circle cx="1283.7" cy="1109.5" r="4.15"/><circle cx="1283.7" cy="1128.4" r="4.15"/><circle cx="1298.2" cy="988.5" r="4.15"/><circle cx="1298.2" cy="995.7" r="4.15"/><circle cx="1298.2" cy="1062.5" r="4.15"/><circle cx="1298.2" cy="1067.9" r="4.15"/><circle cx="1298.2" cy="1076.1" r="4.15"/><circle cx="1298.2" cy="1082.4" r="4.15"/><circle cx="1298.2" cy="1087.8" r="4.15"/><circle cx="1298.2" cy="1123.9" r="4.15"/><circle cx="1305.4" cy="1052.6" r="4.15"/><circle cx="1312.6" cy="993" r="4.15"/><circle cx="1312.6" cy="998.4" r="4.15"/><circle cx="1312.6" cy="1007.4" r="4.15"/><circle cx="1312.6" cy="1030" r="4.15"/><circle cx="1312.6" cy="1042.7" r="4.15"/><circle cx="1312.6" cy="1053.5" r="4.15"/><circle cx="1312.6" cy="1059.8" r="4.15"/><circle cx="1312.6" cy="1071.6" r="4.15"/><circle cx="1312.6" cy="1077.9" r="4.15"/><circle cx="1312.6" cy="1084.2" r="4.15"/><circle cx="1312.6" cy="1093.2" r="4.15"/><circle cx="1312.6" cy="1095.9" r="4.15"/><circle cx="1312.6" cy="1098.6" r="4.15"/><circle cx="1312.6" cy="1119.4" r="4.15"/><circle cx="1309.7" cy="1097.7" r="4.15"/><circle cx="1327.1" cy="1016.5" r="4.15"/><circle cx="1327.1" cy="1033.6" r="4.15"/><circle cx="1327.1" cy="1055.3" r="4.15"/><circle cx="1327.1" cy="1062.5" r="4.15"/><circle cx="1327.1" cy="1078.8" r="4.15"/><circle cx="1327.1" cy="1084.2" r="4.15"/><circle cx="1327.1" cy="1095" r="4.15"/><circle cx="1327.1" cy="1100.5" r="4.15"/><circle cx="1327.1" cy="1123.9" r="4.15"/><circle cx="1327.1" cy="1129.3" r="4.15"/><circle cx="1334.3" cy="1047.2" r="4.15"/><circle cx="1341.5" cy="1024.2" r="4.15"/><circle cx="1341.5" cy="1043.6" r="4.15"/><circle cx="1341.5" cy="1048.1" r="4.15"/><circle cx="1341.5" cy="1055.3" r="4.15"/><circle cx="1341.5" cy="1080.6" r="4.15"/><circle cx="1341.5" cy="1086" r="4.15"/><circle cx="1341.5" cy="1095.9" r="4.15"/><circle cx="1341.5" cy="1115.8" r="4.15"/><circle cx="1348.8" cy="1055.7" r="4.15"/><circle cx="1356" cy="956.3" r="4.15"/><circle cx="1356" cy="986.3" r="4.15"/><circle cx="1356" cy="1024.6" r="4.15"/><circle cx="1356" cy="1066.1" r="4.15"/><circle cx="1356" cy="1071.6" r="4.15"/><circle cx="1356" cy="1076.1" r="4.15"/><circle cx="1356" cy="1088.7" r="4.15"/><circle cx="1356" cy="1113.1" r="4.15"/><circle cx="1363.2" cy="1039.1" r="4.15"/><circle cx="1363.2" cy="1096.8" r="4.15"/><circle cx="1363.2" cy="1114.9" r="4.15"/><circle cx="1370.5" cy="1035.4" r="4.15"/><circle cx="1370.5" cy="1042.7" r="4.15"/><circle cx="1370.5" cy="1049.9" r="4.15"/><circle cx="1370.5" cy="1080.2" r="4.15"/><circle cx="1370.5" cy="1090.5" r="4.15"/><circle cx="1370.5" cy="1111.3" r="4.15"/><circle cx="1370.5" cy="1116.7" r="4.15"/><circle cx="1370.5" cy="1125.7" r="4.15"/><circle cx="1376.2" cy="1019.7" r="4.15"/><circle cx="1384.9" cy="1043.9" r="4.15"/><circle cx="1384.9" cy="1109.5" r="4.15"/><circle cx="1095.8" cy="1184.2" r="4.15"/><circle cx="1095.8" cy="1192.3" r="4.15"/><circle cx="1110.2" cy="1130" r="4.15"/><circle cx="1110.2" cy="1142.6" r="4.15"/><circle cx="1110.2" cy="1168.8" r="4.15"/><circle cx="1110.2" cy="1220.3" r="4.15"/><circle cx="1110.2" cy="1223.9" r="4.15"/><circle cx="1117.5" cy="1176" r="4.15"/><circle cx="1124.7" cy="1145.3" r="4.15"/><circle cx="1124.7" cy="1204.9" r="4.15"/><circle cx="1139.2" cy="1166.1" r="4.15"/><circle cx="1139.2" cy="1188.7" r="4.15"/><circle cx="1139.2" cy="1193.2" r="4.15"/><circle cx="1139.2" cy="1198.6" r="4.15"/><circle cx="1146.4" cy="1137.2" r="4.15"/><circle cx="1146.4" cy="1163.4" r="4.15"/><circle cx="1153.6" cy="1132.7" r="4.15"/><circle cx="1153.6" cy="1157.1" r="4.15"/><circle cx="1153.6" cy="1170.1" r="4.15"/><circle cx="1168.1" cy="1134.5" r="4.15"/><circle cx="1168.1" cy="1138.1" r="4.15"/><circle cx="1168.1" cy="1158.9" r="4.15"/><circle cx="1168.1" cy="1163.4" r="4.15"/><circle cx="1168.1" cy="1167" r="4.15"/><circle cx="1168.1" cy="1182.4" r="4.15"/><circle cx="1168.1" cy="1194.1" r="4.15"/><circle cx="1168.1" cy="1198.6" r="4.15"/><circle cx="1168.1" cy="1222.5" r="4.15"/><circle cx="1182.5" cy="1131.8" r="4.15"/><circle cx="1182.5" cy="1152.6" r="4.15"/><circle cx="1182.5" cy="1156.2" r="4.15"/><circle cx="1182.5" cy="1159.8" r="4.15"/><circle cx="1182.5" cy="1168.8" r="4.15"/><circle cx="1182.5" cy="1174.2" r="4.15"/><circle cx="1182.5" cy="1178.8" r="4.15"/><circle cx="1182.5" cy="1184.2" r="4.15"/><circle cx="1182.5" cy="1190.5" r="4.15"/><circle cx="1182.5" cy="1204" r="4.15"/><circle cx="1182.5" cy="1208.6" r="4.15"/><circle cx="1182.5" cy="1234.7" r="4.15"/><circle cx="1189.8" cy="1234.7" r="4.15"/><circle cx="1197" cy="1148.1" r="4.15"/><circle cx="1197" cy="1153.5" r="4.15"/><circle cx="1197" cy="1163.4" r="4.15"/><circle cx="1197" cy="1171.5" r="4.15"/><circle cx="1197" cy="1177" r="4.15"/><circle cx="1197" cy="1204" r="4.15"/><circle cx="1197" cy="1208.6" r="4.15"/><circle cx="1197" cy="1213.1" r="4.15"/><circle cx="1197" cy="1230.2" r="4.15"/><circle cx="1197" cy="1265.4" r="4.15"/><circle cx="1201.3" cy="1161.6" r="4.15"/><circle cx="1211.4" cy="1144.4" r="4.15"/><circle cx="1211.4" cy="1149" r="4.15"/><circle cx="1211.4" cy="1162.5" r="4.15"/><circle cx="1211.4" cy="1167" r="4.15"/><circle cx="1211.4" cy="1177.9" r="4.15"/><circle cx="1211.4" cy="1183.3" r="4.15"/><circle cx="1211.4" cy="1208.6" r="4.15"/><circle cx="1215.8" cy="1167" r="4.15"/><circle cx="1225.9" cy="1140.8" r="4.15"/><circle cx="1225.9" cy="1145.3" r="4.15"/><circle cx="1225.9" cy="1149.9" r="4.15"/><circle cx="1225.9" cy="1154.4" r="4.15"/><circle cx="1225.9" cy="1158.9" r="4.15"/><circle cx="1225.9" cy="1163.4" r="4.15"/><circle cx="1225.9" cy="1174.2" r="4.15"/><circle cx="1225.9" cy="1177.9" r="4.15"/><circle cx="1225.9" cy="1186.9" r="4.15"/><circle cx="1225.9" cy="1195.9" r="4.15"/><circle cx="1225.9" cy="1198.6" r="4.15"/><circle cx="1225.9" cy="1223.4" r="4.15"/><circle cx="1240.4" cy="1135.4" r="4.15"/><circle cx="1240.4" cy="1141.7" r="4.15"/><circle cx="1240.4" cy="1164.3" r="4.15"/><circle cx="1240.4" cy="1168.8" r="4.15"/><circle cx="1240.4" cy="1177.9" r="4.15"/><circle cx="1240.4" cy="1212.7" r="4.15"/><circle cx="1240.4" cy="1214.5" r="4.15"/><circle cx="1237.5" cy="1213.4" r="4.15"/><circle cx="1247.6" cy="1172.4" r="4.15"/><circle cx="1254.8" cy="1133.6" r="4.15"/><circle cx="1254.8" cy="1139" r="4.15"/><circle cx="1254.8" cy="1144.4" r="4.15"/><circle cx="1254.8" cy="1149.9" r="4.15"/><circle cx="1254.8" cy="1155.3" r="4.15"/><circle cx="1254.8" cy="1160.7" r="4.15"/><circle cx="1254.8" cy="1165.2" r="4.15"/><circle cx="1254.8" cy="1172.4" r="4.15"/><circle cx="1254.8" cy="1178.8" r="4.15"/><circle cx="1254.8" cy="1195.9" r="4.15"/><circle cx="1254.8" cy="1198.6" r="4.15"/><circle cx="1254.8" cy="1214" r="4.15"/><circle cx="1254.8" cy="1223.4" r="4.15"/><circle cx="1269.3" cy="1135.4" r="4.15"/><circle cx="1269.3" cy="1140.8" r="4.15"/><circle cx="1269.3" cy="1151.7" r="4.15"/><circle cx="1269.3" cy="1157.1" r="4.15"/><circle cx="1269.3" cy="1163.4" r="4.15"/><circle cx="1269.3" cy="1166.1" r="4.15"/><circle cx="1269.3" cy="1179.7" r="4.15"/><circle cx="1269.3" cy="1194.1" r="4.15"/><circle cx="1269.3" cy="1204" r="4.15"/><circle cx="1269.3" cy="1244.7" r="4.15"/><circle cx="1276.5" cy="1142.6" r="4.15"/><circle cx="1283.7" cy="1138.1" r="4.15"/><circle cx="1283.7" cy="1148.1" r="4.15"/><circle cx="1283.7" cy="1153.5" r="4.15"/><circle cx="1283.7" cy="1158.9" r="4.15"/><circle cx="1283.7" cy="1163.4" r="4.15"/><circle cx="1283.7" cy="1186" r="4.15"/><circle cx="1283.7" cy="1190.5" r="4.15"/><circle cx="1283.7" cy="1193.2" r="4.15"/><circle cx="1291" cy="1139" r="4.15"/><circle cx="1291" cy="1172.4" r="4.15"/><circle cx="1291" cy="1200.4" r="4.15"/><circle cx="1298.2" cy="1135.4" r="4.15"/><circle cx="1298.2" cy="1139" r="4.15"/><circle cx="1298.2" cy="1145.3" r="4.15"/><circle cx="1298.2" cy="1148.1" r="4.15"/><circle cx="1298.2" cy="1166.1" r="4.15"/><circle cx="1305.4" cy="1150.8" r="4.15"/><circle cx="1305.4" cy="1201.7" r="4.15"/><circle cx="1312.6" cy="1133.6" r="4.15"/><circle cx="1312.6" cy="1172.4" r="4.15"/><circle cx="1312.6" cy="1179.7" r="4.15"/><circle cx="1312.6" cy="1182.4" r="4.15"/><circle cx="1319.9" cy="1159.8" r="4.15"/><circle cx="1327.1" cy="1131.8" r="4.15"/><circle cx="1327.1" cy="1139" r="4.15"/><circle cx="1327.1" cy="1151.7" r="4.15"/><circle cx="1327.1" cy="1155.3" r="4.15"/><circle cx="1327.1" cy="1161.6" r="4.15"/><circle cx="1327.1" cy="1179.7" r="4.15"/><circle cx="1327.1" cy="1182.4" r="4.15"/><circle cx="1327.1" cy="1233.3" r="4.15"/><circle cx="1327.1" cy="1242.9" r="4.15"/><circle cx="1341.5" cy="1132.7" r="4.15"/><circle cx="1341.5" cy="1147.2" r="4.15"/><circle cx="1341.5" cy="1193.2" r="4.15"/><circle cx="1356" cy="1137.2" r="4.15"/><circle cx="1356" cy="1139" r="4.15"/><circle cx="1356" cy="1151.7" r="4.15"/><circle cx="1356" cy="1166.1" r="4.15"/><circle cx="1356" cy="1167.9" r="4.15"/><circle cx="1363.2" cy="1140.8" r="4.15"/><circle cx="1363.2" cy="1150.8" r="4.15"/><circle cx="1363.2" cy="1164.3" r="4.15"/><circle cx="1370.5" cy="1131.8" r="4.15"/><circle cx="1370.5" cy="1140.8" r="4.15"/><circle cx="1370.5" cy="1144.4" r="4.15"/><circle cx="1370.5" cy="1148.1" r="4.15"/><circle cx="1370.5" cy="1151.7" r="4.15"/><circle cx="1384.9" cy="1136.3" r="4.15"/><circle cx="1384.9" cy="1148.1" r="4.15"/><circle cx="1384.9" cy="1212.7" r="4.15"/><circle cx="1399.4" cy="963.2" r="4.15"/><circle cx="1399.4" cy="982.2" r="4.15"/><circle cx="1399.4" cy="1003.8" r="4.15"/><circle cx="1399.4" cy="1007.4" r="4.15"/><circle cx="1399.4" cy="1019.2" r="4.15"/><circle cx="1399.4" cy="1055.3" r="4.15"/><circle cx="1399.4" cy="1066.1" r="4.15"/><circle cx="1399.4" cy="1069.8" r="4.15"/><circle cx="1399.4" cy="1105.9" r="4.15"/><circle cx="1399.4" cy="1117.6" r="4.15"/><circle cx="1399.4" cy="1122.1" r="4.15"/><circle cx="1421.1" cy="1007.8" r="4.15"/><circle cx="1428.3" cy="995.7" r="4.15"/><circle cx="1428.3" cy="1035.4" r="4.15"/><circle cx="1428.3" cy="1055.7" r="4.15"/><circle cx="1428.3" cy="1101.4" r="4.15"/><circle cx="1428.3" cy="1104.1" r="4.15"/><circle cx="1428.3" cy="1142" r="4.15"/><circle cx="1428.3" cy="1147.4" r="4.15"/><circle cx="1442.7" cy="1040" r="4.15"/><circle cx="1442.7" cy="1049" r="4.15"/><circle cx="1442.7" cy="1065.6" r="4.15"/><circle cx="1442.7" cy="1095.9" r="4.15"/><circle cx="1442.7" cy="1105.9" r="4.15"/><circle cx="1442.7" cy="1115.8" r="4.15"/><circle cx="1457.2" cy="1062.5" r="4.15"/><circle cx="1457.2" cy="1070.7" r="4.15"/><circle cx="1457.2" cy="1151" r="4.15"/><circle cx="1471.7" cy="986.3" r="4.15"/><circle cx="1471.7" cy="997" r="4.15"/><circle cx="1471.7" cy="1023.3" r="4.15"/><circle cx="1471.7" cy="1055.3" r="4.15"/><circle cx="1471.7" cy="1061.6" r="4.15"/><circle cx="1471.7" cy="1100.5" r="4.15"/><circle cx="1471.7" cy="1107.7" r="4.15"/><circle cx="1471.7" cy="1112.2" r="4.15"/><circle cx="1471.7" cy="1126.6" r="4.15"/><circle cx="1471.7" cy="1134.8" r="4.15"/><circle cx="1481.8" cy="1130.6" r="4.15"/><circle cx="1486.1" cy="1089.6" r="4.15"/><circle cx="1500.6" cy="1045.9" r="4.15"/><circle cx="1500.6" cy="1058" r="4.15"/><circle cx="1500.6" cy="1112.7" r="4.15"/><circle cx="1515" cy="1007.8" r="4.15"/><circle cx="1515" cy="1094.1" r="4.15"/><circle cx="1515" cy="1100.5" r="4.15"/><circle cx="1515" cy="1142" r="4.15"/><circle cx="1515" cy="1144.7" r="4.15"/><circle cx="1543.9" cy="1040" r="4.15"/><circle cx="1543.9" cy="1091.8" r="4.15"/><circle cx="1543.9" cy="1094.1" r="4.15"/><circle cx="1587.3" cy="1067.9" r="4.15"/><circle cx="1616.2" cy="1029.1" r="4.15"/><circle cx="1688.5" cy="1067.9" r="4.15"/><circle cx="1688.5" cy="1095.6" r="4.15"/><circle cx="1413.8" cy="1151.9" r="4.15"/><circle cx="1399.4" cy="1133.6" r="4.15"/><circle cx="1399.4" cy="1138.1" r="4.15"/><circle cx="1399.4" cy="1145.3" r="4.15"/><circle cx="1399.4" cy="1149.9" r="4.15"/><circle cx="1399.4" cy="1156.2" r="4.15"/><circle cx="1399.4" cy="1164.3" r="4.15"/><circle cx="1399.4" cy="1169.7" r="4.15"/><circle cx="1399.4" cy="1188.3" r="4.15"/><circle cx="1435.5" cy="1166.7" r="4.15"/><circle cx="1478.9" cy="1164.3" r="4.15"/><circle cx="1168.1" cy="1168.7" r="4.15"/><circle cx="1168.1" cy="1137.9" r="4.15"/><circle cx="1168.1" cy="1109.6" r="4.15"/><circle cx="1168.1" cy="1103.2" r="4.15"/><circle cx="1182.5" cy="1109.5" r="4.15"/><circle cx="1182.5" cy="1139.5" r="4.15"/><circle cx="1182.5" cy="1132" r="4.15"/><circle cx="1182.5" cy="1147.3" r="4.15"/><circle cx="1182.5" cy="1175.3" r="4.15"/><circle cx="1197" cy="1150" r="4.15"/><circle cx="1197" cy="1112.7" r="4.15"/><circle cx="1197" cy="1131.1" r="4.15"/><circle cx="1197" cy="1146.1" r="4.15"/><circle cx="1211.4" cy="1162.5" r="4.15"/><circle cx="1211.4" cy="1137.1" r="4.15"/><circle cx="1211.4" cy="1149.9" r="4.15"/><circle cx="1211.4" cy="1133.7" r="4.15"/><circle cx="1211.4" cy="1121.8" r="4.15"/><circle cx="1211.4" cy="1194.7" r="4.15"/><circle cx="1225.9" cy="1133.9" r="4.15"/><circle cx="1225.9" cy="1170.1" r="4.15"/><circle cx="1225.9" cy="1156.2" r="4.15"/><circle cx="1225.9" cy="1164.2" r="4.15"/><circle cx="1225.9" cy="1102.3" r="4.15"/><circle cx="1225.9" cy="1113.9" r="4.15"/><circle cx="1225.9" cy="1118.5" r="4.15"/><circle cx="1240.4" cy="1148" r="4.15"/><circle cx="1240.4" cy="1166.4" r="4.15"/><circle cx="1240.4" cy="1138.5" r="4.15"/><circle cx="1240.4" cy="1123.2" r="4.15"/><circle cx="1240.4" cy="1130.4" r="4.15"/><circle cx="1254.8" cy="1107.4" r="4.15"/><circle cx="1254.8" cy="1134.8" r="4.15"/><circle cx="1254.8" cy="1078.1" r="4.15"/><circle cx="1254.8" cy="1108.2" r="4.15"/><circle cx="1254.8" cy="1073" r="4.15"/><circle cx="1254.8" cy="1119" r="4.15"/><circle cx="1254.8" cy="1131.6" r="4.15"/><circle cx="1254.8" cy="1147.8" r="4.15"/><circle cx="1254.8" cy="1104.2" r="4.15"/><circle cx="1269.3" cy="1094.8" r="4.15"/><circle cx="1269.3" cy="1118.3" r="4.15"/><circle cx="1269.3" cy="1111.6" r="4.15"/><circle cx="1269.3" cy="1129.6" r="4.15"/><circle cx="1269.3" cy="1133.4" r="4.15"/><circle cx="1283.7" cy="1127" r="4.15"/><circle cx="1283.7" cy="1168.9" r="4.15"/><circle cx="1283.7" cy="1146" r="4.15"/><circle cx="1283.7" cy="1118.3" r="4.15"/><circle cx="1283.7" cy="1116.1" r="4.15"/><circle cx="1283.7" cy="1090.8" r="4.15"/><circle cx="1283.7" cy="1102.8" r="4.15"/><circle cx="1298.2" cy="1105.2" r="4.15"/><circle cx="1298.2" cy="1115" r="4.15"/><circle cx="1298.2" cy="1175.9" r="4.15"/><circle cx="1298.2" cy="1115" r="4.15"/><circle cx="1298.2" cy="1139.7" r="4.15"/><circle cx="1312.6" cy="1100.4" r="4.15"/><circle cx="1312.6" cy="1120.7" r="4.15"/><circle cx="1312.6" cy="1122.2" r="4.15"/><circle cx="1312.6" cy="1127.5" r="4.15"/><circle cx="1312.6" cy="1121" r="4.15"/><circle cx="1327.1" cy="1161.9" r="4.15"/><circle cx="1327.1" cy="1152.3" r="4.15"/><circle cx="1327.1" cy="1078.4" r="4.15"/><circle cx="1327.1" cy="1098.9" r="4.15"/><circle cx="1327.1" cy="1122" r="4.15"/><circle cx="1327.1" cy="1119.5" r="4.15"/><circle cx="1327.1" cy="1120" r="4.15"/><circle cx="1327.1" cy="1024.7" r="4.15"/><circle cx="1341.5" cy="1093.6" r="4.15"/><circle cx="1341.5" cy="1107.2" r="4.15"/><circle cx="1341.5" cy="1125" r="4.15"/><circle cx="1356" cy="1166.5" r="4.15"/><circle cx="1356" cy="1101" r="4.15"/><circle cx="1356" cy="1067.7" r="4.15"/><circle cx="1370.5" cy="1076.6" r="4.15"/><circle cx="1370.5" cy="1094.2" r="4.15"/><circle cx="1370.5" cy="1117.2" r="4.15"/><circle cx="1399.4" cy="1126.3" r="4.15"/><circle cx="1399.4" cy="1093.1" r="4.15"/><circle cx="1399.4" cy="1106" r="4.15"/><circle cx="1399.4" cy="1125.2" r="4.15"/>
</g>
<path class="bd" d="M1095.8 1148.6 L1110.6 1146 L1125.4 1143.4 L1140.2 1140.7 L1155.1 1138 L1169.9 1135.3 L1184.7 1132.6 L1199.5 1129.9 L1214.3 1127.1 L1229.2 1124.2 L1244 1121.3 L1258.8 1118.4 L1273.6 1115.4 L1288.4 1112.3 L1303.2 1109.2 L1318.1 1106 L1332.9 1102.7 L1347.7 1099.4 L1362.5 1096 L1377.3 1092.6 L1392.1 1089.1 L1407 1085.6 L1421.8 1082 L1436.6 1078.4 L1451.4 1074.8 L1466.2 1071.2 L1481 1067.6 L1495.9 1063.9 L1510.7 1060.2 L1525.5 1056.5 L1540.3 1052.8 L1555.1 1049.1 L1570 1045.4 L1584.8 1041.7 L1599.6 1038 L1614.4 1034.2 L1629.2 1030.5 L1644 1026.8 L1658.9 1023 L1673.7 1019.3 L1688.5 1015.5 L1688.5 1051.5 L1673.7 1054 L1658.9 1056.6 L1644 1059.1 L1629.2 1061.6 L1614.4 1064.2 L1599.6 1066.8 L1584.8 1069.3 L1570 1071.9 L1555.1 1074.5 L1540.3 1077 L1525.5 1079.6 L1510.7 1082.2 L1495.9 1084.9 L1481 1087.5 L1466.2 1090.1 L1451.4 1092.8 L1436.6 1095.5 L1421.8 1098.2 L1407 1100.9 L1392.1 1103.7 L1377.3 1106.5 L1362.5 1109.3 L1347.7 1112.2 L1332.9 1115.2 L1318.1 1118.2 L1303.2 1121.3 L1288.4 1124.4 L1273.6 1127.7 L1258.8 1130.9 L1244 1134.3 L1229.2 1137.7 L1214.3 1141.1 L1199.5 1144.6 L1184.7 1148.2 L1169.9 1151.7 L1155.1 1155.3 L1140.2 1159 L1125.4 1162.6 L1110.6 1166.2 L1095.8 1169.9 Z"/>
<line class="ln" x1="1095.8" y1="1159.3" x2="1688.5" y2="1033.5"/>
<rect class="fr" x="1038.3" y="802.5" width="723.5" height="482.3"/>
<path class="t" d="M1110.2 1286.9 v18.5 M1110.2 804.6 v18.5 M1254.8 1286.9 v18.5 M1254.8 804.6 v18.5 M1399.4 1286.9 v18.5 M1399.4 804.6 v18.5 M1543.9 1286.9 v18.5 M1543.9 804.6 v18.5 M1688.5 1286.9 v18.5 M1688.5 804.6 v18.5 M1182.5 1286.9 v9.3 M1182.5 804.6 v9.3 M1327.1 1286.9 v9.3 M1327.1 804.6 v9.3 M1471.7 1286.9 v9.3 M1471.7 804.6 v9.3 M1616.2 1286.9 v9.3 M1616.2 804.6 v9.3 M1761.8 1286.9 v9.3 M1036.2 1284.8 h-18.5 M1759.7 1284.8 h-18.5 M1036.2 1164.2 h-18.5 M1759.7 1164.2 h-18.5 M1036.2 1043.7 h-18.5 M1759.7 1043.7 h-18.5 M1036.2 923.1 h-18.5 M1759.7 923.1 h-18.5 M1036.2 802.5 h-18.5 M1759.7 802.5 h-18.5"/>
<text class="tk" text-anchor="middle" x="1109.5" y="1340.7">40</text>
<text class="tk" text-anchor="middle" x="1254" y="1340.7">50</text>
<text class="tk" text-anchor="middle" x="1398.6" y="1340.7">60</text>
<text class="tk" text-anchor="middle" x="1543.1" y="1340.7">70</text>
<text class="tk" text-anchor="middle" x="1687.7" y="1340.7">80</text>
<text class="tk" text-anchor="end" x="1012" y="1295.4">10</text>
<text class="tk" text-anchor="end" x="1012" y="1174.8">20</text>
<text class="tk" text-anchor="end" x="1012" y="1054.2">30</text>
<text class="tk" text-anchor="end" x="1012" y="933.7">40</text>
<text class="tk" text-anchor="end" x="1012" y="813.1">50</text>
<text class="an" x="1099.7" y="906.1" textLength="596.5" lengthAdjust="spacing">R=0.391, p&lt;0.0001, Y = 0.2544*X + 10.49</text>
<text class="ti" text-anchor="middle" x="1435" y="744">Women, Non-dominant</text>
<text class="lt" x="918.6" y="739.5">D</text>
<text class="ax" text-anchor="middle" x="1400.3" y="1398.9">Weight/Kg</text>
<text class="ax" text-anchor="middle" textLength="284" lengthAdjust="spacing" transform="translate(957 1044.4) rotate(-90)">Grip Strength/Kg</text>
</g>
</svg></body></html>
